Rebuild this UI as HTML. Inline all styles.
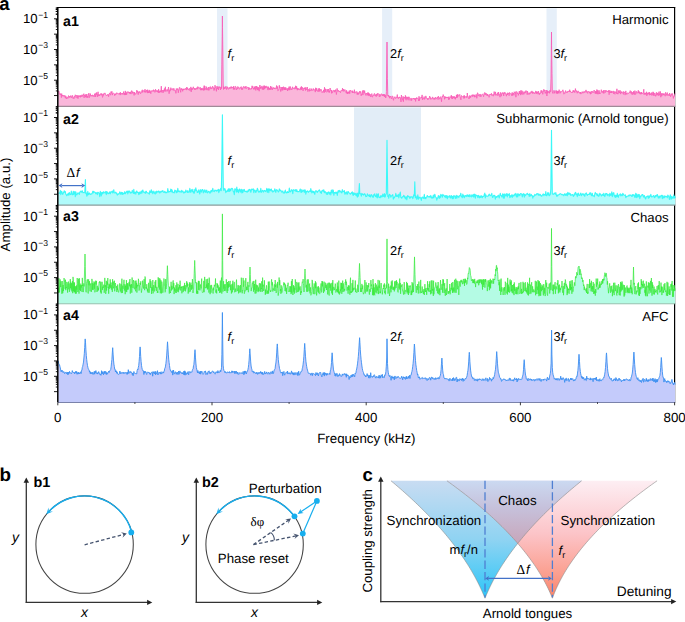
<!DOCTYPE html>
<html><head><meta charset="utf-8"><style>html,body{margin:0;padding:0;background:#fff;}svg{display:block;text-rendering:geometricPrecision;}</style></head><body>
<svg width="685" height="622" viewBox="0 0 685 622" text-rendering="geometricPrecision" style="text-rendering:geometricPrecision">
<rect width="685" height="622" fill="#fff"/>
<line x1="57" y1="7.5" x2="675.2" y2="7.5" stroke="#000" stroke-width="1.1"/>
<line x1="674.6" y1="7" x2="674.6" y2="402.3" stroke="#000" stroke-width="1.2"/>
<rect x="217.0" y="8.3" width="10.5" height="97.9" fill="#e6eff9"/>
<rect x="382.1" y="8.3" width="10.1" height="97.9" fill="#e6eff9"/>
<rect x="546.5" y="8.3" width="10.3" height="97.9" fill="#e6eff9"/>
<rect x="354" y="107.4" width="67" height="97.5" fill="#e2edf7"/>
<path d="M58.3,106.2 L58.3,92.2L58.6,90.8L59.0,91.3L59.3,93.9L59.7,93.9L60.0,94.6L60.3,93.5L60.7,94.7L61.0,94.0L61.4,97.6L61.7,93.6L62.0,96.0L62.4,95.1L62.7,96.2L63.1,96.5L63.4,95.5L63.7,95.1L64.1,96.4L64.4,96.4L64.8,95.4L65.1,97.4L65.4,98.2L65.8,95.9L66.1,97.3L66.5,98.9L66.8,97.5L67.1,97.1L67.5,98.1L67.8,98.5L68.2,96.6L68.5,95.6L68.8,97.0L69.2,97.7L69.5,96.4L69.9,96.0L70.2,97.3L70.5,96.2L70.9,95.5L71.2,97.1L71.6,97.8L71.9,96.3L72.2,96.4L72.6,95.4L72.9,98.3L73.3,97.5L73.6,97.7L73.9,98.8L74.3,96.5L74.6,95.9L75.0,97.5L75.3,94.8L75.6,95.5L76.0,95.7L76.3,96.0L76.7,95.3L77.0,98.1L77.3,95.6L77.7,95.6L78.0,98.6L78.4,95.9L78.7,96.6L79.0,95.3L79.4,96.8L79.7,96.3L80.1,95.8L80.4,97.3L80.7,95.4L81.1,96.3L81.4,95.5L81.8,96.8L82.1,94.7L82.4,95.3L82.8,96.3L83.1,95.2L83.5,94.4L83.8,93.7L84.1,97.9L84.5,94.8L84.8,95.3L85.2,96.0L85.5,97.1L85.8,94.3L86.2,97.4L86.5,95.1L86.9,94.1L87.2,97.8L87.5,96.1L87.9,97.3L88.2,95.4L88.6,93.8L88.9,93.1L89.2,97.8L89.6,96.3L89.9,94.7L90.3,93.6L90.6,95.0L90.9,96.4L91.3,95.1L91.6,95.5L92.0,95.7L92.3,96.3L92.6,94.9L93.0,95.0L93.3,95.5L93.7,95.6L94.0,96.9L94.3,95.9L94.7,93.7L95.0,95.5L95.4,97.0L95.7,93.5L96.0,94.5L96.4,92.5L96.7,95.0L97.1,95.7L97.4,96.9L97.7,93.4L98.1,91.8L98.4,96.0L98.8,95.8L99.1,94.2L99.4,96.0L99.8,95.3L100.1,95.3L100.5,94.6L100.8,93.5L101.1,94.8L101.5,93.6L101.8,95.3L102.2,94.3L102.5,97.4L102.8,96.5L103.2,93.7L103.5,95.4L103.9,93.9L104.2,93.9L104.5,92.9L104.9,93.5L105.2,93.3L105.6,94.7L105.9,95.4L106.2,95.4L106.6,95.0L106.9,95.8L107.3,95.1L107.6,94.5L107.9,94.0L108.3,94.7L108.6,96.7L109.0,94.4L109.3,94.0L109.6,92.9L110.0,93.5L110.3,95.0L110.7,95.1L111.0,91.6L111.3,93.2L111.7,91.8L112.0,91.4L112.4,95.1L112.7,93.5L113.0,93.4L113.4,93.3L113.7,93.3L114.1,93.7L114.4,93.7L114.7,95.7L115.1,94.1L115.4,94.8L115.8,93.6L116.1,94.4L116.4,93.0L116.8,92.7L117.1,93.3L117.5,93.3L117.8,93.5L118.1,94.2L118.5,93.8L118.8,94.2L119.2,93.1L119.5,93.5L119.8,92.8L120.2,95.1L120.5,92.4L120.9,94.4L121.2,94.3L121.5,93.6L121.9,94.1L122.2,93.0L122.6,94.0L122.9,94.6L123.2,94.3L123.6,91.6L123.9,93.2L124.3,94.7L124.6,93.2L124.9,95.1L125.3,90.9L125.6,95.0L126.0,92.5L126.3,92.4L126.6,94.8L127.0,92.6L127.3,91.7L127.7,92.4L128.0,92.6L128.3,91.7L128.7,92.7L129.0,92.4L129.4,93.0L129.7,92.0L130.0,94.0L130.4,91.8L130.7,93.4L131.1,94.1L131.4,92.2L131.7,90.6L132.1,91.5L132.4,93.3L132.8,91.7L133.1,93.2L133.4,92.7L133.8,92.4L134.1,95.4L134.5,92.2L134.8,93.8L135.1,93.3L135.5,94.3L135.8,94.3L136.2,93.5L136.5,91.3L136.8,90.2L137.2,92.3L137.5,90.9L137.9,92.6L138.2,94.6L138.5,92.0L138.9,91.6L139.2,92.7L139.6,91.8L139.9,91.4L140.2,93.2L140.6,93.9L140.9,92.3L141.3,92.3L141.6,92.4L141.9,90.7L142.3,89.8L142.6,92.4L143.0,91.0L143.3,90.7L143.6,91.0L144.0,90.5L144.3,92.3L144.7,90.8L145.0,89.2L145.3,90.7L145.7,92.5L146.0,90.9L146.4,90.1L146.7,91.2L147.0,92.3L147.4,89.7L147.7,93.1L148.1,90.9L148.4,91.5L148.7,93.0L149.1,89.9L149.4,91.0L149.8,92.9L150.1,90.6L150.4,91.9L150.8,93.7L151.1,92.2L151.5,91.0L151.8,90.5L152.1,91.1L152.5,91.2L152.8,90.6L153.2,91.5L153.5,89.7L153.8,91.0L154.2,90.8L154.5,90.5L154.9,92.4L155.2,92.0L155.5,89.2L155.9,90.6L156.2,91.4L156.6,90.6L156.9,91.6L157.2,90.6L157.6,91.8L157.9,90.6L158.3,92.9L158.6,89.2L158.9,91.5L159.3,92.8L159.6,91.1L160.0,91.3L160.3,90.6L160.6,92.2L161.0,90.2L161.3,86.2L161.7,92.3L162.0,90.3L162.3,91.0L162.7,90.4L163.0,92.9L163.4,92.0L163.7,90.0L164.0,90.6L164.4,88.5L164.7,91.4L165.1,90.3L165.4,86.8L165.7,91.4L166.1,91.6L166.4,90.5L166.8,90.5L167.1,89.3L167.4,90.2L167.8,91.3L168.1,90.0L168.5,87.0L168.8,88.7L169.1,93.7L169.5,90.4L169.8,91.3L170.2,89.4L170.5,90.4L170.8,87.7L171.2,89.0L171.5,89.0L171.9,89.9L172.2,90.1L172.5,89.6L172.9,88.4L173.2,89.3L173.6,90.4L173.9,88.4L174.2,89.7L174.6,90.0L174.9,90.9L175.3,90.6L175.6,90.7L175.9,93.3L176.3,88.6L176.6,89.1L177.0,90.1L177.3,88.5L177.6,89.2L178.0,89.3L178.3,92.8L178.7,90.0L179.0,89.0L179.3,87.6L179.7,87.3L180.0,87.8L180.4,91.0L180.7,92.3L181.0,88.8L181.4,89.5L181.7,88.3L182.1,89.6L182.4,89.2L182.7,91.3L183.1,88.9L183.4,90.0L183.8,88.9L184.1,88.8L184.4,89.5L184.8,88.9L185.1,89.3L185.5,88.3L185.8,88.6L186.1,89.9L186.5,89.9L186.8,87.0L187.2,89.3L187.5,87.9L187.8,88.6L188.2,89.8L188.5,90.0L188.9,88.9L189.2,88.7L189.5,88.3L189.9,90.6L190.2,89.7L190.6,89.1L190.9,86.9L191.2,91.9L191.6,88.4L191.9,89.6L192.3,88.3L192.6,89.5L192.9,88.4L193.3,86.8L193.6,88.3L194.0,88.2L194.3,88.3L194.6,89.7L195.0,88.0L195.3,88.9L195.7,89.7L196.0,88.7L196.3,88.9L196.7,87.7L197.0,88.6L197.4,89.2L197.7,86.7L198.0,87.3L198.4,86.9L198.7,87.7L199.1,88.6L199.4,89.0L199.7,88.8L200.1,87.2L200.4,88.3L200.8,90.2L201.1,88.4L201.4,90.1L201.8,88.2L202.1,89.9L202.5,89.9L202.8,88.2L203.1,88.4L203.5,90.4L203.8,87.4L204.2,85.6L204.5,90.2L204.8,86.0L205.2,89.2L205.5,88.9L205.9,88.5L206.2,90.1L206.5,86.7L206.9,87.7L207.2,89.2L207.6,88.6L207.9,90.2L208.2,88.7L208.6,87.1L208.9,90.4L209.3,88.8L209.6,88.1L209.9,86.9L210.3,86.5L210.6,88.8L211.0,89.1L211.3,87.6L211.6,88.7L212.0,88.6L212.3,86.8L212.7,86.1L213.0,87.9L213.3,88.4L213.7,87.5L214.0,90.5L214.4,88.2L214.7,89.5L215.0,85.2L215.4,87.2L215.7,88.0L216.1,88.4L216.4,91.3L216.7,87.2L217.1,86.1L217.4,89.0L217.8,87.2L218.1,87.2L218.4,90.0L218.8,86.9L219.1,86.4L219.5,87.8L219.8,88.1L220.1,87.1L220.5,90.0L220.8,87.9L221.2,86.7L221.5,88.6L221.8,64.9L222.2,36.8L222.4,16.0L222.5,27.6L222.9,56.2L223.2,84.0L223.5,89.5L223.9,86.7L224.2,88.9L224.6,87.5L224.9,88.7L225.2,88.4L225.6,86.5L225.9,87.7L226.3,88.5L226.6,89.5L226.9,86.5L227.3,87.0L227.6,88.3L228.0,87.6L228.3,89.2L228.6,89.2L229.0,88.9L229.3,87.5L229.7,87.5L230.0,88.8L230.3,87.0L230.7,86.9L231.0,87.7L231.4,86.6L231.7,88.3L232.0,88.0L232.4,87.3L232.7,87.9L233.1,86.9L233.4,89.5L233.7,86.1L234.1,88.9L234.4,88.1L234.8,89.6L235.1,87.1L235.4,86.3L235.8,86.6L236.1,86.9L236.5,89.8L236.8,88.9L237.1,88.5L237.5,89.1L237.8,86.5L238.2,87.7L238.5,87.9L238.8,87.3L239.2,89.1L239.5,89.0L239.9,89.0L240.2,87.3L240.5,87.5L240.9,87.2L241.2,86.6L241.6,89.6L241.9,88.6L242.2,87.7L242.6,89.6L242.9,88.6L243.3,86.6L243.6,86.5L243.9,86.6L244.3,87.8L244.6,88.2L245.0,86.6L245.3,88.4L245.6,87.5L246.0,86.2L246.3,88.4L246.7,88.7L247.0,87.9L247.3,87.2L247.7,87.3L248.0,87.7L248.4,87.2L248.7,89.9L249.0,89.0L249.4,87.7L249.7,89.1L250.1,89.6L250.4,89.4L250.7,89.0L251.1,88.1L251.4,89.2L251.8,87.6L252.1,85.8L252.4,88.1L252.8,86.3L253.1,87.5L253.5,89.3L253.8,88.2L254.1,89.1L254.5,86.9L254.8,89.3L255.2,86.2L255.5,87.2L255.8,90.4L256.2,86.9L256.5,86.0L256.9,88.9L257.2,86.7L257.5,90.1L257.9,87.6L258.2,90.0L258.6,87.3L258.9,90.1L259.2,91.2L259.6,87.4L259.9,85.0L260.3,88.7L260.6,86.9L260.9,87.8L261.3,88.3L261.6,87.2L262.0,85.9L262.3,89.5L262.6,87.3L263.0,87.5L263.3,89.8L263.7,86.0L264.0,85.6L264.3,89.2L264.7,85.8L265.0,88.0L265.4,88.2L265.7,86.2L266.0,87.8L266.4,87.7L266.7,86.2L267.1,86.5L267.4,87.0L267.7,89.8L268.1,90.1L268.4,86.7L268.8,89.3L269.1,87.9L269.4,89.5L269.8,88.4L270.1,89.8L270.5,86.1L270.8,89.4L271.1,88.3L271.5,88.4L271.8,86.7L272.2,90.0L272.5,88.3L272.8,88.5L273.2,87.6L273.5,87.6L273.9,88.8L274.2,88.0L274.5,88.7L274.9,87.7L275.2,88.4L275.6,89.1L275.9,88.3L276.2,87.9L276.6,85.5L276.9,88.9L277.3,87.9L277.6,86.5L277.9,90.9L278.3,90.5L278.6,89.9L279.0,88.5L279.3,85.3L279.6,87.9L280.0,86.9L280.3,88.7L280.7,91.5L281.0,91.3L281.3,87.2L281.7,88.2L282.0,90.1L282.4,87.1L282.7,90.4L283.0,87.1L283.4,86.7L283.7,89.4L284.1,89.9L284.4,87.5L284.7,89.9L285.1,87.4L285.4,90.0L285.8,87.5L286.1,88.4L286.4,89.1L286.8,89.7L287.1,88.3L287.5,91.0L287.8,88.9L288.1,89.1L288.5,87.8L288.8,90.2L289.2,86.5L289.5,89.0L289.8,90.1L290.2,86.9L290.5,86.6L290.9,88.9L291.2,89.8L291.5,88.7L291.9,89.6L292.2,89.1L292.6,86.8L292.9,88.2L293.2,88.5L293.6,88.3L293.9,88.8L294.3,87.7L294.6,87.7L294.9,89.2L295.3,88.7L295.6,85.8L296.0,88.3L296.3,89.0L296.6,86.3L297.0,88.8L297.3,90.2L297.7,88.0L298.0,90.0L298.3,89.5L298.7,88.5L299.0,89.0L299.4,89.8L299.7,89.6L300.0,89.6L300.4,87.5L300.7,89.8L301.1,89.7L301.4,86.4L301.7,89.7L302.1,87.2L302.4,87.4L302.8,89.3L303.1,90.9L303.4,88.5L303.8,88.3L304.1,87.9L304.5,89.1L304.8,87.7L305.1,87.5L305.5,90.5L305.8,87.5L306.2,89.1L306.5,90.0L306.8,89.7L307.2,87.0L307.5,88.1L307.9,91.6L308.2,89.3L308.5,89.6L308.9,89.7L309.2,90.1L309.6,91.3L309.9,88.4L310.2,90.7L310.6,90.0L310.9,90.3L311.3,90.5L311.6,88.7L311.9,89.1L312.3,90.5L312.6,90.8L313.0,90.3L313.3,88.5L313.6,89.6L314.0,89.4L314.3,90.2L314.7,90.1L315.0,89.5L315.3,92.1L315.7,87.8L316.0,90.8L316.4,90.6L316.7,88.2L317.0,89.6L317.4,89.9L317.7,90.7L318.1,91.9L318.4,89.8L318.7,88.5L319.1,91.2L319.4,88.4L319.8,91.5L320.1,91.0L320.4,89.5L320.8,90.1L321.1,89.3L321.5,91.1L321.8,91.5L322.1,92.6L322.5,91.8L322.8,91.6L323.2,92.1L323.5,89.9L323.8,91.2L324.2,92.8L324.5,87.3L324.9,91.4L325.2,92.0L325.5,88.9L325.9,89.0L326.2,91.9L326.6,92.3L326.9,91.8L327.2,89.1L327.6,90.9L327.9,91.6L328.3,90.6L328.6,89.1L328.9,92.4L329.3,91.1L329.6,92.4L330.0,88.0L330.3,88.4L330.6,89.5L331.0,90.9L331.3,90.0L331.7,93.4L332.0,90.5L332.3,92.5L332.7,92.5L333.0,91.8L333.4,91.3L333.7,90.2L334.0,90.1L334.4,90.6L334.7,92.2L335.1,90.2L335.4,91.2L335.7,89.6L336.1,92.2L336.4,94.5L336.8,91.7L337.1,88.4L337.4,90.6L337.8,91.4L338.1,90.1L338.5,90.6L338.8,90.7L339.1,91.9L339.5,91.2L339.8,91.0L340.2,92.1L340.5,92.7L340.8,91.2L341.2,90.2L341.5,90.6L341.9,90.8L342.2,90.8L342.5,88.2L342.9,91.1L343.2,90.2L343.6,89.1L343.9,91.5L344.2,91.2L344.6,90.3L344.9,89.5L345.3,91.2L345.6,91.2L345.9,91.5L346.3,93.2L346.6,90.3L347.0,92.0L347.3,93.9L347.6,91.9L348.0,93.9L348.3,93.1L348.7,91.8L349.0,93.0L349.3,90.5L349.7,93.7L350.0,91.6L350.4,91.2L350.7,90.1L351.0,90.9L351.4,91.8L351.7,92.0L352.1,92.2L352.4,90.7L352.7,93.0L353.1,91.6L353.4,92.4L353.8,92.0L354.1,92.7L354.4,89.7L354.8,93.3L355.1,92.2L355.5,92.2L355.8,91.8L356.1,92.0L356.5,92.1L356.8,91.5L357.2,94.6L357.5,92.7L357.8,94.3L358.2,92.5L358.5,94.4L358.9,94.1L359.2,93.0L359.5,91.3L359.9,92.3L360.2,92.7L360.6,91.4L360.9,94.3L361.2,95.8L361.6,93.8L361.9,93.6L362.3,91.8L362.6,90.7L362.9,95.1L363.3,90.3L363.6,91.5L364.0,92.5L364.3,93.1L364.6,90.6L365.0,93.5L365.3,94.3L365.7,93.5L366.0,95.5L366.3,93.2L366.7,94.0L367.0,93.5L367.4,93.5L367.7,95.3L368.0,92.3L368.4,95.3L368.7,93.0L369.1,96.1L369.4,93.7L369.7,95.2L370.1,94.2L370.4,95.1L370.8,97.0L371.1,95.7L371.4,94.3L371.8,93.6L372.1,96.3L372.5,97.2L372.8,95.6L373.1,94.8L373.5,95.4L373.8,95.7L374.2,93.6L374.5,93.5L374.8,93.9L375.2,96.0L375.5,94.8L375.9,95.1L376.2,96.7L376.5,93.9L376.9,94.9L377.2,95.7L377.6,93.3L377.9,94.2L378.2,94.1L378.6,93.7L378.9,94.4L379.3,96.9L379.6,95.8L379.9,94.1L380.3,96.4L380.6,95.4L381.0,95.0L381.3,93.7L381.6,93.9L382.0,94.5L382.3,95.9L382.7,94.5L383.0,95.1L383.3,96.0L383.7,94.1L384.0,95.2L384.4,96.8L384.7,94.3L385.0,96.3L385.4,95.3L385.7,98.0L386.1,96.1L386.4,91.4L386.7,66.0L387.0,42.0L387.4,78.2L387.8,95.8L388.1,96.0L388.4,95.0L388.8,96.6L389.1,95.8L389.5,98.2L389.8,96.3L390.1,97.1L390.5,96.0L390.8,96.4L391.2,98.4L391.5,99.0L391.8,98.0L392.2,95.9L392.5,96.3L392.9,96.4L393.2,99.5L393.5,100.3L393.9,97.8L394.2,97.5L394.6,97.8L394.9,96.7L395.2,97.4L395.6,98.7L395.9,98.4L396.3,97.1L396.6,97.2L396.9,97.5L397.3,94.6L397.6,97.8L398.0,97.3L398.3,98.8L398.6,98.0L399.0,97.0L399.3,96.9L399.7,97.9L400.0,97.2L400.3,97.7L400.7,100.2L401.0,101.9L401.4,95.0L401.7,96.9L402.0,98.0L402.4,100.2L402.7,99.6L403.1,96.4L403.4,101.6L403.7,98.6L404.1,97.1L404.4,98.1L404.8,97.3L405.1,98.5L405.4,95.4L405.8,99.7L406.1,100.2L406.5,98.1L406.8,96.7L407.1,98.6L407.5,97.3L407.8,99.3L408.2,100.2L408.5,97.0L408.8,96.8L409.2,96.9L409.5,99.4L409.9,100.3L410.2,100.4L410.5,99.2L410.9,98.1L411.2,98.2L411.6,100.6L411.9,98.6L412.2,98.8L412.6,98.7L412.9,98.8L413.3,99.0L413.6,98.0L413.9,98.6L414.3,98.5L414.6,99.6L415.0,98.2L415.3,98.9L415.6,101.4L416.0,98.1L416.3,99.0L416.7,97.5L417.0,98.9L417.3,98.8L417.7,98.4L418.0,98.6L418.4,99.2L418.7,100.9L419.0,96.3L419.4,100.6L419.7,99.0L420.1,97.7L420.4,98.1L420.7,97.8L421.1,97.6L421.4,96.9L421.8,98.1L422.1,94.9L422.4,99.8L422.8,98.2L423.1,98.9L423.5,99.1L423.8,98.1L424.1,96.6L424.5,99.3L424.8,99.3L425.2,97.5L425.5,97.7L425.8,95.9L426.2,97.1L426.5,98.1L426.9,98.7L427.2,98.1L427.5,98.5L427.9,100.0L428.2,98.3L428.6,98.5L428.9,98.6L429.2,98.8L429.6,96.1L429.9,97.4L430.3,97.1L430.6,99.0L430.9,99.5L431.3,98.5L431.6,97.9L432.0,98.6L432.3,98.4L432.6,96.9L433.0,97.8L433.3,99.4L433.7,98.6L434.0,98.9L434.3,97.9L434.7,99.5L435.0,98.3L435.4,97.2L435.7,98.0L436.0,99.2L436.4,98.8L436.7,97.9L437.1,97.4L437.4,96.9L437.7,98.2L438.1,99.6L438.4,96.2L438.8,97.6L439.1,97.4L439.4,97.5L439.8,99.2L440.1,98.3L440.5,97.5L440.8,96.6L441.1,97.7L441.5,101.7L441.8,98.1L442.2,97.3L442.5,96.1L442.8,96.8L443.2,94.6L443.5,95.9L443.9,96.0L444.2,96.4L444.5,99.3L444.9,96.5L445.2,96.8L445.6,98.2L445.9,96.8L446.2,97.0L446.6,98.0L446.9,97.6L447.3,97.7L447.6,97.1L447.9,97.9L448.3,96.7L448.6,99.7L449.0,97.7L449.3,99.4L449.6,97.9L450.0,96.6L450.3,97.2L450.7,97.3L451.0,97.1L451.3,95.2L451.7,98.5L452.0,96.0L452.4,99.0L452.7,97.6L453.0,96.8L453.4,98.1L453.7,96.7L454.1,96.1L454.4,98.4L454.7,97.0L455.1,97.4L455.4,99.3L455.8,97.1L456.1,97.8L456.4,95.1L456.8,97.9L457.1,94.6L457.5,97.4L457.8,94.3L458.1,96.0L458.5,96.1L458.8,95.6L459.2,95.5L459.5,94.8L459.8,94.4L460.2,97.0L460.5,98.1L460.9,99.8L461.2,97.0L461.5,95.5L461.9,96.0L462.2,96.3L462.6,96.8L462.9,97.2L463.2,96.7L463.6,95.8L463.9,98.5L464.3,95.4L464.6,98.1L464.9,96.4L465.3,97.0L465.6,96.7L466.0,97.5L466.3,97.6L466.6,96.4L467.0,97.5L467.3,93.0L467.7,96.6L468.0,96.9L468.3,96.7L468.7,97.3L469.0,99.0L469.4,96.3L469.7,95.5L470.0,97.8L470.4,95.9L470.7,97.4L471.1,95.9L471.4,95.4L471.7,95.2L472.1,95.2L472.4,96.6L472.8,94.6L473.1,96.3L473.4,95.2L473.8,94.8L474.1,96.0L474.5,97.2L474.8,94.8L475.1,97.0L475.5,96.7L475.8,96.9L476.2,94.4L476.5,95.7L476.8,98.3L477.2,94.5L477.5,92.8L477.9,93.1L478.2,96.1L478.5,95.2L478.9,94.7L479.2,94.2L479.6,95.2L479.9,96.6L480.2,94.3L480.6,94.4L480.9,96.8L481.3,95.6L481.6,94.8L481.9,95.1L482.3,94.4L482.6,94.1L483.0,94.4L483.3,95.2L483.6,96.7L484.0,94.2L484.3,93.2L484.7,92.5L485.0,95.0L485.3,94.9L485.7,93.1L486.0,93.0L486.4,94.4L486.7,93.9L487.0,95.7L487.4,94.0L487.7,95.8L488.1,94.9L488.4,94.8L488.7,95.3L489.1,97.3L489.4,95.7L489.8,94.2L490.1,94.7L490.4,95.0L490.8,94.0L491.1,93.6L491.5,93.4L491.8,95.5L492.1,94.4L492.5,94.8L492.8,95.5L493.2,96.2L493.5,94.5L493.8,95.4L494.2,91.6L494.5,94.4L494.9,94.5L495.2,94.7L495.5,91.9L495.9,95.4L496.2,94.4L496.6,95.1L496.9,94.3L497.2,94.1L497.6,92.7L497.9,95.8L498.3,94.1L498.6,92.0L498.9,94.6L499.3,94.2L499.6,95.1L500.0,97.2L500.3,94.0L500.6,92.4L501.0,94.5L501.3,96.2L501.7,93.5L502.0,93.7L502.3,92.6L502.7,92.7L503.0,94.1L503.4,93.3L503.7,96.0L504.0,92.4L504.4,93.5L504.7,92.4L505.1,92.4L505.4,94.0L505.7,93.9L506.1,94.8L506.4,96.2L506.8,93.8L507.1,93.4L507.4,95.0L507.8,92.7L508.1,93.5L508.5,93.0L508.8,94.5L509.1,95.7L509.5,92.5L509.8,92.7L510.2,93.6L510.5,94.0L510.8,93.8L511.2,93.6L511.5,94.1L511.9,95.9L512.2,92.4L512.5,95.3L512.9,93.8L513.2,93.7L513.6,93.0L513.9,95.3L514.2,91.8L514.6,92.5L514.9,92.3L515.3,91.7L515.6,94.2L515.9,97.2L516.3,92.8L516.6,91.6L517.0,91.7L517.3,93.8L517.6,93.3L518.0,92.8L518.3,95.4L518.7,93.9L519.0,93.9L519.3,91.1L519.7,93.9L520.0,91.1L520.4,93.0L520.7,95.1L521.0,90.2L521.4,94.2L521.7,92.2L522.1,90.8L522.4,93.6L522.7,94.5L523.1,91.6L523.4,92.8L523.8,94.4L524.1,94.2L524.4,93.3L524.8,91.6L525.1,93.2L525.5,92.0L525.8,90.7L526.1,91.2L526.5,91.0L526.8,91.2L527.2,94.7L527.5,91.2L527.8,92.3L528.2,92.8L528.5,94.0L528.9,94.6L529.2,94.0L529.5,92.7L529.9,94.1L530.2,93.6L530.6,93.4L530.9,91.7L531.2,92.9L531.6,92.7L531.9,90.9L532.3,92.9L532.6,91.8L532.9,93.8L533.3,92.1L533.6,92.3L534.0,92.2L534.3,93.0L534.6,93.7L535.0,92.8L535.3,93.0L535.7,91.1L536.0,91.2L536.3,93.9L536.7,91.6L537.0,93.0L537.4,91.8L537.7,92.9L538.0,94.2L538.4,91.1L538.7,91.8L539.1,93.9L539.4,94.7L539.7,93.0L540.1,93.8L540.4,92.7L540.8,91.5L541.1,90.4L541.4,92.7L541.8,90.5L542.1,90.8L542.5,92.8L542.8,94.3L543.1,91.2L543.5,91.5L543.8,89.3L544.2,90.4L544.5,91.2L544.8,90.1L545.2,93.5L545.5,91.9L545.9,92.5L546.2,90.0L546.5,91.5L546.9,96.0L547.2,90.4L547.6,93.3L547.9,91.2L548.2,92.7L548.6,91.8L548.9,91.3L549.3,91.9L549.6,93.3L549.9,90.3L550.3,91.6L550.6,91.9L551.0,78.2L551.3,51.1L551.5,32.0L551.6,45.6L552.0,73.5L552.3,91.1L552.7,93.2L553.0,93.5L553.3,91.7L553.7,91.6L554.0,90.3L554.4,91.4L554.7,93.3L555.0,91.3L555.4,90.9L555.7,90.7L556.1,91.5L556.4,93.5L556.7,90.5L557.1,92.8L557.4,91.2L557.8,93.9L558.1,91.0L558.4,92.9L558.8,90.5L559.1,89.7L559.5,90.4L559.8,93.3L560.1,93.1L560.5,93.0L560.8,91.0L561.2,91.4L561.5,91.7L561.8,91.5L562.2,91.2L562.5,91.1L562.9,89.8L563.2,91.9L563.5,91.6L563.9,94.2L564.2,93.5L564.6,92.7L564.9,93.4L565.2,91.6L565.6,90.6L565.9,92.4L566.3,92.5L566.6,92.5L566.9,91.7L567.3,92.6L567.6,91.4L568.0,91.5L568.3,91.5L568.6,90.9L569.0,91.9L569.3,91.7L569.7,89.7L570.0,92.0L570.3,90.9L570.7,91.8L571.0,92.5L571.4,92.5L571.7,92.9L572.0,91.9L572.4,92.7L572.7,92.4L573.1,90.4L573.4,92.1L573.7,90.5L574.1,91.6L574.4,90.8L574.8,92.7L575.1,91.7L575.4,88.6L575.8,90.9L576.1,90.6L576.5,91.6L576.8,90.8L577.1,93.4L577.5,93.0L577.8,91.4L578.2,90.9L578.5,92.4L578.8,92.1L579.2,92.4L579.5,92.1L579.9,93.4L580.2,93.7L580.5,92.0L580.9,94.1L581.2,93.1L581.6,92.7L581.9,93.2L582.2,91.6L582.6,92.5L582.9,92.0L583.3,93.2L583.6,92.9L583.9,91.3L584.3,91.5L584.6,92.5L585.0,91.5L585.3,91.7L585.6,91.7L586.0,89.9L586.3,92.4L586.7,91.4L587.0,91.4L587.3,92.2L587.7,93.4L588.0,91.1L588.4,91.6L588.7,91.9L589.0,91.9L589.4,91.9L589.7,93.1L590.1,91.6L590.4,94.2L590.7,92.0L591.1,93.8L591.4,92.4L591.8,91.1L592.1,92.3L592.4,92.6L592.8,91.3L593.1,92.3L593.5,92.5L593.8,92.5L594.1,90.1L594.5,91.1L594.8,91.4L595.2,93.5L595.5,91.2L595.8,93.6L596.2,91.4L596.5,93.4L596.9,89.5L597.2,94.1L597.5,90.4L597.9,91.0L598.2,94.2L598.6,92.3L598.9,90.2L599.2,90.6L599.6,94.0L599.9,92.6L600.3,93.5L600.6,93.3L600.9,92.8L601.3,89.7L601.6,91.9L602.0,92.3L602.3,92.5L602.6,91.2L603.0,91.2L603.3,93.2L603.7,90.2L604.0,93.4L604.3,92.4L604.7,91.5L605.0,90.0L605.4,92.5L605.7,91.8L606.0,90.5L606.4,91.4L606.7,90.7L607.1,90.9L607.4,91.8L607.7,91.4L608.1,91.0L608.4,92.2L608.8,90.2L609.1,94.7L609.4,93.4L609.8,90.4L610.1,91.7L610.5,93.0L610.8,91.8L611.1,90.9L611.5,93.0L611.8,91.3L612.2,92.4L612.5,92.4L612.8,92.4L613.2,90.9L613.5,93.7L613.9,92.8L614.2,91.5L614.5,93.9L614.9,94.3L615.2,91.6L615.6,92.4L615.9,92.6L616.2,92.2L616.6,93.6L616.9,88.8L617.3,93.6L617.6,93.0L617.9,94.2L618.3,93.0L618.6,90.5L619.0,92.4L619.3,91.7L619.6,93.1L620.0,90.2L620.3,92.3L620.7,94.1L621.0,91.5L621.3,93.0L621.7,91.8L622.0,92.4L622.4,92.2L622.7,92.4L623.0,93.7L623.4,94.4L623.7,91.4L624.1,92.8L624.4,92.2L624.7,93.2L625.1,95.1L625.4,94.2L625.8,90.9L626.1,93.6L626.4,93.1L626.8,94.5L627.1,93.3L627.5,93.1L627.8,93.0L628.1,92.8L628.5,93.5L628.8,93.4L629.2,92.7L629.5,92.3L629.8,92.9L630.2,90.6L630.5,92.5L630.9,92.6L631.2,93.6L631.5,91.5L631.9,94.1L632.2,94.8L632.6,94.0L632.9,92.0L633.2,94.2L633.6,91.2L633.9,92.9L634.3,94.7L634.6,93.1L634.9,90.6L635.3,93.9L635.6,94.5L636.0,92.2L636.3,91.3L636.6,91.6L637.0,93.3L637.3,92.7L637.7,92.5L638.0,91.5L638.3,90.3L638.7,93.1L639.0,91.3L639.4,93.4L639.7,92.2L640.0,94.2L640.4,94.0L640.7,92.5L641.1,94.2L641.4,92.0L641.7,93.8L642.1,93.0L642.4,93.2L642.8,93.6L643.1,93.0L643.4,91.8L643.8,89.3L644.1,94.7L644.5,92.9L644.8,93.5L645.1,94.4L645.5,92.9L645.8,94.4L646.2,93.4L646.5,91.8L646.8,95.9L647.2,93.1L647.5,92.9L647.9,94.6L648.2,92.8L648.5,93.0L648.9,93.9L649.2,92.0L649.6,95.2L649.9,92.8L650.2,93.9L650.6,94.9L650.9,93.8L651.3,94.1L651.6,92.6L651.9,95.5L652.3,93.9L652.6,94.3L653.0,91.8L653.3,95.1L653.6,92.4L654.0,96.0L654.3,93.4L654.7,94.0L655.0,93.4L655.3,94.7L655.7,96.3L656.0,95.8L656.4,92.3L656.7,93.7L657.0,95.1L657.4,92.9L657.7,94.9L658.1,95.0L658.4,95.6L658.7,92.6L659.1,91.6L659.4,95.3L659.8,93.8L660.1,92.9L660.4,91.5L660.8,97.2L661.1,94.0L661.5,93.4L661.8,96.1L662.1,93.8L662.5,94.1L662.8,93.4L663.2,95.1L663.5,93.8L663.8,95.1L664.2,93.6L664.5,94.2L664.9,94.9L665.2,96.2L665.5,92.4L665.9,93.1L666.2,93.4L666.6,95.4L666.9,95.0L667.2,92.5L667.6,93.7L667.9,95.7L668.3,94.6L668.6,94.5L668.9,94.9L669.3,95.9L669.6,93.1L670.0,94.0L670.3,95.0L670.6,96.7L671.0,95.5L671.3,94.8L671.7,93.7L672.0,95.3L672.3,93.5L672.7,94.7L673.0,95.8L673.4,98.4L673.7,96.4L674.0,96.8L674.4,95.2L674.7,94.6L675.1,93.3 L675.1,106.2 Z" fill="#fab6da" stroke="none"/>
<path d="M58.3,92.2L58.6,90.8L59.0,91.3L59.3,93.9L59.7,93.9L60.0,94.6L60.3,93.5L60.7,94.7L61.0,94.0L61.4,97.6L61.7,93.6L62.0,96.0L62.4,95.1L62.7,96.2L63.1,96.5L63.4,95.5L63.7,95.1L64.1,96.4L64.4,96.4L64.8,95.4L65.1,97.4L65.4,98.2L65.8,95.9L66.1,97.3L66.5,98.9L66.8,97.5L67.1,97.1L67.5,98.1L67.8,98.5L68.2,96.6L68.5,95.6L68.8,97.0L69.2,97.7L69.5,96.4L69.9,96.0L70.2,97.3L70.5,96.2L70.9,95.5L71.2,97.1L71.6,97.8L71.9,96.3L72.2,96.4L72.6,95.4L72.9,98.3L73.3,97.5L73.6,97.7L73.9,98.8L74.3,96.5L74.6,95.9L75.0,97.5L75.3,94.8L75.6,95.5L76.0,95.7L76.3,96.0L76.7,95.3L77.0,98.1L77.3,95.6L77.7,95.6L78.0,98.6L78.4,95.9L78.7,96.6L79.0,95.3L79.4,96.8L79.7,96.3L80.1,95.8L80.4,97.3L80.7,95.4L81.1,96.3L81.4,95.5L81.8,96.8L82.1,94.7L82.4,95.3L82.8,96.3L83.1,95.2L83.5,94.4L83.8,93.7L84.1,97.9L84.5,94.8L84.8,95.3L85.2,96.0L85.5,97.1L85.8,94.3L86.2,97.4L86.5,95.1L86.9,94.1L87.2,97.8L87.5,96.1L87.9,97.3L88.2,95.4L88.6,93.8L88.9,93.1L89.2,97.8L89.6,96.3L89.9,94.7L90.3,93.6L90.6,95.0L90.9,96.4L91.3,95.1L91.6,95.5L92.0,95.7L92.3,96.3L92.6,94.9L93.0,95.0L93.3,95.5L93.7,95.6L94.0,96.9L94.3,95.9L94.7,93.7L95.0,95.5L95.4,97.0L95.7,93.5L96.0,94.5L96.4,92.5L96.7,95.0L97.1,95.7L97.4,96.9L97.7,93.4L98.1,91.8L98.4,96.0L98.8,95.8L99.1,94.2L99.4,96.0L99.8,95.3L100.1,95.3L100.5,94.6L100.8,93.5L101.1,94.8L101.5,93.6L101.8,95.3L102.2,94.3L102.5,97.4L102.8,96.5L103.2,93.7L103.5,95.4L103.9,93.9L104.2,93.9L104.5,92.9L104.9,93.5L105.2,93.3L105.6,94.7L105.9,95.4L106.2,95.4L106.6,95.0L106.9,95.8L107.3,95.1L107.6,94.5L107.9,94.0L108.3,94.7L108.6,96.7L109.0,94.4L109.3,94.0L109.6,92.9L110.0,93.5L110.3,95.0L110.7,95.1L111.0,91.6L111.3,93.2L111.7,91.8L112.0,91.4L112.4,95.1L112.7,93.5L113.0,93.4L113.4,93.3L113.7,93.3L114.1,93.7L114.4,93.7L114.7,95.7L115.1,94.1L115.4,94.8L115.8,93.6L116.1,94.4L116.4,93.0L116.8,92.7L117.1,93.3L117.5,93.3L117.8,93.5L118.1,94.2L118.5,93.8L118.8,94.2L119.2,93.1L119.5,93.5L119.8,92.8L120.2,95.1L120.5,92.4L120.9,94.4L121.2,94.3L121.5,93.6L121.9,94.1L122.2,93.0L122.6,94.0L122.9,94.6L123.2,94.3L123.6,91.6L123.9,93.2L124.3,94.7L124.6,93.2L124.9,95.1L125.3,90.9L125.6,95.0L126.0,92.5L126.3,92.4L126.6,94.8L127.0,92.6L127.3,91.7L127.7,92.4L128.0,92.6L128.3,91.7L128.7,92.7L129.0,92.4L129.4,93.0L129.7,92.0L130.0,94.0L130.4,91.8L130.7,93.4L131.1,94.1L131.4,92.2L131.7,90.6L132.1,91.5L132.4,93.3L132.8,91.7L133.1,93.2L133.4,92.7L133.8,92.4L134.1,95.4L134.5,92.2L134.8,93.8L135.1,93.3L135.5,94.3L135.8,94.3L136.2,93.5L136.5,91.3L136.8,90.2L137.2,92.3L137.5,90.9L137.9,92.6L138.2,94.6L138.5,92.0L138.9,91.6L139.2,92.7L139.6,91.8L139.9,91.4L140.2,93.2L140.6,93.9L140.9,92.3L141.3,92.3L141.6,92.4L141.9,90.7L142.3,89.8L142.6,92.4L143.0,91.0L143.3,90.7L143.6,91.0L144.0,90.5L144.3,92.3L144.7,90.8L145.0,89.2L145.3,90.7L145.7,92.5L146.0,90.9L146.4,90.1L146.7,91.2L147.0,92.3L147.4,89.7L147.7,93.1L148.1,90.9L148.4,91.5L148.7,93.0L149.1,89.9L149.4,91.0L149.8,92.9L150.1,90.6L150.4,91.9L150.8,93.7L151.1,92.2L151.5,91.0L151.8,90.5L152.1,91.1L152.5,91.2L152.8,90.6L153.2,91.5L153.5,89.7L153.8,91.0L154.2,90.8L154.5,90.5L154.9,92.4L155.2,92.0L155.5,89.2L155.9,90.6L156.2,91.4L156.6,90.6L156.9,91.6L157.2,90.6L157.6,91.8L157.9,90.6L158.3,92.9L158.6,89.2L158.9,91.5L159.3,92.8L159.6,91.1L160.0,91.3L160.3,90.6L160.6,92.2L161.0,90.2L161.3,86.2L161.7,92.3L162.0,90.3L162.3,91.0L162.7,90.4L163.0,92.9L163.4,92.0L163.7,90.0L164.0,90.6L164.4,88.5L164.7,91.4L165.1,90.3L165.4,86.8L165.7,91.4L166.1,91.6L166.4,90.5L166.8,90.5L167.1,89.3L167.4,90.2L167.8,91.3L168.1,90.0L168.5,87.0L168.8,88.7L169.1,93.7L169.5,90.4L169.8,91.3L170.2,89.4L170.5,90.4L170.8,87.7L171.2,89.0L171.5,89.0L171.9,89.9L172.2,90.1L172.5,89.6L172.9,88.4L173.2,89.3L173.6,90.4L173.9,88.4L174.2,89.7L174.6,90.0L174.9,90.9L175.3,90.6L175.6,90.7L175.9,93.3L176.3,88.6L176.6,89.1L177.0,90.1L177.3,88.5L177.6,89.2L178.0,89.3L178.3,92.8L178.7,90.0L179.0,89.0L179.3,87.6L179.7,87.3L180.0,87.8L180.4,91.0L180.7,92.3L181.0,88.8L181.4,89.5L181.7,88.3L182.1,89.6L182.4,89.2L182.7,91.3L183.1,88.9L183.4,90.0L183.8,88.9L184.1,88.8L184.4,89.5L184.8,88.9L185.1,89.3L185.5,88.3L185.8,88.6L186.1,89.9L186.5,89.9L186.8,87.0L187.2,89.3L187.5,87.9L187.8,88.6L188.2,89.8L188.5,90.0L188.9,88.9L189.2,88.7L189.5,88.3L189.9,90.6L190.2,89.7L190.6,89.1L190.9,86.9L191.2,91.9L191.6,88.4L191.9,89.6L192.3,88.3L192.6,89.5L192.9,88.4L193.3,86.8L193.6,88.3L194.0,88.2L194.3,88.3L194.6,89.7L195.0,88.0L195.3,88.9L195.7,89.7L196.0,88.7L196.3,88.9L196.7,87.7L197.0,88.6L197.4,89.2L197.7,86.7L198.0,87.3L198.4,86.9L198.7,87.7L199.1,88.6L199.4,89.0L199.7,88.8L200.1,87.2L200.4,88.3L200.8,90.2L201.1,88.4L201.4,90.1L201.8,88.2L202.1,89.9L202.5,89.9L202.8,88.2L203.1,88.4L203.5,90.4L203.8,87.4L204.2,85.6L204.5,90.2L204.8,86.0L205.2,89.2L205.5,88.9L205.9,88.5L206.2,90.1L206.5,86.7L206.9,87.7L207.2,89.2L207.6,88.6L207.9,90.2L208.2,88.7L208.6,87.1L208.9,90.4L209.3,88.8L209.6,88.1L209.9,86.9L210.3,86.5L210.6,88.8L211.0,89.1L211.3,87.6L211.6,88.7L212.0,88.6L212.3,86.8L212.7,86.1L213.0,87.9L213.3,88.4L213.7,87.5L214.0,90.5L214.4,88.2L214.7,89.5L215.0,85.2L215.4,87.2L215.7,88.0L216.1,88.4L216.4,91.3L216.7,87.2L217.1,86.1L217.4,89.0L217.8,87.2L218.1,87.2L218.4,90.0L218.8,86.9L219.1,86.4L219.5,87.8L219.8,88.1L220.1,87.1L220.5,90.0L220.8,87.9L221.2,86.7L221.5,88.6L221.8,64.9L222.2,36.8L222.4,16.0L222.5,27.6L222.9,56.2L223.2,84.0L223.5,89.5L223.9,86.7L224.2,88.9L224.6,87.5L224.9,88.7L225.2,88.4L225.6,86.5L225.9,87.7L226.3,88.5L226.6,89.5L226.9,86.5L227.3,87.0L227.6,88.3L228.0,87.6L228.3,89.2L228.6,89.2L229.0,88.9L229.3,87.5L229.7,87.5L230.0,88.8L230.3,87.0L230.7,86.9L231.0,87.7L231.4,86.6L231.7,88.3L232.0,88.0L232.4,87.3L232.7,87.9L233.1,86.9L233.4,89.5L233.7,86.1L234.1,88.9L234.4,88.1L234.8,89.6L235.1,87.1L235.4,86.3L235.8,86.6L236.1,86.9L236.5,89.8L236.8,88.9L237.1,88.5L237.5,89.1L237.8,86.5L238.2,87.7L238.5,87.9L238.8,87.3L239.2,89.1L239.5,89.0L239.9,89.0L240.2,87.3L240.5,87.5L240.9,87.2L241.2,86.6L241.6,89.6L241.9,88.6L242.2,87.7L242.6,89.6L242.9,88.6L243.3,86.6L243.6,86.5L243.9,86.6L244.3,87.8L244.6,88.2L245.0,86.6L245.3,88.4L245.6,87.5L246.0,86.2L246.3,88.4L246.7,88.7L247.0,87.9L247.3,87.2L247.7,87.3L248.0,87.7L248.4,87.2L248.7,89.9L249.0,89.0L249.4,87.7L249.7,89.1L250.1,89.6L250.4,89.4L250.7,89.0L251.1,88.1L251.4,89.2L251.8,87.6L252.1,85.8L252.4,88.1L252.8,86.3L253.1,87.5L253.5,89.3L253.8,88.2L254.1,89.1L254.5,86.9L254.8,89.3L255.2,86.2L255.5,87.2L255.8,90.4L256.2,86.9L256.5,86.0L256.9,88.9L257.2,86.7L257.5,90.1L257.9,87.6L258.2,90.0L258.6,87.3L258.9,90.1L259.2,91.2L259.6,87.4L259.9,85.0L260.3,88.7L260.6,86.9L260.9,87.8L261.3,88.3L261.6,87.2L262.0,85.9L262.3,89.5L262.6,87.3L263.0,87.5L263.3,89.8L263.7,86.0L264.0,85.6L264.3,89.2L264.7,85.8L265.0,88.0L265.4,88.2L265.7,86.2L266.0,87.8L266.4,87.7L266.7,86.2L267.1,86.5L267.4,87.0L267.7,89.8L268.1,90.1L268.4,86.7L268.8,89.3L269.1,87.9L269.4,89.5L269.8,88.4L270.1,89.8L270.5,86.1L270.8,89.4L271.1,88.3L271.5,88.4L271.8,86.7L272.2,90.0L272.5,88.3L272.8,88.5L273.2,87.6L273.5,87.6L273.9,88.8L274.2,88.0L274.5,88.7L274.9,87.7L275.2,88.4L275.6,89.1L275.9,88.3L276.2,87.9L276.6,85.5L276.9,88.9L277.3,87.9L277.6,86.5L277.9,90.9L278.3,90.5L278.6,89.9L279.0,88.5L279.3,85.3L279.6,87.9L280.0,86.9L280.3,88.7L280.7,91.5L281.0,91.3L281.3,87.2L281.7,88.2L282.0,90.1L282.4,87.1L282.7,90.4L283.0,87.1L283.4,86.7L283.7,89.4L284.1,89.9L284.4,87.5L284.7,89.9L285.1,87.4L285.4,90.0L285.8,87.5L286.1,88.4L286.4,89.1L286.8,89.7L287.1,88.3L287.5,91.0L287.8,88.9L288.1,89.1L288.5,87.8L288.8,90.2L289.2,86.5L289.5,89.0L289.8,90.1L290.2,86.9L290.5,86.6L290.9,88.9L291.2,89.8L291.5,88.7L291.9,89.6L292.2,89.1L292.6,86.8L292.9,88.2L293.2,88.5L293.6,88.3L293.9,88.8L294.3,87.7L294.6,87.7L294.9,89.2L295.3,88.7L295.6,85.8L296.0,88.3L296.3,89.0L296.6,86.3L297.0,88.8L297.3,90.2L297.7,88.0L298.0,90.0L298.3,89.5L298.7,88.5L299.0,89.0L299.4,89.8L299.7,89.6L300.0,89.6L300.4,87.5L300.7,89.8L301.1,89.7L301.4,86.4L301.7,89.7L302.1,87.2L302.4,87.4L302.8,89.3L303.1,90.9L303.4,88.5L303.8,88.3L304.1,87.9L304.5,89.1L304.8,87.7L305.1,87.5L305.5,90.5L305.8,87.5L306.2,89.1L306.5,90.0L306.8,89.7L307.2,87.0L307.5,88.1L307.9,91.6L308.2,89.3L308.5,89.6L308.9,89.7L309.2,90.1L309.6,91.3L309.9,88.4L310.2,90.7L310.6,90.0L310.9,90.3L311.3,90.5L311.6,88.7L311.9,89.1L312.3,90.5L312.6,90.8L313.0,90.3L313.3,88.5L313.6,89.6L314.0,89.4L314.3,90.2L314.7,90.1L315.0,89.5L315.3,92.1L315.7,87.8L316.0,90.8L316.4,90.6L316.7,88.2L317.0,89.6L317.4,89.9L317.7,90.7L318.1,91.9L318.4,89.8L318.7,88.5L319.1,91.2L319.4,88.4L319.8,91.5L320.1,91.0L320.4,89.5L320.8,90.1L321.1,89.3L321.5,91.1L321.8,91.5L322.1,92.6L322.5,91.8L322.8,91.6L323.2,92.1L323.5,89.9L323.8,91.2L324.2,92.8L324.5,87.3L324.9,91.4L325.2,92.0L325.5,88.9L325.9,89.0L326.2,91.9L326.6,92.3L326.9,91.8L327.2,89.1L327.6,90.9L327.9,91.6L328.3,90.6L328.6,89.1L328.9,92.4L329.3,91.1L329.6,92.4L330.0,88.0L330.3,88.4L330.6,89.5L331.0,90.9L331.3,90.0L331.7,93.4L332.0,90.5L332.3,92.5L332.7,92.5L333.0,91.8L333.4,91.3L333.7,90.2L334.0,90.1L334.4,90.6L334.7,92.2L335.1,90.2L335.4,91.2L335.7,89.6L336.1,92.2L336.4,94.5L336.8,91.7L337.1,88.4L337.4,90.6L337.8,91.4L338.1,90.1L338.5,90.6L338.8,90.7L339.1,91.9L339.5,91.2L339.8,91.0L340.2,92.1L340.5,92.7L340.8,91.2L341.2,90.2L341.5,90.6L341.9,90.8L342.2,90.8L342.5,88.2L342.9,91.1L343.2,90.2L343.6,89.1L343.9,91.5L344.2,91.2L344.6,90.3L344.9,89.5L345.3,91.2L345.6,91.2L345.9,91.5L346.3,93.2L346.6,90.3L347.0,92.0L347.3,93.9L347.6,91.9L348.0,93.9L348.3,93.1L348.7,91.8L349.0,93.0L349.3,90.5L349.7,93.7L350.0,91.6L350.4,91.2L350.7,90.1L351.0,90.9L351.4,91.8L351.7,92.0L352.1,92.2L352.4,90.7L352.7,93.0L353.1,91.6L353.4,92.4L353.8,92.0L354.1,92.7L354.4,89.7L354.8,93.3L355.1,92.2L355.5,92.2L355.8,91.8L356.1,92.0L356.5,92.1L356.8,91.5L357.2,94.6L357.5,92.7L357.8,94.3L358.2,92.5L358.5,94.4L358.9,94.1L359.2,93.0L359.5,91.3L359.9,92.3L360.2,92.7L360.6,91.4L360.9,94.3L361.2,95.8L361.6,93.8L361.9,93.6L362.3,91.8L362.6,90.7L362.9,95.1L363.3,90.3L363.6,91.5L364.0,92.5L364.3,93.1L364.6,90.6L365.0,93.5L365.3,94.3L365.7,93.5L366.0,95.5L366.3,93.2L366.7,94.0L367.0,93.5L367.4,93.5L367.7,95.3L368.0,92.3L368.4,95.3L368.7,93.0L369.1,96.1L369.4,93.7L369.7,95.2L370.1,94.2L370.4,95.1L370.8,97.0L371.1,95.7L371.4,94.3L371.8,93.6L372.1,96.3L372.5,97.2L372.8,95.6L373.1,94.8L373.5,95.4L373.8,95.7L374.2,93.6L374.5,93.5L374.8,93.9L375.2,96.0L375.5,94.8L375.9,95.1L376.2,96.7L376.5,93.9L376.9,94.9L377.2,95.7L377.6,93.3L377.9,94.2L378.2,94.1L378.6,93.7L378.9,94.4L379.3,96.9L379.6,95.8L379.9,94.1L380.3,96.4L380.6,95.4L381.0,95.0L381.3,93.7L381.6,93.9L382.0,94.5L382.3,95.9L382.7,94.5L383.0,95.1L383.3,96.0L383.7,94.1L384.0,95.2L384.4,96.8L384.7,94.3L385.0,96.3L385.4,95.3L385.7,98.0L386.1,96.1L386.4,91.4L386.7,66.0L387.0,42.0L387.4,78.2L387.8,95.8L388.1,96.0L388.4,95.0L388.8,96.6L389.1,95.8L389.5,98.2L389.8,96.3L390.1,97.1L390.5,96.0L390.8,96.4L391.2,98.4L391.5,99.0L391.8,98.0L392.2,95.9L392.5,96.3L392.9,96.4L393.2,99.5L393.5,100.3L393.9,97.8L394.2,97.5L394.6,97.8L394.9,96.7L395.2,97.4L395.6,98.7L395.9,98.4L396.3,97.1L396.6,97.2L396.9,97.5L397.3,94.6L397.6,97.8L398.0,97.3L398.3,98.8L398.6,98.0L399.0,97.0L399.3,96.9L399.7,97.9L400.0,97.2L400.3,97.7L400.7,100.2L401.0,101.9L401.4,95.0L401.7,96.9L402.0,98.0L402.4,100.2L402.7,99.6L403.1,96.4L403.4,101.6L403.7,98.6L404.1,97.1L404.4,98.1L404.8,97.3L405.1,98.5L405.4,95.4L405.8,99.7L406.1,100.2L406.5,98.1L406.8,96.7L407.1,98.6L407.5,97.3L407.8,99.3L408.2,100.2L408.5,97.0L408.8,96.8L409.2,96.9L409.5,99.4L409.9,100.3L410.2,100.4L410.5,99.2L410.9,98.1L411.2,98.2L411.6,100.6L411.9,98.6L412.2,98.8L412.6,98.7L412.9,98.8L413.3,99.0L413.6,98.0L413.9,98.6L414.3,98.5L414.6,99.6L415.0,98.2L415.3,98.9L415.6,101.4L416.0,98.1L416.3,99.0L416.7,97.5L417.0,98.9L417.3,98.8L417.7,98.4L418.0,98.6L418.4,99.2L418.7,100.9L419.0,96.3L419.4,100.6L419.7,99.0L420.1,97.7L420.4,98.1L420.7,97.8L421.1,97.6L421.4,96.9L421.8,98.1L422.1,94.9L422.4,99.8L422.8,98.2L423.1,98.9L423.5,99.1L423.8,98.1L424.1,96.6L424.5,99.3L424.8,99.3L425.2,97.5L425.5,97.7L425.8,95.9L426.2,97.1L426.5,98.1L426.9,98.7L427.2,98.1L427.5,98.5L427.9,100.0L428.2,98.3L428.6,98.5L428.9,98.6L429.2,98.8L429.6,96.1L429.9,97.4L430.3,97.1L430.6,99.0L430.9,99.5L431.3,98.5L431.6,97.9L432.0,98.6L432.3,98.4L432.6,96.9L433.0,97.8L433.3,99.4L433.7,98.6L434.0,98.9L434.3,97.9L434.7,99.5L435.0,98.3L435.4,97.2L435.7,98.0L436.0,99.2L436.4,98.8L436.7,97.9L437.1,97.4L437.4,96.9L437.7,98.2L438.1,99.6L438.4,96.2L438.8,97.6L439.1,97.4L439.4,97.5L439.8,99.2L440.1,98.3L440.5,97.5L440.8,96.6L441.1,97.7L441.5,101.7L441.8,98.1L442.2,97.3L442.5,96.1L442.8,96.8L443.2,94.6L443.5,95.9L443.9,96.0L444.2,96.4L444.5,99.3L444.9,96.5L445.2,96.8L445.6,98.2L445.9,96.8L446.2,97.0L446.6,98.0L446.9,97.6L447.3,97.7L447.6,97.1L447.9,97.9L448.3,96.7L448.6,99.7L449.0,97.7L449.3,99.4L449.6,97.9L450.0,96.6L450.3,97.2L450.7,97.3L451.0,97.1L451.3,95.2L451.7,98.5L452.0,96.0L452.4,99.0L452.7,97.6L453.0,96.8L453.4,98.1L453.7,96.7L454.1,96.1L454.4,98.4L454.7,97.0L455.1,97.4L455.4,99.3L455.8,97.1L456.1,97.8L456.4,95.1L456.8,97.9L457.1,94.6L457.5,97.4L457.8,94.3L458.1,96.0L458.5,96.1L458.8,95.6L459.2,95.5L459.5,94.8L459.8,94.4L460.2,97.0L460.5,98.1L460.9,99.8L461.2,97.0L461.5,95.5L461.9,96.0L462.2,96.3L462.6,96.8L462.9,97.2L463.2,96.7L463.6,95.8L463.9,98.5L464.3,95.4L464.6,98.1L464.9,96.4L465.3,97.0L465.6,96.7L466.0,97.5L466.3,97.6L466.6,96.4L467.0,97.5L467.3,93.0L467.7,96.6L468.0,96.9L468.3,96.7L468.7,97.3L469.0,99.0L469.4,96.3L469.7,95.5L470.0,97.8L470.4,95.9L470.7,97.4L471.1,95.9L471.4,95.4L471.7,95.2L472.1,95.2L472.4,96.6L472.8,94.6L473.1,96.3L473.4,95.2L473.8,94.8L474.1,96.0L474.5,97.2L474.8,94.8L475.1,97.0L475.5,96.7L475.8,96.9L476.2,94.4L476.5,95.7L476.8,98.3L477.2,94.5L477.5,92.8L477.9,93.1L478.2,96.1L478.5,95.2L478.9,94.7L479.2,94.2L479.6,95.2L479.9,96.6L480.2,94.3L480.6,94.4L480.9,96.8L481.3,95.6L481.6,94.8L481.9,95.1L482.3,94.4L482.6,94.1L483.0,94.4L483.3,95.2L483.6,96.7L484.0,94.2L484.3,93.2L484.7,92.5L485.0,95.0L485.3,94.9L485.7,93.1L486.0,93.0L486.4,94.4L486.7,93.9L487.0,95.7L487.4,94.0L487.7,95.8L488.1,94.9L488.4,94.8L488.7,95.3L489.1,97.3L489.4,95.7L489.8,94.2L490.1,94.7L490.4,95.0L490.8,94.0L491.1,93.6L491.5,93.4L491.8,95.5L492.1,94.4L492.5,94.8L492.8,95.5L493.2,96.2L493.5,94.5L493.8,95.4L494.2,91.6L494.5,94.4L494.9,94.5L495.2,94.7L495.5,91.9L495.9,95.4L496.2,94.4L496.6,95.1L496.9,94.3L497.2,94.1L497.6,92.7L497.9,95.8L498.3,94.1L498.6,92.0L498.9,94.6L499.3,94.2L499.6,95.1L500.0,97.2L500.3,94.0L500.6,92.4L501.0,94.5L501.3,96.2L501.7,93.5L502.0,93.7L502.3,92.6L502.7,92.7L503.0,94.1L503.4,93.3L503.7,96.0L504.0,92.4L504.4,93.5L504.7,92.4L505.1,92.4L505.4,94.0L505.7,93.9L506.1,94.8L506.4,96.2L506.8,93.8L507.1,93.4L507.4,95.0L507.8,92.7L508.1,93.5L508.5,93.0L508.8,94.5L509.1,95.7L509.5,92.5L509.8,92.7L510.2,93.6L510.5,94.0L510.8,93.8L511.2,93.6L511.5,94.1L511.9,95.9L512.2,92.4L512.5,95.3L512.9,93.8L513.2,93.7L513.6,93.0L513.9,95.3L514.2,91.8L514.6,92.5L514.9,92.3L515.3,91.7L515.6,94.2L515.9,97.2L516.3,92.8L516.6,91.6L517.0,91.7L517.3,93.8L517.6,93.3L518.0,92.8L518.3,95.4L518.7,93.9L519.0,93.9L519.3,91.1L519.7,93.9L520.0,91.1L520.4,93.0L520.7,95.1L521.0,90.2L521.4,94.2L521.7,92.2L522.1,90.8L522.4,93.6L522.7,94.5L523.1,91.6L523.4,92.8L523.8,94.4L524.1,94.2L524.4,93.3L524.8,91.6L525.1,93.2L525.5,92.0L525.8,90.7L526.1,91.2L526.5,91.0L526.8,91.2L527.2,94.7L527.5,91.2L527.8,92.3L528.2,92.8L528.5,94.0L528.9,94.6L529.2,94.0L529.5,92.7L529.9,94.1L530.2,93.6L530.6,93.4L530.9,91.7L531.2,92.9L531.6,92.7L531.9,90.9L532.3,92.9L532.6,91.8L532.9,93.8L533.3,92.1L533.6,92.3L534.0,92.2L534.3,93.0L534.6,93.7L535.0,92.8L535.3,93.0L535.7,91.1L536.0,91.2L536.3,93.9L536.7,91.6L537.0,93.0L537.4,91.8L537.7,92.9L538.0,94.2L538.4,91.1L538.7,91.8L539.1,93.9L539.4,94.7L539.7,93.0L540.1,93.8L540.4,92.7L540.8,91.5L541.1,90.4L541.4,92.7L541.8,90.5L542.1,90.8L542.5,92.8L542.8,94.3L543.1,91.2L543.5,91.5L543.8,89.3L544.2,90.4L544.5,91.2L544.8,90.1L545.2,93.5L545.5,91.9L545.9,92.5L546.2,90.0L546.5,91.5L546.9,96.0L547.2,90.4L547.6,93.3L547.9,91.2L548.2,92.7L548.6,91.8L548.9,91.3L549.3,91.9L549.6,93.3L549.9,90.3L550.3,91.6L550.6,91.9L551.0,78.2L551.3,51.1L551.5,32.0L551.6,45.6L552.0,73.5L552.3,91.1L552.7,93.2L553.0,93.5L553.3,91.7L553.7,91.6L554.0,90.3L554.4,91.4L554.7,93.3L555.0,91.3L555.4,90.9L555.7,90.7L556.1,91.5L556.4,93.5L556.7,90.5L557.1,92.8L557.4,91.2L557.8,93.9L558.1,91.0L558.4,92.9L558.8,90.5L559.1,89.7L559.5,90.4L559.8,93.3L560.1,93.1L560.5,93.0L560.8,91.0L561.2,91.4L561.5,91.7L561.8,91.5L562.2,91.2L562.5,91.1L562.9,89.8L563.2,91.9L563.5,91.6L563.9,94.2L564.2,93.5L564.6,92.7L564.9,93.4L565.2,91.6L565.6,90.6L565.9,92.4L566.3,92.5L566.6,92.5L566.9,91.7L567.3,92.6L567.6,91.4L568.0,91.5L568.3,91.5L568.6,90.9L569.0,91.9L569.3,91.7L569.7,89.7L570.0,92.0L570.3,90.9L570.7,91.8L571.0,92.5L571.4,92.5L571.7,92.9L572.0,91.9L572.4,92.7L572.7,92.4L573.1,90.4L573.4,92.1L573.7,90.5L574.1,91.6L574.4,90.8L574.8,92.7L575.1,91.7L575.4,88.6L575.8,90.9L576.1,90.6L576.5,91.6L576.8,90.8L577.1,93.4L577.5,93.0L577.8,91.4L578.2,90.9L578.5,92.4L578.8,92.1L579.2,92.4L579.5,92.1L579.9,93.4L580.2,93.7L580.5,92.0L580.9,94.1L581.2,93.1L581.6,92.7L581.9,93.2L582.2,91.6L582.6,92.5L582.9,92.0L583.3,93.2L583.6,92.9L583.9,91.3L584.3,91.5L584.6,92.5L585.0,91.5L585.3,91.7L585.6,91.7L586.0,89.9L586.3,92.4L586.7,91.4L587.0,91.4L587.3,92.2L587.7,93.4L588.0,91.1L588.4,91.6L588.7,91.9L589.0,91.9L589.4,91.9L589.7,93.1L590.1,91.6L590.4,94.2L590.7,92.0L591.1,93.8L591.4,92.4L591.8,91.1L592.1,92.3L592.4,92.6L592.8,91.3L593.1,92.3L593.5,92.5L593.8,92.5L594.1,90.1L594.5,91.1L594.8,91.4L595.2,93.5L595.5,91.2L595.8,93.6L596.2,91.4L596.5,93.4L596.9,89.5L597.2,94.1L597.5,90.4L597.9,91.0L598.2,94.2L598.6,92.3L598.9,90.2L599.2,90.6L599.6,94.0L599.9,92.6L600.3,93.5L600.6,93.3L600.9,92.8L601.3,89.7L601.6,91.9L602.0,92.3L602.3,92.5L602.6,91.2L603.0,91.2L603.3,93.2L603.7,90.2L604.0,93.4L604.3,92.4L604.7,91.5L605.0,90.0L605.4,92.5L605.7,91.8L606.0,90.5L606.4,91.4L606.7,90.7L607.1,90.9L607.4,91.8L607.7,91.4L608.1,91.0L608.4,92.2L608.8,90.2L609.1,94.7L609.4,93.4L609.8,90.4L610.1,91.7L610.5,93.0L610.8,91.8L611.1,90.9L611.5,93.0L611.8,91.3L612.2,92.4L612.5,92.4L612.8,92.4L613.2,90.9L613.5,93.7L613.9,92.8L614.2,91.5L614.5,93.9L614.9,94.3L615.2,91.6L615.6,92.4L615.9,92.6L616.2,92.2L616.6,93.6L616.9,88.8L617.3,93.6L617.6,93.0L617.9,94.2L618.3,93.0L618.6,90.5L619.0,92.4L619.3,91.7L619.6,93.1L620.0,90.2L620.3,92.3L620.7,94.1L621.0,91.5L621.3,93.0L621.7,91.8L622.0,92.4L622.4,92.2L622.7,92.4L623.0,93.7L623.4,94.4L623.7,91.4L624.1,92.8L624.4,92.2L624.7,93.2L625.1,95.1L625.4,94.2L625.8,90.9L626.1,93.6L626.4,93.1L626.8,94.5L627.1,93.3L627.5,93.1L627.8,93.0L628.1,92.8L628.5,93.5L628.8,93.4L629.2,92.7L629.5,92.3L629.8,92.9L630.2,90.6L630.5,92.5L630.9,92.6L631.2,93.6L631.5,91.5L631.9,94.1L632.2,94.8L632.6,94.0L632.9,92.0L633.2,94.2L633.6,91.2L633.9,92.9L634.3,94.7L634.6,93.1L634.9,90.6L635.3,93.9L635.6,94.5L636.0,92.2L636.3,91.3L636.6,91.6L637.0,93.3L637.3,92.7L637.7,92.5L638.0,91.5L638.3,90.3L638.7,93.1L639.0,91.3L639.4,93.4L639.7,92.2L640.0,94.2L640.4,94.0L640.7,92.5L641.1,94.2L641.4,92.0L641.7,93.8L642.1,93.0L642.4,93.2L642.8,93.6L643.1,93.0L643.4,91.8L643.8,89.3L644.1,94.7L644.5,92.9L644.8,93.5L645.1,94.4L645.5,92.9L645.8,94.4L646.2,93.4L646.5,91.8L646.8,95.9L647.2,93.1L647.5,92.9L647.9,94.6L648.2,92.8L648.5,93.0L648.9,93.9L649.2,92.0L649.6,95.2L649.9,92.8L650.2,93.9L650.6,94.9L650.9,93.8L651.3,94.1L651.6,92.6L651.9,95.5L652.3,93.9L652.6,94.3L653.0,91.8L653.3,95.1L653.6,92.4L654.0,96.0L654.3,93.4L654.7,94.0L655.0,93.4L655.3,94.7L655.7,96.3L656.0,95.8L656.4,92.3L656.7,93.7L657.0,95.1L657.4,92.9L657.7,94.9L658.1,95.0L658.4,95.6L658.7,92.6L659.1,91.6L659.4,95.3L659.8,93.8L660.1,92.9L660.4,91.5L660.8,97.2L661.1,94.0L661.5,93.4L661.8,96.1L662.1,93.8L662.5,94.1L662.8,93.4L663.2,95.1L663.5,93.8L663.8,95.1L664.2,93.6L664.5,94.2L664.9,94.9L665.2,96.2L665.5,92.4L665.9,93.1L666.2,93.4L666.6,95.4L666.9,95.0L667.2,92.5L667.6,93.7L667.9,95.7L668.3,94.6L668.6,94.5L668.9,94.9L669.3,95.9L669.6,93.1L670.0,94.0L670.3,95.0L670.6,96.7L671.0,95.5L671.3,94.8L671.7,93.7L672.0,95.3L672.3,93.5L672.7,94.7L673.0,95.8L673.4,98.4L673.7,96.4L674.0,96.8L674.4,95.2L674.7,94.6L675.1,93.3" fill="none" stroke="#f860b8" stroke-width="0.90" stroke-linejoin="round"/>
<line x1="57.8" y1="106.40" x2="675.4" y2="106.40" stroke="#a08a98" stroke-width="1.1"/>
<path d="M58.3,204.9 L58.3,193.1L58.8,193.1L59.3,193.4L59.8,192.8L60.3,190.4L60.8,194.6L61.3,191.5L61.8,191.4L62.3,193.7L62.8,194.4L63.3,193.0L63.8,192.0L64.3,190.8L64.8,192.4L65.3,191.5L65.8,194.2L66.3,194.7L66.8,195.8L67.3,195.1L67.8,194.1L68.3,193.3L68.8,195.3L69.3,192.5L69.8,193.7L70.3,194.4L70.8,194.6L71.3,191.0L71.8,193.4L72.3,194.8L72.8,194.8L73.3,191.2L73.8,194.4L74.3,192.1L74.8,191.7L75.3,196.6L75.8,191.8L76.3,193.9L76.8,195.0L77.3,194.3L77.8,192.9L78.3,193.1L78.8,193.0L79.3,194.5L79.8,191.9L80.3,191.6L80.8,191.2L81.3,192.3L81.8,191.1L82.3,190.8L82.8,192.6L83.3,192.4L83.8,192.8L84.3,192.8L84.8,192.4L85.4,179.6L85.8,193.6L86.3,192.8L86.8,196.2L87.3,195.3L87.8,191.4L88.3,194.8L88.8,194.0L89.3,192.9L89.8,194.0L90.3,194.5L90.8,194.0L91.3,193.9L91.8,194.1L92.3,193.1L92.8,191.2L93.3,192.9L93.8,191.2L94.3,192.3L94.8,192.2L95.3,192.5L95.8,193.7L96.3,192.7L96.8,192.8L97.3,194.7L97.8,192.2L98.3,192.5L98.8,192.7L99.3,193.9L99.8,196.6L100.3,191.3L100.8,193.2L101.3,196.0L101.8,192.3L102.3,194.0L102.8,192.2L103.3,193.2L103.8,191.6L104.3,192.8L104.8,192.7L105.3,192.9L105.8,191.4L106.3,194.7L106.8,191.5L107.3,192.1L107.8,193.7L108.3,193.0L108.8,193.6L109.3,192.9L109.8,191.7L110.3,193.8L110.8,192.0L111.3,191.7L111.8,192.1L112.3,190.9L112.8,193.0L113.3,192.0L113.8,189.7L114.3,192.8L114.8,193.0L115.3,192.8L115.8,192.1L116.3,193.6L116.8,193.1L117.3,195.1L117.8,194.2L118.3,194.1L118.8,194.3L119.3,193.3L119.8,191.8L120.3,193.2L120.8,194.4L121.3,192.4L121.8,192.5L122.3,194.5L122.8,192.5L123.3,194.1L123.8,193.5L124.3,193.6L124.8,191.6L125.3,193.7L125.8,193.0L126.3,192.4L126.8,191.3L127.3,191.1L127.8,193.9L128.3,191.0L128.8,192.2L129.3,191.0L129.8,191.2L130.3,193.2L130.8,192.5L131.3,192.9L131.8,192.0L132.3,190.3L132.8,192.4L133.3,193.3L133.8,189.2L134.3,193.7L134.8,192.4L135.3,192.4L135.8,194.1L136.3,191.4L136.8,191.0L137.3,192.5L137.8,192.3L138.3,192.6L138.8,194.6L139.3,192.0L139.8,193.9L140.3,193.6L140.8,191.8L141.3,191.1L141.8,193.4L142.3,190.8L142.8,190.0L143.3,192.0L143.8,192.3L144.3,192.0L144.8,192.7L145.3,193.3L145.8,191.3L146.3,191.2L146.8,192.8L147.3,192.7L147.8,193.0L148.3,193.0L148.8,193.4L149.3,194.1L149.8,190.9L150.3,192.5L150.8,192.0L151.3,189.7L151.8,192.7L152.3,191.3L152.8,193.8L153.3,192.8L153.8,191.1L154.3,192.3L154.8,193.8L155.3,194.0L155.8,191.5L156.3,193.2L156.8,191.1L157.3,191.6L157.8,192.3L158.3,192.0L158.8,190.9L159.3,191.9L159.8,193.1L160.3,191.4L160.8,192.3L161.3,192.1L161.8,191.1L162.3,191.4L162.8,190.5L163.3,192.0L163.8,192.4L164.3,192.2L164.8,191.3L165.3,192.8L165.8,192.2L166.3,192.8L166.8,192.7L167.3,191.9L167.8,188.6L168.3,192.2L168.8,191.3L169.3,191.5L169.8,191.9L170.3,191.6L170.8,189.1L171.3,191.9L171.8,189.6L172.3,190.8L172.8,192.7L173.3,192.4L173.8,192.1L174.3,192.9L174.8,190.1L175.3,191.0L175.8,190.8L176.3,192.8L176.8,190.9L177.3,192.2L177.8,188.4L178.3,191.6L178.8,191.1L179.3,190.9L179.8,192.0L180.3,191.9L180.8,191.9L181.3,190.3L181.8,192.3L182.3,191.6L182.8,190.9L183.3,191.9L183.8,193.1L184.3,192.8L184.8,191.8L185.3,192.5L185.8,190.1L186.3,191.2L186.8,191.3L187.3,192.5L187.8,190.6L188.3,191.7L188.8,192.4L189.3,192.0L189.8,188.2L190.3,191.9L190.8,192.3L191.3,189.7L191.8,190.2L192.3,191.5L192.8,189.4L193.3,193.0L193.8,191.7L194.3,193.2L194.8,189.4L195.3,191.0L195.8,187.8L196.3,190.5L196.8,190.4L197.3,192.5L197.8,192.5L198.3,191.6L198.8,189.9L199.3,192.3L199.8,194.0L200.3,189.9L200.8,189.8L201.3,192.1L201.8,190.4L202.3,189.6L202.8,189.5L203.3,192.9L203.8,190.9L204.3,191.9L204.8,189.7L205.3,190.8L205.8,192.5L206.3,190.8L206.8,190.2L207.3,192.9L207.8,192.6L208.3,191.7L208.8,191.3L209.3,191.6L209.8,193.2L210.3,192.8L210.8,190.9L211.3,190.3L211.8,192.0L212.3,190.6L212.8,188.4L213.3,191.0L213.8,191.3L214.3,191.6L214.8,190.1L215.3,190.4L215.8,190.4L216.3,191.2L216.8,190.2L217.3,190.2L217.8,190.9L218.3,189.2L218.8,192.7L219.3,189.8L219.8,190.9L220.3,189.6L220.8,188.3L221.3,190.6L221.8,167.5L222.4,114.8L222.8,150.0L223.3,187.7L223.8,190.5L224.3,189.9L224.8,188.4L225.3,190.0L225.8,192.6L226.3,191.7L226.8,191.3L227.3,190.2L227.8,191.4L228.3,188.9L228.8,191.3L229.3,188.7L229.8,191.5L230.3,189.0L230.8,190.4L231.3,188.9L231.8,188.2L232.3,188.4L232.8,189.3L233.3,191.6L233.8,191.7L234.3,194.7L234.8,188.8L235.3,189.0L235.8,189.4L236.3,192.1L236.8,187.1L237.3,191.5L237.8,189.6L238.3,192.7L238.8,191.5L239.3,189.1L239.8,189.3L240.3,192.1L240.8,190.8L241.3,189.2L241.8,193.0L242.3,189.7L242.8,192.7L243.3,189.9L243.8,191.0L244.3,189.4L244.8,191.4L245.3,191.2L245.8,191.2L246.3,192.0L246.8,191.1L247.3,192.1L247.8,191.5L248.3,189.9L248.8,191.2L249.3,189.4L249.8,189.9L250.3,189.7L250.8,192.3L251.3,190.3L251.8,189.0L252.3,189.6L252.8,189.2L253.3,188.9L253.8,192.8L254.3,190.1L254.8,190.1L255.3,191.1L255.8,192.5L256.3,190.6L256.8,191.0L257.3,188.3L257.8,189.2L258.3,191.4L258.8,192.2L259.3,192.0L259.8,190.9L260.3,191.8L260.8,188.3L261.3,192.4L261.8,191.0L262.3,190.7L262.8,190.3L263.3,192.1L263.8,191.2L264.3,190.6L264.8,190.4L265.3,191.6L265.8,191.3L266.3,190.6L266.8,188.4L267.3,192.4L267.8,190.0L268.3,188.8L268.8,192.7L269.3,189.0L269.8,189.1L270.3,190.8L270.8,189.6L271.3,189.0L271.8,191.1L272.3,190.6L272.8,192.2L273.3,191.7L273.8,190.8L274.3,191.0L274.8,188.8L275.3,191.1L275.8,192.4L276.3,189.7L276.8,189.7L277.3,190.3L277.8,191.0L278.3,191.9L278.8,191.7L279.3,188.9L279.8,189.9L280.3,190.7L280.8,190.3L281.3,191.3L281.8,192.1L282.3,191.5L282.8,191.0L283.3,193.0L283.8,192.8L284.3,193.1L284.8,191.5L285.3,190.1L285.8,192.7L286.3,192.4L286.8,193.0L287.3,191.6L287.8,192.5L288.3,192.3L288.8,192.4L289.3,188.1L289.8,191.1L290.3,191.9L290.8,191.6L291.3,189.9L291.8,189.8L292.3,190.7L292.8,193.6L293.3,189.8L293.8,189.7L294.3,190.1L294.8,190.5L295.3,191.0L295.8,189.5L296.3,191.5L296.8,189.7L297.3,191.7L297.8,191.6L298.3,191.6L298.8,191.8L299.3,191.7L299.8,190.1L300.3,189.1L300.8,192.0L301.3,192.5L301.8,189.5L302.3,191.6L302.8,190.8L303.3,191.0L303.8,190.0L304.3,192.4L304.8,189.8L305.3,190.2L305.8,194.1L306.3,191.5L306.8,191.8L307.3,190.8L307.8,191.4L308.3,192.3L308.8,191.8L309.3,190.9L309.8,191.3L310.3,191.6L310.8,188.6L311.3,190.8L311.8,192.9L312.3,191.3L312.8,191.1L313.3,192.8L313.8,191.4L314.3,192.6L314.8,194.4L315.3,191.1L315.8,190.8L316.3,190.8L316.8,191.8L317.3,192.4L317.8,191.3L318.3,191.1L318.8,190.5L319.3,189.9L319.8,190.6L320.3,192.4L320.8,191.8L321.3,193.5L321.8,190.8L322.3,191.0L322.8,190.2L323.3,191.2L323.8,189.8L324.3,192.7L324.8,191.4L325.3,192.2L325.8,192.1L326.3,194.1L326.8,192.8L327.3,194.5L327.8,192.4L328.3,192.8L328.8,191.8L329.3,194.3L329.8,192.7L330.3,192.4L330.8,195.0L331.3,190.0L331.8,191.5L332.3,193.1L332.8,189.7L333.3,190.4L333.8,195.3L334.3,192.6L334.8,193.0L335.3,192.2L335.8,193.4L336.3,192.6L336.8,192.2L337.3,195.5L337.8,192.1L338.3,190.5L338.8,192.2L339.3,190.9L339.8,190.3L340.3,192.0L340.8,191.9L341.3,191.9L341.8,192.9L342.3,189.5L342.8,191.8L343.3,191.7L343.8,191.2L344.3,190.5L344.8,194.2L345.3,193.8L345.8,192.3L346.3,191.8L346.8,194.1L347.3,194.3L347.8,191.5L348.3,191.6L348.8,192.9L349.3,193.0L349.8,193.4L350.3,194.2L350.8,193.9L351.3,192.6L351.8,193.2L352.3,191.8L352.8,194.8L353.3,195.4L353.8,192.5L354.3,194.5L354.8,193.8L355.3,193.4L355.8,195.2L356.3,195.6L356.8,193.4L357.3,197.3L357.8,193.1L358.3,196.3L358.8,193.0L359.4,183.6L359.8,193.8L360.3,193.6L360.8,194.2L361.3,196.2L361.8,193.4L362.3,194.4L362.8,194.0L363.3,194.9L363.8,195.1L364.3,193.7L364.8,193.7L365.3,194.7L365.8,196.6L366.3,196.4L366.8,196.5L367.3,193.8L367.8,194.7L368.3,195.3L368.8,195.7L369.3,196.5L369.8,194.6L370.3,197.0L370.8,196.8L371.3,194.6L371.8,194.9L372.3,195.8L372.8,197.3L373.3,197.3L373.8,194.6L374.3,195.2L374.8,193.8L375.3,196.4L375.8,195.9L376.3,197.0L376.8,193.7L377.3,198.0L377.8,195.0L378.3,193.7L378.8,197.1L379.3,197.7L379.8,197.2L380.3,197.7L380.8,195.5L381.3,196.0L381.8,197.1L382.3,196.3L382.8,194.0L383.3,196.3L383.8,196.5L384.3,193.5L384.8,197.2L385.3,196.6L385.8,194.2L386.3,194.0L386.8,159.3L387.0,140.2L387.3,167.4L387.8,196.5L388.3,195.7L388.8,198.3L389.3,194.2L389.8,194.6L390.3,195.2L390.8,197.2L391.3,196.2L391.8,195.6L392.3,195.1L392.8,194.6L393.3,199.1L393.8,197.3L394.3,197.9L394.8,196.8L395.3,196.1L395.8,193.4L396.3,196.5L396.8,195.3L397.3,196.3L397.8,196.5L398.3,194.2L398.8,197.9L399.3,195.6L399.8,193.8L400.3,192.1L400.8,197.2L401.3,197.8L401.8,198.2L402.3,197.1L402.8,196.6L403.3,196.6L403.8,195.2L404.3,197.1L404.8,196.3L405.3,198.9L405.8,197.6L406.3,196.9L406.8,199.8L407.3,196.6L407.8,195.6L408.3,196.7L408.8,196.5L409.3,196.8L409.8,198.4L410.3,196.8L410.8,197.6L411.3,196.8L411.8,196.8L412.3,196.8L412.8,198.6L413.3,197.0L413.8,194.7L414.3,195.7L414.8,181.8L415.3,197.9L415.8,195.7L416.3,197.0L416.8,199.4L417.3,197.7L417.8,194.9L418.3,199.3L418.8,197.0L419.3,198.1L419.8,197.3L420.3,197.7L420.8,198.3L421.3,200.5L421.8,197.4L422.3,197.1L422.8,197.3L423.3,198.5L423.8,197.9L424.3,194.2L424.8,198.6L425.3,197.5L425.8,198.7L426.3,197.4L426.8,196.8L427.3,195.5L427.8,196.8L428.3,197.0L428.8,196.6L429.3,196.3L429.8,197.1L430.3,197.0L430.8,195.4L431.3,197.9L431.8,197.1L432.3,198.2L432.8,197.6L433.3,195.0L433.8,197.9L434.3,196.3L434.8,194.2L435.3,196.2L435.8,197.1L436.3,197.9L436.8,200.2L437.3,198.1L437.8,198.1L438.3,195.6L438.8,196.0L439.3,198.5L439.8,196.0L440.3,197.7L440.8,194.4L441.3,194.9L441.8,195.9L442.3,197.3L442.8,194.4L443.3,195.6L443.8,195.2L444.3,196.0L444.8,197.0L445.3,195.6L445.8,197.7L446.3,195.6L446.8,196.4L447.3,198.8L447.8,195.9L448.3,196.6L448.8,197.1L449.3,196.7L449.8,195.5L450.3,198.0L450.8,197.9L451.3,195.6L451.8,196.3L452.3,198.8L452.8,196.4L453.3,198.7L453.8,195.6L454.3,196.1L454.8,195.9L455.3,198.5L455.8,197.5L456.3,195.4L456.8,198.3L457.3,195.8L457.8,196.8L458.3,196.3L458.8,197.6L459.3,195.7L459.8,195.9L460.3,195.3L460.8,193.2L461.3,196.7L461.8,196.3L462.3,197.8L462.8,194.1L463.3,196.8L463.8,195.3L464.3,197.8L464.8,196.6L465.3,195.5L465.8,195.7L466.3,196.6L466.8,195.1L467.3,196.1L467.8,194.8L468.3,196.5L468.8,195.3L469.3,196.8L469.8,194.5L470.3,196.1L470.8,196.0L471.3,196.9L471.8,194.8L472.3,195.9L472.8,196.4L473.3,194.3L473.8,197.1L474.3,194.8L474.8,194.1L475.3,198.3L475.8,194.9L476.3,195.3L476.8,195.8L477.3,195.6L477.8,197.6L478.3,195.4L478.8,195.7L479.3,197.9L479.8,196.2L480.3,197.5L480.8,195.8L481.3,197.1L481.8,195.8L482.3,197.8L482.8,196.6L483.3,196.5L483.8,196.2L484.3,194.4L484.8,193.1L485.3,197.9L485.8,194.8L486.3,196.2L486.8,196.3L487.3,196.3L487.8,196.1L488.3,196.0L488.8,194.8L489.3,194.2L489.8,195.3L490.3,195.7L490.8,195.0L491.3,195.2L491.8,193.4L492.3,197.0L492.8,197.5L493.3,196.1L493.8,195.3L494.3,196.0L494.8,195.4L495.3,199.1L495.8,196.7L496.3,196.6L496.8,197.5L497.3,196.5L497.8,196.0L498.3,195.2L498.8,196.9L499.3,197.9L499.8,195.2L500.3,193.3L500.8,195.5L501.3,195.6L501.8,197.0L502.3,195.4L502.8,193.7L503.3,198.2L503.8,194.4L504.3,198.2L504.8,193.7L505.3,194.6L505.8,196.0L506.3,195.2L506.8,193.5L507.3,196.9L507.8,194.0L508.3,194.8L508.8,195.5L509.3,193.6L509.8,197.6L510.3,195.6L510.8,197.0L511.3,195.5L511.8,194.8L512.3,197.5L512.8,195.1L513.3,195.0L513.8,196.2L514.3,195.5L514.8,194.0L515.3,195.0L515.8,193.3L516.3,196.7L516.8,196.9L517.3,193.8L517.8,197.0L518.3,193.8L518.8,195.3L519.3,194.4L519.8,195.7L520.3,193.9L520.8,193.5L521.3,193.7L521.8,194.6L522.3,196.9L522.8,194.0L523.3,195.0L523.8,193.5L524.3,197.1L524.8,194.6L525.3,195.7L525.8,195.2L526.3,194.0L526.8,194.0L527.3,193.3L527.8,194.5L528.3,194.3L528.8,194.6L529.3,196.5L529.8,193.6L530.3,196.0L530.8,195.6L531.3,194.4L531.8,195.8L532.3,195.6L532.8,198.1L533.3,196.1L533.8,196.4L534.3,195.8L534.8,194.3L535.3,195.3L535.8,195.1L536.3,194.8L536.8,193.6L537.3,193.5L537.8,194.3L538.3,195.2L538.8,193.7L539.3,195.2L539.8,195.1L540.3,194.4L540.8,195.4L541.3,196.2L541.8,196.3L542.3,195.1L542.8,194.5L543.3,193.9L543.8,195.7L544.3,194.4L544.8,194.7L545.3,195.2L545.8,191.5L546.3,195.6L546.8,195.7L547.3,194.4L547.8,192.6L548.3,195.0L548.8,192.9L549.3,195.8L549.8,195.0L550.3,194.8L550.8,189.3L551.3,149.3L551.5,130.2L551.8,157.4L552.3,194.0L552.8,193.8L553.3,194.4L553.8,194.1L554.3,192.9L554.8,193.8L555.3,194.1L555.8,192.6L556.3,195.0L556.8,196.4L557.3,195.1L557.8,195.9L558.3,194.7L558.8,194.7L559.3,194.5L559.8,194.0L560.3,193.6L560.8,193.9L561.3,194.2L561.8,194.8L562.3,195.0L562.8,194.4L563.3,194.7L563.8,195.8L564.3,194.9L564.8,193.6L565.3,194.4L565.8,195.5L566.3,194.2L566.8,193.7L567.3,195.8L567.8,192.4L568.3,193.0L568.8,194.6L569.3,193.1L569.8,194.1L570.3,193.6L570.8,195.5L571.3,195.0L571.8,194.7L572.3,194.5L572.8,195.0L573.3,196.4L573.8,195.8L574.3,193.9L574.8,194.9L575.3,192.4L575.8,192.8L576.3,194.7L576.8,194.2L577.3,196.7L577.8,193.6L578.3,193.1L578.8,195.4L579.3,195.4L579.8,195.2L580.3,193.6L580.8,193.2L581.3,195.7L581.8,194.9L582.3,193.8L582.8,194.2L583.3,194.8L583.8,193.8L584.3,195.6L584.8,196.3L585.3,193.7L585.8,193.6L586.3,192.9L586.8,194.8L587.3,195.5L587.8,194.4L588.3,194.5L588.8,194.4L589.3,194.5L589.8,192.8L590.3,194.1L590.8,192.8L591.3,195.3L591.8,195.7L592.3,193.3L592.8,195.9L593.3,195.9L593.8,195.8L594.3,196.7L594.8,193.9L595.3,192.4L595.8,193.8L596.3,193.5L596.8,194.9L597.3,195.6L597.8,193.8L598.3,195.9L598.8,196.3L599.3,195.5L599.8,193.2L600.3,194.0L600.8,194.8L601.3,195.9L601.8,195.7L602.3,194.2L602.8,194.7L603.3,195.6L603.8,193.2L604.3,195.4L604.8,196.6L605.3,195.0L605.8,193.4L606.3,193.9L606.8,193.6L607.3,195.7L607.8,194.2L608.3,194.6L608.8,195.1L609.3,196.2L609.8,193.3L610.3,194.7L610.8,195.5L611.3,194.0L611.8,191.8L612.3,196.7L612.8,194.6L613.3,192.7L613.8,192.7L614.3,196.2L614.8,195.6L615.3,197.5L615.8,195.1L616.3,197.0L616.8,196.4L617.3,193.4L617.8,196.6L618.3,197.3L618.8,195.1L619.3,194.9L619.8,194.9L620.3,193.7L620.8,196.0L621.3,195.3L621.8,194.4L622.3,195.7L622.8,193.4L623.3,194.0L623.8,195.1L624.3,195.4L624.8,195.1L625.3,194.8L625.8,197.6L626.3,196.8L626.8,196.2L627.3,196.3L627.8,196.1L628.3,196.1L628.8,195.2L629.3,195.8L629.8,194.9L630.3,195.0L630.8,195.5L631.3,195.9L631.8,196.4L632.3,194.5L632.8,196.1L633.3,195.2L633.8,194.5L634.3,195.3L634.8,197.5L635.3,196.5L635.8,193.2L636.3,197.7L636.8,194.1L637.3,197.1L637.8,195.6L638.3,194.4L638.8,197.0L639.3,194.5L639.8,198.6L640.3,196.0L640.8,196.7L641.3,195.4L641.8,195.0L642.3,194.5L642.8,194.6L643.3,196.5L643.8,197.2L644.3,195.5L644.8,196.7L645.3,198.7L645.8,198.9L646.3,196.7L646.8,196.7L647.3,196.1L647.8,196.0L648.3,198.3L648.8,195.9L649.3,197.8L649.8,195.8L650.3,196.4L650.8,194.4L651.3,196.0L651.8,197.1L652.3,196.8L652.8,196.4L653.3,195.8L653.8,195.6L654.3,197.6L654.8,197.8L655.3,195.6L655.8,196.5L656.3,195.2L656.8,196.0L657.3,194.5L657.8,195.8L658.3,198.1L658.8,197.2L659.3,196.0L659.8,198.0L660.3,196.7L660.8,195.9L661.3,195.3L661.8,195.6L662.3,198.6L662.8,195.3L663.3,197.9L663.8,196.7L664.3,197.8L664.8,195.7L665.3,196.9L665.8,196.5L666.3,196.3L666.8,197.0L667.3,197.7L667.8,195.1L668.3,196.2L668.8,196.0L669.3,199.1L669.8,199.5L670.3,194.9L670.8,196.1L671.3,199.2L671.8,196.6L672.3,197.0L672.8,198.4L673.3,197.7L673.8,194.9L674.3,198.1L674.8,196.6L675.3,198.2 L675.3,204.9 Z" fill="#b0fbfb" stroke="none"/>
<path d="M58.3,193.1L58.8,193.1L59.3,193.4L59.8,192.8L60.3,190.4L60.8,194.6L61.3,191.5L61.8,191.4L62.3,193.7L62.8,194.4L63.3,193.0L63.8,192.0L64.3,190.8L64.8,192.4L65.3,191.5L65.8,194.2L66.3,194.7L66.8,195.8L67.3,195.1L67.8,194.1L68.3,193.3L68.8,195.3L69.3,192.5L69.8,193.7L70.3,194.4L70.8,194.6L71.3,191.0L71.8,193.4L72.3,194.8L72.8,194.8L73.3,191.2L73.8,194.4L74.3,192.1L74.8,191.7L75.3,196.6L75.8,191.8L76.3,193.9L76.8,195.0L77.3,194.3L77.8,192.9L78.3,193.1L78.8,193.0L79.3,194.5L79.8,191.9L80.3,191.6L80.8,191.2L81.3,192.3L81.8,191.1L82.3,190.8L82.8,192.6L83.3,192.4L83.8,192.8L84.3,192.8L84.8,192.4L85.4,179.6L85.8,193.6L86.3,192.8L86.8,196.2L87.3,195.3L87.8,191.4L88.3,194.8L88.8,194.0L89.3,192.9L89.8,194.0L90.3,194.5L90.8,194.0L91.3,193.9L91.8,194.1L92.3,193.1L92.8,191.2L93.3,192.9L93.8,191.2L94.3,192.3L94.8,192.2L95.3,192.5L95.8,193.7L96.3,192.7L96.8,192.8L97.3,194.7L97.8,192.2L98.3,192.5L98.8,192.7L99.3,193.9L99.8,196.6L100.3,191.3L100.8,193.2L101.3,196.0L101.8,192.3L102.3,194.0L102.8,192.2L103.3,193.2L103.8,191.6L104.3,192.8L104.8,192.7L105.3,192.9L105.8,191.4L106.3,194.7L106.8,191.5L107.3,192.1L107.8,193.7L108.3,193.0L108.8,193.6L109.3,192.9L109.8,191.7L110.3,193.8L110.8,192.0L111.3,191.7L111.8,192.1L112.3,190.9L112.8,193.0L113.3,192.0L113.8,189.7L114.3,192.8L114.8,193.0L115.3,192.8L115.8,192.1L116.3,193.6L116.8,193.1L117.3,195.1L117.8,194.2L118.3,194.1L118.8,194.3L119.3,193.3L119.8,191.8L120.3,193.2L120.8,194.4L121.3,192.4L121.8,192.5L122.3,194.5L122.8,192.5L123.3,194.1L123.8,193.5L124.3,193.6L124.8,191.6L125.3,193.7L125.8,193.0L126.3,192.4L126.8,191.3L127.3,191.1L127.8,193.9L128.3,191.0L128.8,192.2L129.3,191.0L129.8,191.2L130.3,193.2L130.8,192.5L131.3,192.9L131.8,192.0L132.3,190.3L132.8,192.4L133.3,193.3L133.8,189.2L134.3,193.7L134.8,192.4L135.3,192.4L135.8,194.1L136.3,191.4L136.8,191.0L137.3,192.5L137.8,192.3L138.3,192.6L138.8,194.6L139.3,192.0L139.8,193.9L140.3,193.6L140.8,191.8L141.3,191.1L141.8,193.4L142.3,190.8L142.8,190.0L143.3,192.0L143.8,192.3L144.3,192.0L144.8,192.7L145.3,193.3L145.8,191.3L146.3,191.2L146.8,192.8L147.3,192.7L147.8,193.0L148.3,193.0L148.8,193.4L149.3,194.1L149.8,190.9L150.3,192.5L150.8,192.0L151.3,189.7L151.8,192.7L152.3,191.3L152.8,193.8L153.3,192.8L153.8,191.1L154.3,192.3L154.8,193.8L155.3,194.0L155.8,191.5L156.3,193.2L156.8,191.1L157.3,191.6L157.8,192.3L158.3,192.0L158.8,190.9L159.3,191.9L159.8,193.1L160.3,191.4L160.8,192.3L161.3,192.1L161.8,191.1L162.3,191.4L162.8,190.5L163.3,192.0L163.8,192.4L164.3,192.2L164.8,191.3L165.3,192.8L165.8,192.2L166.3,192.8L166.8,192.7L167.3,191.9L167.8,188.6L168.3,192.2L168.8,191.3L169.3,191.5L169.8,191.9L170.3,191.6L170.8,189.1L171.3,191.9L171.8,189.6L172.3,190.8L172.8,192.7L173.3,192.4L173.8,192.1L174.3,192.9L174.8,190.1L175.3,191.0L175.8,190.8L176.3,192.8L176.8,190.9L177.3,192.2L177.8,188.4L178.3,191.6L178.8,191.1L179.3,190.9L179.8,192.0L180.3,191.9L180.8,191.9L181.3,190.3L181.8,192.3L182.3,191.6L182.8,190.9L183.3,191.9L183.8,193.1L184.3,192.8L184.8,191.8L185.3,192.5L185.8,190.1L186.3,191.2L186.8,191.3L187.3,192.5L187.8,190.6L188.3,191.7L188.8,192.4L189.3,192.0L189.8,188.2L190.3,191.9L190.8,192.3L191.3,189.7L191.8,190.2L192.3,191.5L192.8,189.4L193.3,193.0L193.8,191.7L194.3,193.2L194.8,189.4L195.3,191.0L195.8,187.8L196.3,190.5L196.8,190.4L197.3,192.5L197.8,192.5L198.3,191.6L198.8,189.9L199.3,192.3L199.8,194.0L200.3,189.9L200.8,189.8L201.3,192.1L201.8,190.4L202.3,189.6L202.8,189.5L203.3,192.9L203.8,190.9L204.3,191.9L204.8,189.7L205.3,190.8L205.8,192.5L206.3,190.8L206.8,190.2L207.3,192.9L207.8,192.6L208.3,191.7L208.8,191.3L209.3,191.6L209.8,193.2L210.3,192.8L210.8,190.9L211.3,190.3L211.8,192.0L212.3,190.6L212.8,188.4L213.3,191.0L213.8,191.3L214.3,191.6L214.8,190.1L215.3,190.4L215.8,190.4L216.3,191.2L216.8,190.2L217.3,190.2L217.8,190.9L218.3,189.2L218.8,192.7L219.3,189.8L219.8,190.9L220.3,189.6L220.8,188.3L221.3,190.6L221.8,167.5L222.4,114.8L222.8,150.0L223.3,187.7L223.8,190.5L224.3,189.9L224.8,188.4L225.3,190.0L225.8,192.6L226.3,191.7L226.8,191.3L227.3,190.2L227.8,191.4L228.3,188.9L228.8,191.3L229.3,188.7L229.8,191.5L230.3,189.0L230.8,190.4L231.3,188.9L231.8,188.2L232.3,188.4L232.8,189.3L233.3,191.6L233.8,191.7L234.3,194.7L234.8,188.8L235.3,189.0L235.8,189.4L236.3,192.1L236.8,187.1L237.3,191.5L237.8,189.6L238.3,192.7L238.8,191.5L239.3,189.1L239.8,189.3L240.3,192.1L240.8,190.8L241.3,189.2L241.8,193.0L242.3,189.7L242.8,192.7L243.3,189.9L243.8,191.0L244.3,189.4L244.8,191.4L245.3,191.2L245.8,191.2L246.3,192.0L246.8,191.1L247.3,192.1L247.8,191.5L248.3,189.9L248.8,191.2L249.3,189.4L249.8,189.9L250.3,189.7L250.8,192.3L251.3,190.3L251.8,189.0L252.3,189.6L252.8,189.2L253.3,188.9L253.8,192.8L254.3,190.1L254.8,190.1L255.3,191.1L255.8,192.5L256.3,190.6L256.8,191.0L257.3,188.3L257.8,189.2L258.3,191.4L258.8,192.2L259.3,192.0L259.8,190.9L260.3,191.8L260.8,188.3L261.3,192.4L261.8,191.0L262.3,190.7L262.8,190.3L263.3,192.1L263.8,191.2L264.3,190.6L264.8,190.4L265.3,191.6L265.8,191.3L266.3,190.6L266.8,188.4L267.3,192.4L267.8,190.0L268.3,188.8L268.8,192.7L269.3,189.0L269.8,189.1L270.3,190.8L270.8,189.6L271.3,189.0L271.8,191.1L272.3,190.6L272.8,192.2L273.3,191.7L273.8,190.8L274.3,191.0L274.8,188.8L275.3,191.1L275.8,192.4L276.3,189.7L276.8,189.7L277.3,190.3L277.8,191.0L278.3,191.9L278.8,191.7L279.3,188.9L279.8,189.9L280.3,190.7L280.8,190.3L281.3,191.3L281.8,192.1L282.3,191.5L282.8,191.0L283.3,193.0L283.8,192.8L284.3,193.1L284.8,191.5L285.3,190.1L285.8,192.7L286.3,192.4L286.8,193.0L287.3,191.6L287.8,192.5L288.3,192.3L288.8,192.4L289.3,188.1L289.8,191.1L290.3,191.9L290.8,191.6L291.3,189.9L291.8,189.8L292.3,190.7L292.8,193.6L293.3,189.8L293.8,189.7L294.3,190.1L294.8,190.5L295.3,191.0L295.8,189.5L296.3,191.5L296.8,189.7L297.3,191.7L297.8,191.6L298.3,191.6L298.8,191.8L299.3,191.7L299.8,190.1L300.3,189.1L300.8,192.0L301.3,192.5L301.8,189.5L302.3,191.6L302.8,190.8L303.3,191.0L303.8,190.0L304.3,192.4L304.8,189.8L305.3,190.2L305.8,194.1L306.3,191.5L306.8,191.8L307.3,190.8L307.8,191.4L308.3,192.3L308.8,191.8L309.3,190.9L309.8,191.3L310.3,191.6L310.8,188.6L311.3,190.8L311.8,192.9L312.3,191.3L312.8,191.1L313.3,192.8L313.8,191.4L314.3,192.6L314.8,194.4L315.3,191.1L315.8,190.8L316.3,190.8L316.8,191.8L317.3,192.4L317.8,191.3L318.3,191.1L318.8,190.5L319.3,189.9L319.8,190.6L320.3,192.4L320.8,191.8L321.3,193.5L321.8,190.8L322.3,191.0L322.8,190.2L323.3,191.2L323.8,189.8L324.3,192.7L324.8,191.4L325.3,192.2L325.8,192.1L326.3,194.1L326.8,192.8L327.3,194.5L327.8,192.4L328.3,192.8L328.8,191.8L329.3,194.3L329.8,192.7L330.3,192.4L330.8,195.0L331.3,190.0L331.8,191.5L332.3,193.1L332.8,189.7L333.3,190.4L333.8,195.3L334.3,192.6L334.8,193.0L335.3,192.2L335.8,193.4L336.3,192.6L336.8,192.2L337.3,195.5L337.8,192.1L338.3,190.5L338.8,192.2L339.3,190.9L339.8,190.3L340.3,192.0L340.8,191.9L341.3,191.9L341.8,192.9L342.3,189.5L342.8,191.8L343.3,191.7L343.8,191.2L344.3,190.5L344.8,194.2L345.3,193.8L345.8,192.3L346.3,191.8L346.8,194.1L347.3,194.3L347.8,191.5L348.3,191.6L348.8,192.9L349.3,193.0L349.8,193.4L350.3,194.2L350.8,193.9L351.3,192.6L351.8,193.2L352.3,191.8L352.8,194.8L353.3,195.4L353.8,192.5L354.3,194.5L354.8,193.8L355.3,193.4L355.8,195.2L356.3,195.6L356.8,193.4L357.3,197.3L357.8,193.1L358.3,196.3L358.8,193.0L359.4,183.6L359.8,193.8L360.3,193.6L360.8,194.2L361.3,196.2L361.8,193.4L362.3,194.4L362.8,194.0L363.3,194.9L363.8,195.1L364.3,193.7L364.8,193.7L365.3,194.7L365.8,196.6L366.3,196.4L366.8,196.5L367.3,193.8L367.8,194.7L368.3,195.3L368.8,195.7L369.3,196.5L369.8,194.6L370.3,197.0L370.8,196.8L371.3,194.6L371.8,194.9L372.3,195.8L372.8,197.3L373.3,197.3L373.8,194.6L374.3,195.2L374.8,193.8L375.3,196.4L375.8,195.9L376.3,197.0L376.8,193.7L377.3,198.0L377.8,195.0L378.3,193.7L378.8,197.1L379.3,197.7L379.8,197.2L380.3,197.7L380.8,195.5L381.3,196.0L381.8,197.1L382.3,196.3L382.8,194.0L383.3,196.3L383.8,196.5L384.3,193.5L384.8,197.2L385.3,196.6L385.8,194.2L386.3,194.0L386.8,159.3L387.0,140.2L387.3,167.4L387.8,196.5L388.3,195.7L388.8,198.3L389.3,194.2L389.8,194.6L390.3,195.2L390.8,197.2L391.3,196.2L391.8,195.6L392.3,195.1L392.8,194.6L393.3,199.1L393.8,197.3L394.3,197.9L394.8,196.8L395.3,196.1L395.8,193.4L396.3,196.5L396.8,195.3L397.3,196.3L397.8,196.5L398.3,194.2L398.8,197.9L399.3,195.6L399.8,193.8L400.3,192.1L400.8,197.2L401.3,197.8L401.8,198.2L402.3,197.1L402.8,196.6L403.3,196.6L403.8,195.2L404.3,197.1L404.8,196.3L405.3,198.9L405.8,197.6L406.3,196.9L406.8,199.8L407.3,196.6L407.8,195.6L408.3,196.7L408.8,196.5L409.3,196.8L409.8,198.4L410.3,196.8L410.8,197.6L411.3,196.8L411.8,196.8L412.3,196.8L412.8,198.6L413.3,197.0L413.8,194.7L414.3,195.7L414.8,181.8L415.3,197.9L415.8,195.7L416.3,197.0L416.8,199.4L417.3,197.7L417.8,194.9L418.3,199.3L418.8,197.0L419.3,198.1L419.8,197.3L420.3,197.7L420.8,198.3L421.3,200.5L421.8,197.4L422.3,197.1L422.8,197.3L423.3,198.5L423.8,197.9L424.3,194.2L424.8,198.6L425.3,197.5L425.8,198.7L426.3,197.4L426.8,196.8L427.3,195.5L427.8,196.8L428.3,197.0L428.8,196.6L429.3,196.3L429.8,197.1L430.3,197.0L430.8,195.4L431.3,197.9L431.8,197.1L432.3,198.2L432.8,197.6L433.3,195.0L433.8,197.9L434.3,196.3L434.8,194.2L435.3,196.2L435.8,197.1L436.3,197.9L436.8,200.2L437.3,198.1L437.8,198.1L438.3,195.6L438.8,196.0L439.3,198.5L439.8,196.0L440.3,197.7L440.8,194.4L441.3,194.9L441.8,195.9L442.3,197.3L442.8,194.4L443.3,195.6L443.8,195.2L444.3,196.0L444.8,197.0L445.3,195.6L445.8,197.7L446.3,195.6L446.8,196.4L447.3,198.8L447.8,195.9L448.3,196.6L448.8,197.1L449.3,196.7L449.8,195.5L450.3,198.0L450.8,197.9L451.3,195.6L451.8,196.3L452.3,198.8L452.8,196.4L453.3,198.7L453.8,195.6L454.3,196.1L454.8,195.9L455.3,198.5L455.8,197.5L456.3,195.4L456.8,198.3L457.3,195.8L457.8,196.8L458.3,196.3L458.8,197.6L459.3,195.7L459.8,195.9L460.3,195.3L460.8,193.2L461.3,196.7L461.8,196.3L462.3,197.8L462.8,194.1L463.3,196.8L463.8,195.3L464.3,197.8L464.8,196.6L465.3,195.5L465.8,195.7L466.3,196.6L466.8,195.1L467.3,196.1L467.8,194.8L468.3,196.5L468.8,195.3L469.3,196.8L469.8,194.5L470.3,196.1L470.8,196.0L471.3,196.9L471.8,194.8L472.3,195.9L472.8,196.4L473.3,194.3L473.8,197.1L474.3,194.8L474.8,194.1L475.3,198.3L475.8,194.9L476.3,195.3L476.8,195.8L477.3,195.6L477.8,197.6L478.3,195.4L478.8,195.7L479.3,197.9L479.8,196.2L480.3,197.5L480.8,195.8L481.3,197.1L481.8,195.8L482.3,197.8L482.8,196.6L483.3,196.5L483.8,196.2L484.3,194.4L484.8,193.1L485.3,197.9L485.8,194.8L486.3,196.2L486.8,196.3L487.3,196.3L487.8,196.1L488.3,196.0L488.8,194.8L489.3,194.2L489.8,195.3L490.3,195.7L490.8,195.0L491.3,195.2L491.8,193.4L492.3,197.0L492.8,197.5L493.3,196.1L493.8,195.3L494.3,196.0L494.8,195.4L495.3,199.1L495.8,196.7L496.3,196.6L496.8,197.5L497.3,196.5L497.8,196.0L498.3,195.2L498.8,196.9L499.3,197.9L499.8,195.2L500.3,193.3L500.8,195.5L501.3,195.6L501.8,197.0L502.3,195.4L502.8,193.7L503.3,198.2L503.8,194.4L504.3,198.2L504.8,193.7L505.3,194.6L505.8,196.0L506.3,195.2L506.8,193.5L507.3,196.9L507.8,194.0L508.3,194.8L508.8,195.5L509.3,193.6L509.8,197.6L510.3,195.6L510.8,197.0L511.3,195.5L511.8,194.8L512.3,197.5L512.8,195.1L513.3,195.0L513.8,196.2L514.3,195.5L514.8,194.0L515.3,195.0L515.8,193.3L516.3,196.7L516.8,196.9L517.3,193.8L517.8,197.0L518.3,193.8L518.8,195.3L519.3,194.4L519.8,195.7L520.3,193.9L520.8,193.5L521.3,193.7L521.8,194.6L522.3,196.9L522.8,194.0L523.3,195.0L523.8,193.5L524.3,197.1L524.8,194.6L525.3,195.7L525.8,195.2L526.3,194.0L526.8,194.0L527.3,193.3L527.8,194.5L528.3,194.3L528.8,194.6L529.3,196.5L529.8,193.6L530.3,196.0L530.8,195.6L531.3,194.4L531.8,195.8L532.3,195.6L532.8,198.1L533.3,196.1L533.8,196.4L534.3,195.8L534.8,194.3L535.3,195.3L535.8,195.1L536.3,194.8L536.8,193.6L537.3,193.5L537.8,194.3L538.3,195.2L538.8,193.7L539.3,195.2L539.8,195.1L540.3,194.4L540.8,195.4L541.3,196.2L541.8,196.3L542.3,195.1L542.8,194.5L543.3,193.9L543.8,195.7L544.3,194.4L544.8,194.7L545.3,195.2L545.8,191.5L546.3,195.6L546.8,195.7L547.3,194.4L547.8,192.6L548.3,195.0L548.8,192.9L549.3,195.8L549.8,195.0L550.3,194.8L550.8,189.3L551.3,149.3L551.5,130.2L551.8,157.4L552.3,194.0L552.8,193.8L553.3,194.4L553.8,194.1L554.3,192.9L554.8,193.8L555.3,194.1L555.8,192.6L556.3,195.0L556.8,196.4L557.3,195.1L557.8,195.9L558.3,194.7L558.8,194.7L559.3,194.5L559.8,194.0L560.3,193.6L560.8,193.9L561.3,194.2L561.8,194.8L562.3,195.0L562.8,194.4L563.3,194.7L563.8,195.8L564.3,194.9L564.8,193.6L565.3,194.4L565.8,195.5L566.3,194.2L566.8,193.7L567.3,195.8L567.8,192.4L568.3,193.0L568.8,194.6L569.3,193.1L569.8,194.1L570.3,193.6L570.8,195.5L571.3,195.0L571.8,194.7L572.3,194.5L572.8,195.0L573.3,196.4L573.8,195.8L574.3,193.9L574.8,194.9L575.3,192.4L575.8,192.8L576.3,194.7L576.8,194.2L577.3,196.7L577.8,193.6L578.3,193.1L578.8,195.4L579.3,195.4L579.8,195.2L580.3,193.6L580.8,193.2L581.3,195.7L581.8,194.9L582.3,193.8L582.8,194.2L583.3,194.8L583.8,193.8L584.3,195.6L584.8,196.3L585.3,193.7L585.8,193.6L586.3,192.9L586.8,194.8L587.3,195.5L587.8,194.4L588.3,194.5L588.8,194.4L589.3,194.5L589.8,192.8L590.3,194.1L590.8,192.8L591.3,195.3L591.8,195.7L592.3,193.3L592.8,195.9L593.3,195.9L593.8,195.8L594.3,196.7L594.8,193.9L595.3,192.4L595.8,193.8L596.3,193.5L596.8,194.9L597.3,195.6L597.8,193.8L598.3,195.9L598.8,196.3L599.3,195.5L599.8,193.2L600.3,194.0L600.8,194.8L601.3,195.9L601.8,195.7L602.3,194.2L602.8,194.7L603.3,195.6L603.8,193.2L604.3,195.4L604.8,196.6L605.3,195.0L605.8,193.4L606.3,193.9L606.8,193.6L607.3,195.7L607.8,194.2L608.3,194.6L608.8,195.1L609.3,196.2L609.8,193.3L610.3,194.7L610.8,195.5L611.3,194.0L611.8,191.8L612.3,196.7L612.8,194.6L613.3,192.7L613.8,192.7L614.3,196.2L614.8,195.6L615.3,197.5L615.8,195.1L616.3,197.0L616.8,196.4L617.3,193.4L617.8,196.6L618.3,197.3L618.8,195.1L619.3,194.9L619.8,194.9L620.3,193.7L620.8,196.0L621.3,195.3L621.8,194.4L622.3,195.7L622.8,193.4L623.3,194.0L623.8,195.1L624.3,195.4L624.8,195.1L625.3,194.8L625.8,197.6L626.3,196.8L626.8,196.2L627.3,196.3L627.8,196.1L628.3,196.1L628.8,195.2L629.3,195.8L629.8,194.9L630.3,195.0L630.8,195.5L631.3,195.9L631.8,196.4L632.3,194.5L632.8,196.1L633.3,195.2L633.8,194.5L634.3,195.3L634.8,197.5L635.3,196.5L635.8,193.2L636.3,197.7L636.8,194.1L637.3,197.1L637.8,195.6L638.3,194.4L638.8,197.0L639.3,194.5L639.8,198.6L640.3,196.0L640.8,196.7L641.3,195.4L641.8,195.0L642.3,194.5L642.8,194.6L643.3,196.5L643.8,197.2L644.3,195.5L644.8,196.7L645.3,198.7L645.8,198.9L646.3,196.7L646.8,196.7L647.3,196.1L647.8,196.0L648.3,198.3L648.8,195.9L649.3,197.8L649.8,195.8L650.3,196.4L650.8,194.4L651.3,196.0L651.8,197.1L652.3,196.8L652.8,196.4L653.3,195.8L653.8,195.6L654.3,197.6L654.8,197.8L655.3,195.6L655.8,196.5L656.3,195.2L656.8,196.0L657.3,194.5L657.8,195.8L658.3,198.1L658.8,197.2L659.3,196.0L659.8,198.0L660.3,196.7L660.8,195.9L661.3,195.3L661.8,195.6L662.3,198.6L662.8,195.3L663.3,197.9L663.8,196.7L664.3,197.8L664.8,195.7L665.3,196.9L665.8,196.5L666.3,196.3L666.8,197.0L667.3,197.7L667.8,195.1L668.3,196.2L668.8,196.0L669.3,199.1L669.8,199.5L670.3,194.9L670.8,196.1L671.3,199.2L671.8,196.6L672.3,197.0L672.8,198.4L673.3,197.7L673.8,194.9L674.3,198.1L674.8,196.6L675.3,198.2" fill="none" stroke="#3cf8f8" stroke-width="1.10" stroke-linejoin="round"/>
<line x1="57.8" y1="205.10" x2="675.4" y2="205.10" stroke="#8a9c9c" stroke-width="1.1"/>
<path d="M58.3,303.6 L58.3,287.6L58.6,292.8L58.9,278.2L59.2,285.1L59.5,292.4L59.8,284.3L60.1,279.4L60.4,283.2L60.7,287.1L61.0,281.3L61.3,287.5L61.6,290.2L61.9,293.8L62.2,281.0L62.5,291.0L62.8,293.2L63.1,285.0L63.4,291.1L63.7,286.4L64.0,278.1L64.3,279.3L64.6,282.3L64.9,286.4L65.2,289.1L65.5,279.7L65.8,290.2L66.1,286.9L66.4,288.1L66.7,282.1L67.0,281.9L67.3,283.6L67.6,292.6L67.9,283.4L68.2,282.8L68.5,281.6L68.8,289.3L69.1,283.4L69.4,291.8L69.7,290.1L70.0,284.3L70.3,279.1L70.6,288.1L70.9,282.4L71.2,289.6L71.5,283.3L71.8,291.4L72.1,288.0L72.4,281.1L72.7,293.2L73.0,276.9L73.3,279.8L73.6,291.2L73.9,282.4L74.2,292.4L74.5,282.6L74.8,291.9L75.1,286.4L75.4,293.7L75.7,286.3L76.0,286.8L76.3,293.6L76.6,285.4L76.9,289.7L77.2,278.0L77.5,283.7L77.8,292.0L78.1,289.5L78.4,287.3L78.7,278.8L79.0,293.6L79.3,278.2L79.6,289.1L79.9,290.0L80.2,285.1L80.5,291.1L80.8,283.6L81.1,287.6L81.4,285.1L81.7,287.0L82.0,291.9L82.3,277.9L82.6,286.0L82.9,284.9L83.2,292.1L83.5,290.7L83.8,283.4L84.1,286.4L84.4,276.0L84.7,266.7L85.0,254.0L85.3,266.7L85.6,279.3L85.9,291.2L86.2,292.3L86.5,283.6L86.8,281.7L87.1,280.0L87.4,279.3L87.7,283.9L88.0,293.4L88.3,293.4L88.6,279.3L88.9,284.9L89.2,285.3L89.5,281.2L89.8,289.2L90.1,291.3L90.4,283.9L90.7,284.3L91.0,283.3L91.3,291.9L91.6,289.8L91.9,278.9L92.2,280.9L92.5,289.7L92.8,283.1L93.1,290.1L93.4,284.4L93.7,284.8L94.0,281.4L94.3,288.8L94.6,282.4L94.9,292.3L95.2,290.6L95.5,281.9L95.8,280.6L96.1,284.4L96.4,281.0L96.7,285.6L97.0,292.0L97.3,286.1L97.6,285.8L97.9,290.9L98.2,287.7L98.5,290.1L98.8,285.3L99.1,282.3L99.4,282.9L99.7,281.1L100.0,281.8L100.3,285.8L100.6,292.4L100.9,281.8L101.2,293.6L101.5,291.9L101.8,290.1L102.1,281.8L102.4,289.9L102.7,286.8L103.0,286.9L103.3,287.9L103.6,285.3L103.9,284.6L104.2,292.8L104.5,290.1L104.8,277.9L105.1,287.2L105.4,285.1L105.7,293.9L106.0,291.7L106.3,280.8L106.6,290.6L106.9,286.5L107.2,281.8L107.5,284.6L107.8,278.0L108.1,287.9L108.4,286.8L108.7,293.7L109.0,283.7L109.3,288.8L109.6,284.6L109.9,286.9L110.2,279.3L110.5,286.0L110.8,288.2L111.1,282.5L111.4,289.6L111.7,288.6L112.0,285.1L112.3,291.9L112.6,279.2L112.9,284.8L113.2,281.6L113.5,288.3L113.8,286.7L114.1,282.8L114.4,280.7L114.7,291.3L115.0,287.6L115.3,283.0L115.6,284.7L115.9,286.5L116.2,287.9L116.5,286.1L116.8,292.0L117.1,288.1L117.4,290.1L117.7,284.5L118.0,289.9L118.3,291.7L118.6,292.4L118.9,290.3L119.2,288.9L119.5,284.2L119.8,283.3L120.1,287.1L120.4,291.5L120.7,287.9L121.0,284.1L121.3,293.1L121.6,286.3L121.9,278.7L122.2,288.8L122.5,292.9L122.8,285.7L123.1,288.8L123.4,285.0L123.7,283.9L124.0,279.8L124.3,290.5L124.6,288.8L124.9,284.1L125.2,294.2L125.5,285.6L125.8,289.9L126.1,291.6L126.4,280.1L126.7,292.1L127.0,285.5L127.3,283.3L127.6,289.7L127.9,283.3L128.2,289.5L128.5,288.4L128.8,286.0L129.1,281.9L129.4,286.3L129.7,280.0L130.0,279.0L130.3,293.6L130.6,284.6L130.9,287.6L131.2,287.1L131.5,284.1L131.8,292.7L132.1,277.5L132.4,283.8L132.7,284.7L133.0,288.0L133.3,282.7L133.6,280.0L133.9,283.1L134.2,288.6L134.5,289.2L134.8,286.8L135.1,280.9L135.4,289.5L135.7,291.3L136.0,280.5L136.3,288.2L136.6,282.9L136.9,292.6L137.2,288.0L137.5,284.8L137.8,286.3L138.1,286.1L138.4,278.8L138.7,280.6L139.0,290.6L139.3,290.2L139.6,285.0L139.9,284.6L140.2,283.0L140.5,284.7L140.8,281.3L141.1,288.5L141.4,292.6L141.7,290.8L142.0,288.0L142.3,287.3L142.6,280.7L142.9,282.4L143.2,286.3L143.5,288.5L143.8,284.5L144.1,279.1L144.4,288.8L144.7,290.2L145.0,276.5L145.3,277.7L145.6,286.7L145.9,288.6L146.2,287.2L146.5,288.5L146.8,284.2L147.1,289.2L147.4,291.3L147.7,288.7L148.0,292.6L148.3,288.7L148.6,282.8L148.9,292.4L149.2,292.8L149.5,291.1L149.8,280.4L150.1,279.1L150.4,287.8L150.7,280.8L151.0,281.6L151.3,282.7L151.6,293.9L151.9,287.1L152.2,288.3L152.5,290.6L152.8,280.0L153.1,293.4L153.4,291.2L153.7,285.1L154.0,287.0L154.3,290.5L154.6,291.4L154.9,281.8L155.2,281.6L155.5,287.7L155.8,280.0L156.1,289.9L156.4,290.9L156.7,286.9L157.0,287.1L157.3,292.8L157.6,291.2L157.9,292.8L158.2,277.3L158.5,284.6L158.8,287.5L159.1,278.1L159.4,282.2L159.7,289.6L160.0,278.6L160.3,293.3L160.6,284.6L160.9,280.2L161.2,286.6L161.5,293.4L161.8,281.6L162.1,284.0L162.4,288.0L162.7,292.7L163.0,292.7L163.3,289.0L163.6,283.0L163.9,278.5L164.2,279.6L164.5,285.0L164.8,286.8L165.1,292.3L165.4,291.6L165.7,279.1L166.0,289.0L166.3,287.2L166.6,283.2L166.9,276.7L167.2,270.1L167.4,265.7L167.8,274.5L168.1,281.0L168.4,285.6L168.7,286.7L169.0,287.0L169.3,293.6L169.6,286.7L169.9,291.3L170.2,291.7L170.5,293.0L170.8,288.5L171.1,281.8L171.4,290.5L171.7,285.9L172.0,286.2L172.3,289.1L172.6,289.4L172.9,281.7L173.2,280.4L173.5,288.2L173.8,283.1L174.1,294.1L174.4,287.5L174.7,290.7L175.0,288.9L175.3,291.9L175.6,292.5L175.9,285.2L176.2,293.0L176.5,291.3L176.8,282.4L177.1,290.8L177.4,291.5L177.7,287.6L178.0,283.9L178.3,292.2L178.6,287.4L178.9,290.3L179.2,289.5L179.5,285.0L179.8,288.4L180.1,280.7L180.4,289.1L180.7,290.5L181.0,287.0L181.3,288.0L181.6,286.5L181.9,293.3L182.2,286.4L182.5,286.7L182.8,286.4L183.1,292.1L183.4,290.4L183.7,285.8L184.0,291.0L184.3,287.9L184.6,282.9L184.9,289.5L185.2,285.1L185.5,291.3L185.8,288.8L186.1,289.0L186.4,286.0L186.7,281.2L187.0,287.3L187.3,282.7L187.6,286.0L187.9,284.2L188.2,293.6L188.5,287.9L188.8,287.3L189.1,292.2L189.4,282.3L189.7,287.1L190.0,284.3L190.3,291.6L190.6,289.3L190.9,282.6L191.2,287.4L191.5,289.7L191.8,285.0L192.1,288.7L192.4,279.1L192.7,283.8L193.0,293.0L193.3,290.4L193.6,289.4L193.9,281.5L194.2,273.6L194.5,265.7L194.7,260.4L195.1,270.9L195.4,278.8L195.7,283.1L196.0,282.3L196.3,282.8L196.6,293.5L196.9,282.7L197.2,293.7L197.5,291.0L197.8,293.7L198.1,288.1L198.4,280.9L198.7,289.9L199.0,280.9L199.3,282.0L199.6,287.4L199.9,290.4L200.2,287.2L200.5,284.5L200.8,286.3L201.1,288.4L201.4,282.7L201.7,278.6L202.0,289.0L202.3,292.3L202.6,292.8L202.9,292.4L203.2,291.7L203.5,291.7L203.8,280.9L204.1,292.2L204.4,280.6L204.7,276.9L205.0,287.9L205.3,287.6L205.6,288.2L205.9,286.5L206.2,279.2L206.5,287.6L206.8,284.4L207.1,285.7L207.4,289.5L207.7,278.8L208.0,288.8L208.3,283.0L208.6,283.8L208.9,292.6L209.2,277.6L209.5,280.1L209.8,287.2L210.1,294.2L210.4,285.3L210.7,285.8L211.0,292.7L211.3,289.2L211.6,284.9L211.9,288.4L212.2,288.4L212.5,288.9L212.8,291.3L213.1,293.5L213.4,287.6L213.7,290.3L214.0,287.3L214.3,284.8L214.6,286.3L214.9,286.2L215.2,285.2L215.5,278.5L215.8,292.6L216.1,289.8L216.4,289.6L216.7,293.4L217.0,283.1L217.3,287.8L217.6,283.9L217.9,287.1L218.2,285.4L218.5,290.8L218.8,287.3L219.1,290.3L219.4,287.5L219.7,293.0L220.0,286.1L220.3,280.6L220.6,292.4L220.9,283.1L221.2,280.5L221.5,277.6L221.8,293.6L222.1,260.8L222.4,213.9L222.7,260.8L223.0,291.6L223.3,284.9L223.6,281.2L223.9,288.7L224.2,284.5L224.5,291.0L224.8,288.6L225.1,284.0L225.4,286.2L225.7,290.7L226.0,291.2L226.3,279.3L226.6,285.6L226.9,288.6L227.2,293.0L227.5,282.0L227.8,290.9L228.1,284.2L228.4,287.7L228.7,281.0L229.0,284.9L229.3,286.8L229.6,283.4L229.9,282.4L230.2,280.9L230.5,290.2L230.8,284.8L231.1,286.2L231.4,293.5L231.7,290.5L232.0,283.9L232.3,292.3L232.6,282.5L232.9,280.7L233.2,289.8L233.5,289.7L233.8,285.2L234.1,281.9L234.4,282.5L234.7,292.3L235.0,291.1L235.3,288.6L235.6,289.1L235.9,291.8L236.2,282.3L236.5,279.6L236.8,287.4L237.1,290.2L237.4,291.1L237.7,287.4L238.0,285.0L238.3,285.2L238.6,293.4L238.9,287.2L239.2,285.8L239.5,291.1L239.8,292.5L240.1,290.8L240.4,285.0L240.7,292.2L241.0,290.9L241.3,277.7L241.6,285.3L241.9,289.8L242.2,293.3L242.5,290.3L242.8,290.8L243.1,277.9L243.4,286.7L243.7,285.9L244.0,280.5L244.3,293.7L244.6,292.5L244.9,290.5L245.2,291.2L245.5,283.3L245.8,278.1L246.1,285.3L246.4,290.2L246.7,286.8L247.0,288.6L247.3,289.9L247.6,284.2L247.9,281.9L248.2,291.9L248.5,292.2L248.8,285.4L249.1,286.6L249.4,282.0L249.7,274.5L250.0,267.0L250.3,274.5L250.6,281.7L250.9,283.6L251.2,291.1L251.5,288.0L251.8,288.2L252.1,286.8L252.4,283.2L252.7,283.6L253.0,281.4L253.3,286.8L253.6,291.7L253.9,280.9L254.2,289.9L254.5,284.0L254.8,290.7L255.1,293.6L255.4,290.0L255.7,279.7L256.0,293.4L256.3,289.2L256.6,284.7L256.9,291.1L257.2,288.7L257.5,285.4L257.8,287.6L258.1,292.1L258.4,287.5L258.7,291.1L259.0,285.6L259.3,283.5L259.6,283.1L259.9,291.3L260.2,288.2L260.5,283.5L260.8,291.9L261.1,287.9L261.4,289.0L261.7,281.3L262.0,283.9L262.3,291.8L262.6,277.6L262.9,286.6L263.2,284.7L263.5,291.0L263.8,290.7L264.1,287.7L264.4,280.3L264.7,287.0L265.0,288.8L265.3,294.8L265.6,289.6L265.9,293.8L266.2,289.6L266.5,285.3L266.8,287.7L267.1,293.6L267.4,290.6L267.7,292.9L268.0,293.9L268.3,281.7L268.6,293.3L268.9,283.9L269.2,281.5L269.5,285.6L269.8,290.2L270.1,290.1L270.4,292.0L270.7,290.6L271.0,291.3L271.3,282.0L271.6,279.3L271.9,283.5L272.2,285.4L272.5,282.3L272.8,291.5L273.1,288.4L273.4,289.4L273.7,290.2L274.0,286.9L274.3,284.3L274.6,284.7L274.9,291.0L275.2,280.0L275.5,286.9L275.8,285.1L276.1,293.0L276.4,292.2L276.7,292.0L277.0,283.6L277.3,287.7L277.6,281.9L277.9,287.5L278.2,295.6L278.5,292.9L278.8,292.9L279.1,277.5L279.4,285.2L279.7,280.0L280.0,282.2L280.3,291.0L280.6,289.1L280.9,293.8L281.2,285.3L281.5,288.3L281.8,292.7L282.1,291.7L282.4,288.9L282.7,287.5L283.0,286.3L283.3,285.7L283.6,283.9L283.9,282.3L284.2,285.1L284.5,283.0L284.8,283.8L285.1,291.0L285.4,284.5L285.7,288.3L286.0,291.5L286.3,287.8L286.6,293.9L286.9,289.4L287.2,285.6L287.5,286.0L287.8,284.9L288.1,282.7L288.4,291.7L288.7,292.0L289.0,291.4L289.3,291.7L289.6,290.0L289.9,286.1L290.2,291.9L290.5,286.5L290.8,288.1L291.1,294.1L291.4,281.2L291.7,292.6L292.0,280.8L292.3,279.0L292.6,286.1L292.9,295.0L293.2,290.1L293.5,285.2L293.8,291.7L294.1,286.3L294.4,293.6L294.7,288.2L295.0,289.7L295.3,279.4L295.6,283.1L295.9,288.1L296.2,292.7L296.5,289.9L296.8,281.9L297.1,286.4L297.4,292.0L297.7,292.0L298.0,282.9L298.3,285.5L298.6,291.7L298.9,282.3L299.2,288.3L299.5,287.7L299.8,290.4L300.1,286.3L300.4,291.3L300.7,294.9L301.0,291.0L301.3,292.8L301.6,290.9L301.9,284.6L302.2,281.8L302.5,282.4L302.8,282.3L303.1,279.1L303.4,283.7L303.7,285.9L304.0,292.0L304.3,285.1L304.6,278.2L304.9,271.3L305.0,269.0L305.2,273.6L305.5,280.5L305.8,287.4L306.1,286.8L306.4,284.8L306.7,291.7L307.0,281.3L307.3,279.5L307.6,291.7L307.9,289.7L308.2,279.3L308.5,283.4L308.8,287.9L309.1,291.3L309.4,285.0L309.7,283.5L310.0,293.4L310.3,289.8L310.6,287.4L310.9,295.3L311.2,294.4L311.5,293.7L311.8,291.6L312.1,279.9L312.4,280.9L312.7,288.9L313.0,288.8L313.3,294.1L313.6,286.9L313.9,286.9L314.2,283.4L314.5,286.2L314.8,294.2L315.1,291.7L315.4,281.2L315.7,288.3L316.0,282.5L316.3,286.9L316.6,295.4L316.9,291.8L317.2,286.7L317.5,289.6L317.8,291.3L318.1,291.9L318.4,286.2L318.7,292.8L319.0,287.5L319.3,293.8L319.6,294.1L319.9,293.3L320.2,291.1L320.5,290.1L320.8,285.7L321.1,283.4L321.4,292.4L321.7,291.8L322.0,281.0L322.3,286.4L322.6,281.5L322.9,286.3L323.2,288.1L323.5,293.0L323.8,284.2L324.1,281.7L324.4,291.4L324.7,289.6L325.0,286.1L325.3,282.7L325.6,287.3L325.9,288.0L326.2,284.8L326.5,290.0L326.8,285.4L327.1,283.4L327.4,284.2L327.7,294.4L328.0,288.9L328.3,282.7L328.6,289.3L328.9,294.4L329.2,295.5L329.5,282.7L329.8,287.8L330.1,286.8L330.4,284.3L330.7,290.7L331.0,283.1L331.3,287.4L331.6,293.3L331.9,292.5L332.2,282.7L332.5,294.9L332.8,280.1L333.1,290.4L333.4,287.6L333.7,286.9L334.0,287.7L334.3,288.9L334.6,290.1L334.9,286.4L335.2,283.6L335.5,284.0L335.8,292.5L336.1,291.6L336.4,289.3L336.7,289.1L337.0,291.4L337.3,282.5L337.6,292.3L337.9,286.4L338.2,288.2L338.5,293.3L338.8,280.6L339.1,293.3L339.4,294.5L339.7,291.6L340.0,293.3L340.3,289.2L340.6,291.4L340.9,282.7L341.2,289.5L341.5,283.0L341.8,293.8L342.1,286.7L342.4,288.7L342.7,280.6L343.0,292.0L343.3,283.4L343.6,284.6L343.9,290.4L344.2,291.4L344.5,288.9L344.8,290.4L345.1,282.0L345.4,282.5L345.7,279.4L346.0,284.9L346.3,281.6L346.6,283.7L346.9,290.6L347.2,290.1L347.5,287.1L347.8,286.8L348.1,293.7L348.4,285.3L348.7,290.1L349.0,286.8L349.3,285.6L349.6,291.5L349.9,294.7L350.2,281.5L350.5,277.7L350.8,293.0L351.1,291.1L351.4,292.9L351.7,292.6L352.0,283.2L352.3,286.4L352.6,291.8L352.9,279.9L353.2,290.5L353.5,289.3L353.8,287.9L354.1,289.6L354.4,288.8L354.7,288.3L355.0,286.2L355.3,280.5L355.6,292.1L355.9,288.5L356.2,291.0L356.5,292.3L356.8,292.9L357.1,291.9L357.4,291.6L357.7,284.7L358.0,287.7L358.3,292.0L358.6,284.9L358.9,277.7L359.2,270.6L359.5,263.4L359.8,270.5L360.1,277.7L360.4,284.8L360.7,292.0L361.0,287.9L361.3,292.0L361.6,289.9L361.9,283.9L362.2,288.2L362.5,289.1L362.8,285.4L363.1,292.6L363.4,294.2L363.7,293.1L364.0,292.2L364.3,291.8L364.6,286.0L364.9,280.0L365.2,293.5L365.5,289.2L365.8,288.7L366.1,282.4L366.4,290.3L366.7,291.6L367.0,285.0L367.3,286.9L367.6,291.4L367.9,285.3L368.2,285.6L368.5,287.2L368.8,283.0L369.1,292.5L369.4,294.6L369.7,289.2L370.0,289.7L370.3,291.8L370.6,287.4L370.9,280.1L371.2,285.8L371.5,284.5L371.8,289.1L372.1,288.4L372.4,288.7L372.7,295.1L373.0,279.1L373.3,295.4L373.6,284.4L373.9,294.5L374.2,287.4L374.5,294.6L374.8,295.3L375.1,285.4L375.4,283.1L375.7,292.4L376.0,290.9L376.3,284.6L376.6,290.8L376.9,293.4L377.2,286.6L377.5,290.5L377.8,287.8L378.1,279.9L378.4,294.1L378.7,290.1L379.0,285.5L379.3,287.9L379.6,280.5L379.9,293.3L380.2,291.5L380.5,293.1L380.8,285.1L381.1,283.0L381.4,285.1L381.7,287.9L382.0,289.8L382.3,294.4L382.6,291.9L382.9,289.1L383.2,288.1L383.5,289.0L383.8,284.7L384.1,286.9L384.4,283.4L384.7,293.0L385.0,291.1L385.3,294.3L385.6,287.9L385.9,288.7L386.2,284.5L386.5,287.8L386.8,260.1L387.0,238.9L387.4,281.4L387.7,284.4L388.0,293.6L388.3,292.2L388.6,283.7L388.9,287.5L389.2,286.8L389.5,296.0L389.8,293.5L390.1,289.8L390.4,288.9L390.7,285.6L391.0,292.3L391.3,281.4L391.6,288.7L391.9,287.2L392.2,280.4L392.5,284.0L392.8,289.7L393.1,287.2L393.4,287.6L393.7,289.8L394.0,286.6L394.3,291.4L394.6,281.4L394.9,289.5L395.2,288.3L395.5,286.4L395.8,281.0L396.1,287.9L396.4,280.2L396.7,285.1L397.0,281.8L397.3,283.4L397.6,291.3L397.9,292.2L398.2,292.4L398.5,288.3L398.8,283.5L399.1,288.2L399.4,288.7L399.7,278.6L400.0,289.9L400.3,282.9L400.6,293.8L400.9,286.1L401.2,285.3L401.5,286.7L401.8,286.6L402.1,284.2L402.4,288.9L402.7,290.9L403.0,290.6L403.3,293.1L403.6,294.6L403.9,287.8L404.2,282.1L404.5,286.2L404.8,294.2L405.1,290.2L405.4,290.1L405.7,290.5L406.0,291.7L406.3,290.7L406.6,281.9L406.9,289.8L407.2,293.5L407.5,283.2L407.8,292.1L408.1,285.5L408.4,295.0L408.7,288.4L409.0,293.2L409.3,289.3L409.6,285.7L409.9,286.6L410.2,286.3L410.5,285.6L410.8,290.4L411.1,295.1L411.4,290.7L411.7,294.7L412.0,282.2L412.3,283.6L412.6,292.6L412.9,283.4L413.2,285.3L413.5,292.0L413.8,281.5L414.1,270.9L414.4,260.4L414.5,256.9L414.7,263.9L415.0,274.4L415.3,283.5L415.6,284.3L415.9,291.2L416.2,292.8L416.5,292.1L416.8,286.0L417.1,290.1L417.4,289.3L417.7,284.0L418.0,287.1L418.3,293.5L418.6,285.8L418.9,281.5L419.2,287.1L419.5,287.0L419.8,286.8L420.1,293.3L420.4,290.6L420.7,279.9L421.0,292.1L421.3,292.9L421.6,291.7L421.9,292.9L422.2,286.5L422.5,291.5L422.8,291.5L423.1,290.8L423.4,294.0L423.7,290.1L424.0,289.0L424.3,295.0L424.6,291.0L424.9,284.1L425.2,290.9L425.5,292.0L425.8,288.3L426.1,291.7L426.4,290.5L426.7,294.8L427.0,287.9L427.3,289.4L427.6,281.2L427.9,290.5L428.2,287.9L428.5,289.8L428.8,291.6L429.1,284.2L429.4,287.1L429.7,281.3L430.0,292.0L430.3,290.1L430.6,294.3L430.9,287.8L431.2,280.5L431.5,291.7L431.8,293.5L432.1,280.4L432.4,290.6L432.7,288.9L433.0,289.7L433.3,295.9L433.6,280.7L433.9,294.3L434.2,290.0L434.5,288.9L434.8,287.9L435.1,286.7L435.4,286.5L435.7,282.4L436.0,282.8L436.3,287.4L436.6,287.0L436.9,290.9L437.2,285.6L437.5,293.3L437.8,290.8L438.1,282.0L438.4,287.0L438.7,294.2L439.0,289.7L439.3,292.5L439.6,288.4L439.9,295.2L440.2,286.2L440.5,280.1L440.8,284.3L441.1,289.9L441.4,289.2L441.7,288.1L442.0,284.1L442.3,286.7L442.6,292.7L442.9,279.2L443.2,285.4L443.5,279.7L443.8,287.8L444.1,293.0L444.4,286.4L444.7,283.2L445.0,292.1L445.3,295.8L445.6,289.8L445.9,290.6L446.2,288.3L446.5,295.0L446.8,292.5L447.1,279.0L447.4,291.2L447.7,291.9L448.0,293.2L448.3,294.0L448.6,291.1L448.9,292.8L449.2,291.6L449.5,292.3L449.8,284.0L450.1,294.3L450.4,289.8L450.7,290.6L451.0,287.8L451.3,289.0L451.6,282.9L451.9,290.1L452.2,288.5L452.5,292.8L452.8,282.0L453.1,292.7L453.4,290.0L453.7,287.5L454.0,291.3L454.3,282.1L454.6,279.8L454.9,292.7L455.2,287.5L455.5,282.8L455.8,278.7L456.1,292.8L456.4,283.7L456.7,280.4L457.0,282.8L457.3,289.3L457.6,288.0L457.9,281.1L458.2,286.8L458.5,286.5L458.8,294.9L459.1,288.3L459.4,283.8L459.7,281.3L460.0,286.2L460.3,286.6L460.6,280.7L460.9,281.6L461.2,279.8L461.5,282.3L461.8,280.7L462.1,280.7L462.4,284.2L462.7,282.2L463.0,281.0L463.3,279.1L463.6,279.1L463.9,283.6L464.2,281.3L464.5,285.9L464.8,278.8L465.1,283.1L465.4,278.8L465.7,282.2L466.0,279.9L466.3,280.5L466.6,284.5L466.9,284.3L467.2,283.3L467.5,277.8L467.8,279.1L468.1,274.3L468.4,273.0L468.7,273.4L469.0,270.3L469.3,267.6L469.6,268.2L469.9,268.4L470.2,270.3L470.5,275.3L470.8,275.7L471.1,277.1L471.4,280.9L471.7,280.6L472.0,280.7L472.3,279.1L472.6,280.9L472.9,283.1L473.2,279.4L473.5,283.0L473.8,279.8L474.1,281.2L474.4,283.5L474.7,278.9L475.0,282.5L475.3,283.5L475.6,287.1L475.9,281.6L476.2,281.6L476.5,282.1L476.8,283.1L477.1,280.3L477.4,280.7L477.7,283.2L478.0,280.9L478.3,279.6L478.6,285.2L478.9,285.2L479.2,280.1L479.5,283.1L479.8,279.2L480.1,281.5L480.4,280.4L480.7,279.5L481.0,282.9L481.3,280.2L481.6,284.2L481.9,279.3L482.2,283.1L482.5,289.6L482.8,279.9L483.1,287.0L483.4,279.1L483.7,284.8L484.0,281.7L484.3,280.5L484.6,279.7L484.9,287.7L485.2,279.0L485.5,281.7L485.8,279.6L486.1,280.7L486.4,283.9L486.7,284.2L487.0,285.4L487.3,291.1L487.6,287.5L487.9,280.5L488.2,280.9L488.5,286.5L488.8,286.3L489.1,280.0L489.4,290.2L489.7,282.0L490.0,287.3L490.3,278.8L490.6,288.4L490.9,280.4L491.2,282.6L491.5,280.5L491.8,283.0L492.1,283.7L492.4,281.2L492.7,281.3L493.0,278.7L493.3,280.4L493.6,283.7L493.9,278.9L494.2,280.0L494.5,279.5L494.8,279.9L495.1,274.5L495.4,275.9L495.7,269.1L496.0,271.2L496.3,265.5L496.6,265.3L496.9,269.3L497.2,267.7L497.5,271.4L497.8,274.4L498.1,280.6L498.4,280.0L498.7,281.8L499.0,285.2L499.3,282.2L499.6,290.9L499.9,279.6L500.2,287.8L500.5,289.5L500.8,295.0L501.1,278.6L501.4,291.7L501.7,287.6L502.0,287.2L502.3,288.9L502.6,289.2L502.9,294.0L503.2,295.0L503.5,292.2L503.8,287.7L504.1,290.7L504.4,287.0L504.7,290.8L505.0,294.8L505.3,281.7L505.6,283.7L505.9,289.4L506.2,292.8L506.5,293.3L506.8,292.1L507.1,282.8L507.4,294.5L507.7,277.9L508.0,291.4L508.3,284.6L508.6,292.1L508.9,286.7L509.2,290.6L509.5,292.6L509.8,282.0L510.1,279.5L510.4,284.6L510.7,281.9L511.0,291.5L511.3,280.4L511.6,291.0L511.9,288.9L512.2,292.8L512.5,285.0L512.8,293.0L513.1,293.5L513.4,290.4L513.7,284.1L514.0,295.1L514.3,282.4L514.6,290.8L514.9,286.8L515.2,288.1L515.5,288.5L515.8,293.9L516.1,289.1L516.4,294.2L516.7,287.2L517.0,289.5L517.3,287.6L517.6,291.7L517.9,294.3L518.2,286.4L518.5,289.2L518.8,284.3L519.1,282.9L519.4,292.6L519.7,293.7L520.0,292.6L520.3,292.7L520.6,289.2L520.9,282.2L521.2,293.7L521.5,288.9L521.8,293.9L522.1,293.3L522.4,291.8L522.7,293.0L523.0,281.8L523.3,292.2L523.6,292.1L523.9,282.9L524.2,289.4L524.5,289.9L524.8,290.9L525.1,283.1L525.4,282.2L525.7,291.3L526.0,287.7L526.3,291.9L526.6,290.2L526.9,293.4L527.2,287.1L527.5,282.4L527.8,294.7L528.1,285.7L528.4,295.5L528.7,283.8L529.0,285.0L529.3,285.5L529.6,277.8L529.9,294.1L530.2,284.6L530.5,286.1L530.8,293.1L531.1,293.5L531.4,284.1L531.7,282.2L532.0,290.2L532.3,292.2L532.6,286.3L532.9,289.0L533.2,292.1L533.5,290.4L533.8,289.4L534.1,292.4L534.4,292.1L534.7,290.6L535.0,289.9L535.3,280.8L535.6,295.3L535.9,287.6L536.2,287.5L536.5,281.5L536.8,294.0L537.1,286.6L537.4,289.9L537.7,289.8L538.0,280.0L538.3,293.7L538.6,281.3L538.9,296.2L539.2,291.1L539.5,281.3L539.8,295.5L540.1,288.2L540.4,283.1L540.7,295.8L541.0,286.7L541.3,289.2L541.6,291.2L541.9,284.6L542.2,290.0L542.5,286.6L542.8,285.7L543.1,292.9L543.4,295.4L543.7,284.1L544.0,285.9L544.3,293.5L544.6,287.8L544.9,288.7L545.2,296.1L545.5,282.1L545.8,280.0L546.1,283.7L546.4,287.3L546.7,282.7L547.0,291.8L547.3,294.8L547.6,295.6L547.9,287.0L548.2,288.6L548.5,288.0L548.8,287.2L549.1,283.6L549.4,283.5L549.7,293.5L550.0,288.6L550.3,284.9L550.6,282.5L550.9,290.2L551.2,266.6L551.5,228.4L551.8,266.6L552.1,288.8L552.4,289.8L552.7,290.8L553.0,284.7L553.3,294.2L553.6,286.3L553.9,284.6L554.2,289.3L554.5,288.8L554.8,284.6L555.1,282.1L555.4,293.8L555.7,287.7L556.0,286.2L556.3,288.0L556.6,287.7L556.9,289.4L557.2,282.9L557.5,285.1L557.8,280.1L558.1,281.0L558.4,293.3L558.7,285.3L559.0,291.5L559.3,284.6L559.6,284.7L559.9,292.5L560.2,287.9L560.5,290.1L560.8,288.3L561.1,287.6L561.4,286.5L561.7,287.2L562.0,281.0L562.3,289.0L562.6,292.3L562.9,292.9L563.2,286.1L563.5,295.2L563.8,290.6L564.1,284.2L564.4,282.9L564.7,288.8L565.0,284.2L565.3,279.5L565.6,281.1L565.9,285.4L566.2,283.9L566.5,287.2L566.8,285.4L567.1,295.1L567.4,286.7L567.7,293.4L568.0,288.2L568.3,290.0L568.6,289.0L568.9,292.9L569.2,293.7L569.5,288.4L569.8,281.2L570.1,289.8L570.4,284.2L570.7,290.3L571.0,280.7L571.3,289.2L571.6,287.1L571.9,293.8L572.2,280.1L572.5,283.7L572.8,291.6L573.1,291.7L573.4,288.1L573.7,286.6L574.0,285.4L574.3,282.4L574.6,284.1L574.9,285.7L575.2,281.3L575.5,276.4L575.8,278.1L576.1,278.1L576.4,277.1L576.7,272.3L577.0,273.4L577.3,273.9L577.6,275.2L577.9,269.8L578.2,266.9L578.5,266.6L578.8,266.5L579.1,266.0L579.4,268.6L579.7,274.9L580.0,269.1L580.3,270.9L580.6,270.8L580.9,274.6L581.2,273.8L581.5,278.7L581.8,277.8L582.1,277.6L582.4,277.9L582.7,281.8L583.0,280.1L583.3,283.7L583.6,285.9L583.9,284.7L584.2,290.1L584.5,286.6L584.8,289.4L585.1,289.7L585.4,289.3L585.7,289.5L586.0,291.4L586.3,288.2L586.6,293.0L586.9,286.9L587.2,283.9L587.5,293.8L587.8,292.4L588.1,293.5L588.4,291.3L588.7,290.5L589.0,284.1L589.3,288.0L589.6,279.1L589.9,287.6L590.2,286.8L590.5,285.4L590.8,282.8L591.1,291.3L591.4,280.8L591.7,289.3L592.0,287.7L592.3,291.8L592.6,286.0L592.9,289.2L593.2,282.0L593.5,292.0L593.8,294.0L594.1,283.7L594.4,293.4L594.7,290.9L595.0,291.6L595.3,295.7L595.6,289.1L595.9,292.9L596.2,278.6L596.5,286.7L596.8,282.3L597.1,284.0L597.4,284.4L597.7,278.6L598.0,289.6L598.3,287.6L598.6,288.5L598.9,287.5L599.2,284.5L599.5,287.7L599.8,281.5L600.1,287.7L600.4,284.7L600.7,285.1L601.0,283.5L601.3,284.9L601.6,282.3L601.9,280.9L602.2,283.6L602.5,279.3L602.8,283.4L603.1,279.2L603.4,280.4L603.7,278.7L604.0,280.3L604.3,276.0L604.6,274.5L604.9,272.7L605.2,273.7L605.5,276.5L605.8,274.0L606.1,273.2L606.4,273.3L606.7,277.4L607.0,278.3L607.3,284.6L607.6,281.2L607.9,285.6L608.2,289.6L608.5,293.2L608.8,288.4L609.1,287.9L609.4,286.7L609.7,283.3L610.0,287.5L610.3,292.3L610.6,292.9L610.9,286.2L611.2,291.6L611.5,286.2L611.8,286.2L612.1,285.6L612.4,296.2L612.7,291.0L613.0,289.4L613.3,292.7L613.6,282.8L613.9,292.9L614.2,295.1L614.5,289.3L614.8,282.7L615.1,288.4L615.4,291.1L615.7,287.4L616.0,285.3L616.3,289.8L616.6,294.7L616.9,295.5L617.2,285.6L617.5,292.8L617.8,289.0L618.1,288.7L618.4,284.1L618.7,285.2L619.0,293.7L619.3,295.1L619.6,288.3L619.9,286.8L620.2,295.5L620.5,281.9L620.8,291.8L621.1,286.2L621.4,282.6L621.7,290.6L622.0,281.4L622.3,282.6L622.6,289.7L622.9,285.3L623.2,284.7L623.5,285.0L623.8,292.9L624.1,296.6L624.4,285.1L624.7,295.4L625.0,289.5L625.3,287.5L625.6,289.9L625.9,292.9L626.2,291.3L626.5,287.5L626.8,286.2L627.1,285.5L627.4,292.2L627.7,287.5L628.0,293.2L628.3,290.4L628.6,288.4L628.9,292.8L629.2,287.7L629.5,289.8L629.8,293.2L630.1,290.8L630.4,285.3L630.7,289.2L631.0,279.9L631.3,293.0L631.6,287.5L631.9,288.6L632.2,294.3L632.5,291.2L632.8,290.2L633.1,281.3L633.4,270.6L633.5,267.0L633.7,274.1L634.0,284.5L634.3,282.9L634.6,290.4L634.9,294.1L635.2,287.9L635.5,287.4L635.8,286.1L636.1,294.4L636.4,293.7L636.7,290.7L637.0,292.3L637.3,291.5L637.6,289.6L637.9,283.4L638.2,288.9L638.5,282.4L638.8,295.3L639.1,288.9L639.4,296.0L639.7,287.0L640.0,293.9L640.3,287.3L640.6,287.4L640.9,289.3L641.2,279.2L641.5,285.0L641.8,281.3L642.1,288.3L642.4,284.1L642.7,286.4L643.0,283.0L643.3,280.7L643.6,287.9L643.9,287.2L644.2,283.8L644.5,283.8L644.8,292.7L645.1,289.9L645.4,295.5L645.7,286.5L646.0,296.3L646.3,281.4L646.6,290.2L646.9,293.0L647.2,294.1L647.5,296.2L647.8,285.7L648.1,287.6L648.4,282.3L648.7,289.1L649.0,293.6L649.3,282.8L649.6,290.0L649.9,290.6L650.2,285.5L650.5,280.9L650.8,292.7L651.1,286.4L651.4,278.0L651.7,289.7L652.0,295.7L652.3,282.2L652.6,287.9L652.9,284.8L653.2,294.3L653.5,292.4L653.8,288.4L654.1,286.6L654.4,294.5L654.7,291.1L655.0,288.9L655.3,292.1L655.6,290.7L655.9,292.5L656.2,292.7L656.5,290.0L656.8,290.3L657.1,286.0L657.4,292.4L657.7,294.5L658.0,288.6L658.3,285.0L658.6,289.1L658.9,289.7L659.2,281.1L659.5,289.2L659.8,292.5L660.1,290.7L660.4,291.8L660.7,291.7L661.0,282.6L661.3,291.2L661.6,286.5L661.9,295.1L662.2,287.3L662.5,286.8L662.8,287.6L663.1,292.9L663.4,290.5L663.7,292.4L664.0,284.2L664.3,290.2L664.6,286.9L664.9,283.1L665.2,287.4L665.5,291.8L665.8,291.2L666.1,290.6L666.4,295.6L666.7,293.0L667.0,281.8L667.3,287.9L667.6,296.0L667.9,282.6L668.2,292.7L668.5,293.7L668.8,293.5L669.1,286.4L669.4,294.9L669.7,289.3L670.0,294.9L670.3,290.6L670.6,288.2L670.9,284.2L671.2,286.9L671.5,283.7L671.8,290.6L672.1,281.0L672.4,291.4L672.7,296.8L673.0,285.0L673.3,296.8L673.6,289.2L673.9,291.2L674.2,285.2L674.5,289.0L674.8,290.9L675.1,288.3 L675.1,303.6 Z" fill="#b4fbe4" stroke="none"/>
<path d="M58.3,287.6L58.6,292.8L58.9,278.2L59.2,285.1L59.5,292.4L59.8,284.3L60.1,279.4L60.4,283.2L60.7,287.1L61.0,281.3L61.3,287.5L61.6,290.2L61.9,293.8L62.2,281.0L62.5,291.0L62.8,293.2L63.1,285.0L63.4,291.1L63.7,286.4L64.0,278.1L64.3,279.3L64.6,282.3L64.9,286.4L65.2,289.1L65.5,279.7L65.8,290.2L66.1,286.9L66.4,288.1L66.7,282.1L67.0,281.9L67.3,283.6L67.6,292.6L67.9,283.4L68.2,282.8L68.5,281.6L68.8,289.3L69.1,283.4L69.4,291.8L69.7,290.1L70.0,284.3L70.3,279.1L70.6,288.1L70.9,282.4L71.2,289.6L71.5,283.3L71.8,291.4L72.1,288.0L72.4,281.1L72.7,293.2L73.0,276.9L73.3,279.8L73.6,291.2L73.9,282.4L74.2,292.4L74.5,282.6L74.8,291.9L75.1,286.4L75.4,293.7L75.7,286.3L76.0,286.8L76.3,293.6L76.6,285.4L76.9,289.7L77.2,278.0L77.5,283.7L77.8,292.0L78.1,289.5L78.4,287.3L78.7,278.8L79.0,293.6L79.3,278.2L79.6,289.1L79.9,290.0L80.2,285.1L80.5,291.1L80.8,283.6L81.1,287.6L81.4,285.1L81.7,287.0L82.0,291.9L82.3,277.9L82.6,286.0L82.9,284.9L83.2,292.1L83.5,290.7L83.8,283.4L84.1,286.4L84.4,276.0L84.7,266.7L85.0,254.0L85.3,266.7L85.6,279.3L85.9,291.2L86.2,292.3L86.5,283.6L86.8,281.7L87.1,280.0L87.4,279.3L87.7,283.9L88.0,293.4L88.3,293.4L88.6,279.3L88.9,284.9L89.2,285.3L89.5,281.2L89.8,289.2L90.1,291.3L90.4,283.9L90.7,284.3L91.0,283.3L91.3,291.9L91.6,289.8L91.9,278.9L92.2,280.9L92.5,289.7L92.8,283.1L93.1,290.1L93.4,284.4L93.7,284.8L94.0,281.4L94.3,288.8L94.6,282.4L94.9,292.3L95.2,290.6L95.5,281.9L95.8,280.6L96.1,284.4L96.4,281.0L96.7,285.6L97.0,292.0L97.3,286.1L97.6,285.8L97.9,290.9L98.2,287.7L98.5,290.1L98.8,285.3L99.1,282.3L99.4,282.9L99.7,281.1L100.0,281.8L100.3,285.8L100.6,292.4L100.9,281.8L101.2,293.6L101.5,291.9L101.8,290.1L102.1,281.8L102.4,289.9L102.7,286.8L103.0,286.9L103.3,287.9L103.6,285.3L103.9,284.6L104.2,292.8L104.5,290.1L104.8,277.9L105.1,287.2L105.4,285.1L105.7,293.9L106.0,291.7L106.3,280.8L106.6,290.6L106.9,286.5L107.2,281.8L107.5,284.6L107.8,278.0L108.1,287.9L108.4,286.8L108.7,293.7L109.0,283.7L109.3,288.8L109.6,284.6L109.9,286.9L110.2,279.3L110.5,286.0L110.8,288.2L111.1,282.5L111.4,289.6L111.7,288.6L112.0,285.1L112.3,291.9L112.6,279.2L112.9,284.8L113.2,281.6L113.5,288.3L113.8,286.7L114.1,282.8L114.4,280.7L114.7,291.3L115.0,287.6L115.3,283.0L115.6,284.7L115.9,286.5L116.2,287.9L116.5,286.1L116.8,292.0L117.1,288.1L117.4,290.1L117.7,284.5L118.0,289.9L118.3,291.7L118.6,292.4L118.9,290.3L119.2,288.9L119.5,284.2L119.8,283.3L120.1,287.1L120.4,291.5L120.7,287.9L121.0,284.1L121.3,293.1L121.6,286.3L121.9,278.7L122.2,288.8L122.5,292.9L122.8,285.7L123.1,288.8L123.4,285.0L123.7,283.9L124.0,279.8L124.3,290.5L124.6,288.8L124.9,284.1L125.2,294.2L125.5,285.6L125.8,289.9L126.1,291.6L126.4,280.1L126.7,292.1L127.0,285.5L127.3,283.3L127.6,289.7L127.9,283.3L128.2,289.5L128.5,288.4L128.8,286.0L129.1,281.9L129.4,286.3L129.7,280.0L130.0,279.0L130.3,293.6L130.6,284.6L130.9,287.6L131.2,287.1L131.5,284.1L131.8,292.7L132.1,277.5L132.4,283.8L132.7,284.7L133.0,288.0L133.3,282.7L133.6,280.0L133.9,283.1L134.2,288.6L134.5,289.2L134.8,286.8L135.1,280.9L135.4,289.5L135.7,291.3L136.0,280.5L136.3,288.2L136.6,282.9L136.9,292.6L137.2,288.0L137.5,284.8L137.8,286.3L138.1,286.1L138.4,278.8L138.7,280.6L139.0,290.6L139.3,290.2L139.6,285.0L139.9,284.6L140.2,283.0L140.5,284.7L140.8,281.3L141.1,288.5L141.4,292.6L141.7,290.8L142.0,288.0L142.3,287.3L142.6,280.7L142.9,282.4L143.2,286.3L143.5,288.5L143.8,284.5L144.1,279.1L144.4,288.8L144.7,290.2L145.0,276.5L145.3,277.7L145.6,286.7L145.9,288.6L146.2,287.2L146.5,288.5L146.8,284.2L147.1,289.2L147.4,291.3L147.7,288.7L148.0,292.6L148.3,288.7L148.6,282.8L148.9,292.4L149.2,292.8L149.5,291.1L149.8,280.4L150.1,279.1L150.4,287.8L150.7,280.8L151.0,281.6L151.3,282.7L151.6,293.9L151.9,287.1L152.2,288.3L152.5,290.6L152.8,280.0L153.1,293.4L153.4,291.2L153.7,285.1L154.0,287.0L154.3,290.5L154.6,291.4L154.9,281.8L155.2,281.6L155.5,287.7L155.8,280.0L156.1,289.9L156.4,290.9L156.7,286.9L157.0,287.1L157.3,292.8L157.6,291.2L157.9,292.8L158.2,277.3L158.5,284.6L158.8,287.5L159.1,278.1L159.4,282.2L159.7,289.6L160.0,278.6L160.3,293.3L160.6,284.6L160.9,280.2L161.2,286.6L161.5,293.4L161.8,281.6L162.1,284.0L162.4,288.0L162.7,292.7L163.0,292.7L163.3,289.0L163.6,283.0L163.9,278.5L164.2,279.6L164.5,285.0L164.8,286.8L165.1,292.3L165.4,291.6L165.7,279.1L166.0,289.0L166.3,287.2L166.6,283.2L166.9,276.7L167.2,270.1L167.4,265.7L167.8,274.5L168.1,281.0L168.4,285.6L168.7,286.7L169.0,287.0L169.3,293.6L169.6,286.7L169.9,291.3L170.2,291.7L170.5,293.0L170.8,288.5L171.1,281.8L171.4,290.5L171.7,285.9L172.0,286.2L172.3,289.1L172.6,289.4L172.9,281.7L173.2,280.4L173.5,288.2L173.8,283.1L174.1,294.1L174.4,287.5L174.7,290.7L175.0,288.9L175.3,291.9L175.6,292.5L175.9,285.2L176.2,293.0L176.5,291.3L176.8,282.4L177.1,290.8L177.4,291.5L177.7,287.6L178.0,283.9L178.3,292.2L178.6,287.4L178.9,290.3L179.2,289.5L179.5,285.0L179.8,288.4L180.1,280.7L180.4,289.1L180.7,290.5L181.0,287.0L181.3,288.0L181.6,286.5L181.9,293.3L182.2,286.4L182.5,286.7L182.8,286.4L183.1,292.1L183.4,290.4L183.7,285.8L184.0,291.0L184.3,287.9L184.6,282.9L184.9,289.5L185.2,285.1L185.5,291.3L185.8,288.8L186.1,289.0L186.4,286.0L186.7,281.2L187.0,287.3L187.3,282.7L187.6,286.0L187.9,284.2L188.2,293.6L188.5,287.9L188.8,287.3L189.1,292.2L189.4,282.3L189.7,287.1L190.0,284.3L190.3,291.6L190.6,289.3L190.9,282.6L191.2,287.4L191.5,289.7L191.8,285.0L192.1,288.7L192.4,279.1L192.7,283.8L193.0,293.0L193.3,290.4L193.6,289.4L193.9,281.5L194.2,273.6L194.5,265.7L194.7,260.4L195.1,270.9L195.4,278.8L195.7,283.1L196.0,282.3L196.3,282.8L196.6,293.5L196.9,282.7L197.2,293.7L197.5,291.0L197.8,293.7L198.1,288.1L198.4,280.9L198.7,289.9L199.0,280.9L199.3,282.0L199.6,287.4L199.9,290.4L200.2,287.2L200.5,284.5L200.8,286.3L201.1,288.4L201.4,282.7L201.7,278.6L202.0,289.0L202.3,292.3L202.6,292.8L202.9,292.4L203.2,291.7L203.5,291.7L203.8,280.9L204.1,292.2L204.4,280.6L204.7,276.9L205.0,287.9L205.3,287.6L205.6,288.2L205.9,286.5L206.2,279.2L206.5,287.6L206.8,284.4L207.1,285.7L207.4,289.5L207.7,278.8L208.0,288.8L208.3,283.0L208.6,283.8L208.9,292.6L209.2,277.6L209.5,280.1L209.8,287.2L210.1,294.2L210.4,285.3L210.7,285.8L211.0,292.7L211.3,289.2L211.6,284.9L211.9,288.4L212.2,288.4L212.5,288.9L212.8,291.3L213.1,293.5L213.4,287.6L213.7,290.3L214.0,287.3L214.3,284.8L214.6,286.3L214.9,286.2L215.2,285.2L215.5,278.5L215.8,292.6L216.1,289.8L216.4,289.6L216.7,293.4L217.0,283.1L217.3,287.8L217.6,283.9L217.9,287.1L218.2,285.4L218.5,290.8L218.8,287.3L219.1,290.3L219.4,287.5L219.7,293.0L220.0,286.1L220.3,280.6L220.6,292.4L220.9,283.1L221.2,280.5L221.5,277.6L221.8,293.6L222.1,260.8L222.4,213.9L222.7,260.8L223.0,291.6L223.3,284.9L223.6,281.2L223.9,288.7L224.2,284.5L224.5,291.0L224.8,288.6L225.1,284.0L225.4,286.2L225.7,290.7L226.0,291.2L226.3,279.3L226.6,285.6L226.9,288.6L227.2,293.0L227.5,282.0L227.8,290.9L228.1,284.2L228.4,287.7L228.7,281.0L229.0,284.9L229.3,286.8L229.6,283.4L229.9,282.4L230.2,280.9L230.5,290.2L230.8,284.8L231.1,286.2L231.4,293.5L231.7,290.5L232.0,283.9L232.3,292.3L232.6,282.5L232.9,280.7L233.2,289.8L233.5,289.7L233.8,285.2L234.1,281.9L234.4,282.5L234.7,292.3L235.0,291.1L235.3,288.6L235.6,289.1L235.9,291.8L236.2,282.3L236.5,279.6L236.8,287.4L237.1,290.2L237.4,291.1L237.7,287.4L238.0,285.0L238.3,285.2L238.6,293.4L238.9,287.2L239.2,285.8L239.5,291.1L239.8,292.5L240.1,290.8L240.4,285.0L240.7,292.2L241.0,290.9L241.3,277.7L241.6,285.3L241.9,289.8L242.2,293.3L242.5,290.3L242.8,290.8L243.1,277.9L243.4,286.7L243.7,285.9L244.0,280.5L244.3,293.7L244.6,292.5L244.9,290.5L245.2,291.2L245.5,283.3L245.8,278.1L246.1,285.3L246.4,290.2L246.7,286.8L247.0,288.6L247.3,289.9L247.6,284.2L247.9,281.9L248.2,291.9L248.5,292.2L248.8,285.4L249.1,286.6L249.4,282.0L249.7,274.5L250.0,267.0L250.3,274.5L250.6,281.7L250.9,283.6L251.2,291.1L251.5,288.0L251.8,288.2L252.1,286.8L252.4,283.2L252.7,283.6L253.0,281.4L253.3,286.8L253.6,291.7L253.9,280.9L254.2,289.9L254.5,284.0L254.8,290.7L255.1,293.6L255.4,290.0L255.7,279.7L256.0,293.4L256.3,289.2L256.6,284.7L256.9,291.1L257.2,288.7L257.5,285.4L257.8,287.6L258.1,292.1L258.4,287.5L258.7,291.1L259.0,285.6L259.3,283.5L259.6,283.1L259.9,291.3L260.2,288.2L260.5,283.5L260.8,291.9L261.1,287.9L261.4,289.0L261.7,281.3L262.0,283.9L262.3,291.8L262.6,277.6L262.9,286.6L263.2,284.7L263.5,291.0L263.8,290.7L264.1,287.7L264.4,280.3L264.7,287.0L265.0,288.8L265.3,294.8L265.6,289.6L265.9,293.8L266.2,289.6L266.5,285.3L266.8,287.7L267.1,293.6L267.4,290.6L267.7,292.9L268.0,293.9L268.3,281.7L268.6,293.3L268.9,283.9L269.2,281.5L269.5,285.6L269.8,290.2L270.1,290.1L270.4,292.0L270.7,290.6L271.0,291.3L271.3,282.0L271.6,279.3L271.9,283.5L272.2,285.4L272.5,282.3L272.8,291.5L273.1,288.4L273.4,289.4L273.7,290.2L274.0,286.9L274.3,284.3L274.6,284.7L274.9,291.0L275.2,280.0L275.5,286.9L275.8,285.1L276.1,293.0L276.4,292.2L276.7,292.0L277.0,283.6L277.3,287.7L277.6,281.9L277.9,287.5L278.2,295.6L278.5,292.9L278.8,292.9L279.1,277.5L279.4,285.2L279.7,280.0L280.0,282.2L280.3,291.0L280.6,289.1L280.9,293.8L281.2,285.3L281.5,288.3L281.8,292.7L282.1,291.7L282.4,288.9L282.7,287.5L283.0,286.3L283.3,285.7L283.6,283.9L283.9,282.3L284.2,285.1L284.5,283.0L284.8,283.8L285.1,291.0L285.4,284.5L285.7,288.3L286.0,291.5L286.3,287.8L286.6,293.9L286.9,289.4L287.2,285.6L287.5,286.0L287.8,284.9L288.1,282.7L288.4,291.7L288.7,292.0L289.0,291.4L289.3,291.7L289.6,290.0L289.9,286.1L290.2,291.9L290.5,286.5L290.8,288.1L291.1,294.1L291.4,281.2L291.7,292.6L292.0,280.8L292.3,279.0L292.6,286.1L292.9,295.0L293.2,290.1L293.5,285.2L293.8,291.7L294.1,286.3L294.4,293.6L294.7,288.2L295.0,289.7L295.3,279.4L295.6,283.1L295.9,288.1L296.2,292.7L296.5,289.9L296.8,281.9L297.1,286.4L297.4,292.0L297.7,292.0L298.0,282.9L298.3,285.5L298.6,291.7L298.9,282.3L299.2,288.3L299.5,287.7L299.8,290.4L300.1,286.3L300.4,291.3L300.7,294.9L301.0,291.0L301.3,292.8L301.6,290.9L301.9,284.6L302.2,281.8L302.5,282.4L302.8,282.3L303.1,279.1L303.4,283.7L303.7,285.9L304.0,292.0L304.3,285.1L304.6,278.2L304.9,271.3L305.0,269.0L305.2,273.6L305.5,280.5L305.8,287.4L306.1,286.8L306.4,284.8L306.7,291.7L307.0,281.3L307.3,279.5L307.6,291.7L307.9,289.7L308.2,279.3L308.5,283.4L308.8,287.9L309.1,291.3L309.4,285.0L309.7,283.5L310.0,293.4L310.3,289.8L310.6,287.4L310.9,295.3L311.2,294.4L311.5,293.7L311.8,291.6L312.1,279.9L312.4,280.9L312.7,288.9L313.0,288.8L313.3,294.1L313.6,286.9L313.9,286.9L314.2,283.4L314.5,286.2L314.8,294.2L315.1,291.7L315.4,281.2L315.7,288.3L316.0,282.5L316.3,286.9L316.6,295.4L316.9,291.8L317.2,286.7L317.5,289.6L317.8,291.3L318.1,291.9L318.4,286.2L318.7,292.8L319.0,287.5L319.3,293.8L319.6,294.1L319.9,293.3L320.2,291.1L320.5,290.1L320.8,285.7L321.1,283.4L321.4,292.4L321.7,291.8L322.0,281.0L322.3,286.4L322.6,281.5L322.9,286.3L323.2,288.1L323.5,293.0L323.8,284.2L324.1,281.7L324.4,291.4L324.7,289.6L325.0,286.1L325.3,282.7L325.6,287.3L325.9,288.0L326.2,284.8L326.5,290.0L326.8,285.4L327.1,283.4L327.4,284.2L327.7,294.4L328.0,288.9L328.3,282.7L328.6,289.3L328.9,294.4L329.2,295.5L329.5,282.7L329.8,287.8L330.1,286.8L330.4,284.3L330.7,290.7L331.0,283.1L331.3,287.4L331.6,293.3L331.9,292.5L332.2,282.7L332.5,294.9L332.8,280.1L333.1,290.4L333.4,287.6L333.7,286.9L334.0,287.7L334.3,288.9L334.6,290.1L334.9,286.4L335.2,283.6L335.5,284.0L335.8,292.5L336.1,291.6L336.4,289.3L336.7,289.1L337.0,291.4L337.3,282.5L337.6,292.3L337.9,286.4L338.2,288.2L338.5,293.3L338.8,280.6L339.1,293.3L339.4,294.5L339.7,291.6L340.0,293.3L340.3,289.2L340.6,291.4L340.9,282.7L341.2,289.5L341.5,283.0L341.8,293.8L342.1,286.7L342.4,288.7L342.7,280.6L343.0,292.0L343.3,283.4L343.6,284.6L343.9,290.4L344.2,291.4L344.5,288.9L344.8,290.4L345.1,282.0L345.4,282.5L345.7,279.4L346.0,284.9L346.3,281.6L346.6,283.7L346.9,290.6L347.2,290.1L347.5,287.1L347.8,286.8L348.1,293.7L348.4,285.3L348.7,290.1L349.0,286.8L349.3,285.6L349.6,291.5L349.9,294.7L350.2,281.5L350.5,277.7L350.8,293.0L351.1,291.1L351.4,292.9L351.7,292.6L352.0,283.2L352.3,286.4L352.6,291.8L352.9,279.9L353.2,290.5L353.5,289.3L353.8,287.9L354.1,289.6L354.4,288.8L354.7,288.3L355.0,286.2L355.3,280.5L355.6,292.1L355.9,288.5L356.2,291.0L356.5,292.3L356.8,292.9L357.1,291.9L357.4,291.6L357.7,284.7L358.0,287.7L358.3,292.0L358.6,284.9L358.9,277.7L359.2,270.6L359.5,263.4L359.8,270.5L360.1,277.7L360.4,284.8L360.7,292.0L361.0,287.9L361.3,292.0L361.6,289.9L361.9,283.9L362.2,288.2L362.5,289.1L362.8,285.4L363.1,292.6L363.4,294.2L363.7,293.1L364.0,292.2L364.3,291.8L364.6,286.0L364.9,280.0L365.2,293.5L365.5,289.2L365.8,288.7L366.1,282.4L366.4,290.3L366.7,291.6L367.0,285.0L367.3,286.9L367.6,291.4L367.9,285.3L368.2,285.6L368.5,287.2L368.8,283.0L369.1,292.5L369.4,294.6L369.7,289.2L370.0,289.7L370.3,291.8L370.6,287.4L370.9,280.1L371.2,285.8L371.5,284.5L371.8,289.1L372.1,288.4L372.4,288.7L372.7,295.1L373.0,279.1L373.3,295.4L373.6,284.4L373.9,294.5L374.2,287.4L374.5,294.6L374.8,295.3L375.1,285.4L375.4,283.1L375.7,292.4L376.0,290.9L376.3,284.6L376.6,290.8L376.9,293.4L377.2,286.6L377.5,290.5L377.8,287.8L378.1,279.9L378.4,294.1L378.7,290.1L379.0,285.5L379.3,287.9L379.6,280.5L379.9,293.3L380.2,291.5L380.5,293.1L380.8,285.1L381.1,283.0L381.4,285.1L381.7,287.9L382.0,289.8L382.3,294.4L382.6,291.9L382.9,289.1L383.2,288.1L383.5,289.0L383.8,284.7L384.1,286.9L384.4,283.4L384.7,293.0L385.0,291.1L385.3,294.3L385.6,287.9L385.9,288.7L386.2,284.5L386.5,287.8L386.8,260.1L387.0,238.9L387.4,281.4L387.7,284.4L388.0,293.6L388.3,292.2L388.6,283.7L388.9,287.5L389.2,286.8L389.5,296.0L389.8,293.5L390.1,289.8L390.4,288.9L390.7,285.6L391.0,292.3L391.3,281.4L391.6,288.7L391.9,287.2L392.2,280.4L392.5,284.0L392.8,289.7L393.1,287.2L393.4,287.6L393.7,289.8L394.0,286.6L394.3,291.4L394.6,281.4L394.9,289.5L395.2,288.3L395.5,286.4L395.8,281.0L396.1,287.9L396.4,280.2L396.7,285.1L397.0,281.8L397.3,283.4L397.6,291.3L397.9,292.2L398.2,292.4L398.5,288.3L398.8,283.5L399.1,288.2L399.4,288.7L399.7,278.6L400.0,289.9L400.3,282.9L400.6,293.8L400.9,286.1L401.2,285.3L401.5,286.7L401.8,286.6L402.1,284.2L402.4,288.9L402.7,290.9L403.0,290.6L403.3,293.1L403.6,294.6L403.9,287.8L404.2,282.1L404.5,286.2L404.8,294.2L405.1,290.2L405.4,290.1L405.7,290.5L406.0,291.7L406.3,290.7L406.6,281.9L406.9,289.8L407.2,293.5L407.5,283.2L407.8,292.1L408.1,285.5L408.4,295.0L408.7,288.4L409.0,293.2L409.3,289.3L409.6,285.7L409.9,286.6L410.2,286.3L410.5,285.6L410.8,290.4L411.1,295.1L411.4,290.7L411.7,294.7L412.0,282.2L412.3,283.6L412.6,292.6L412.9,283.4L413.2,285.3L413.5,292.0L413.8,281.5L414.1,270.9L414.4,260.4L414.5,256.9L414.7,263.9L415.0,274.4L415.3,283.5L415.6,284.3L415.9,291.2L416.2,292.8L416.5,292.1L416.8,286.0L417.1,290.1L417.4,289.3L417.7,284.0L418.0,287.1L418.3,293.5L418.6,285.8L418.9,281.5L419.2,287.1L419.5,287.0L419.8,286.8L420.1,293.3L420.4,290.6L420.7,279.9L421.0,292.1L421.3,292.9L421.6,291.7L421.9,292.9L422.2,286.5L422.5,291.5L422.8,291.5L423.1,290.8L423.4,294.0L423.7,290.1L424.0,289.0L424.3,295.0L424.6,291.0L424.9,284.1L425.2,290.9L425.5,292.0L425.8,288.3L426.1,291.7L426.4,290.5L426.7,294.8L427.0,287.9L427.3,289.4L427.6,281.2L427.9,290.5L428.2,287.9L428.5,289.8L428.8,291.6L429.1,284.2L429.4,287.1L429.7,281.3L430.0,292.0L430.3,290.1L430.6,294.3L430.9,287.8L431.2,280.5L431.5,291.7L431.8,293.5L432.1,280.4L432.4,290.6L432.7,288.9L433.0,289.7L433.3,295.9L433.6,280.7L433.9,294.3L434.2,290.0L434.5,288.9L434.8,287.9L435.1,286.7L435.4,286.5L435.7,282.4L436.0,282.8L436.3,287.4L436.6,287.0L436.9,290.9L437.2,285.6L437.5,293.3L437.8,290.8L438.1,282.0L438.4,287.0L438.7,294.2L439.0,289.7L439.3,292.5L439.6,288.4L439.9,295.2L440.2,286.2L440.5,280.1L440.8,284.3L441.1,289.9L441.4,289.2L441.7,288.1L442.0,284.1L442.3,286.7L442.6,292.7L442.9,279.2L443.2,285.4L443.5,279.7L443.8,287.8L444.1,293.0L444.4,286.4L444.7,283.2L445.0,292.1L445.3,295.8L445.6,289.8L445.9,290.6L446.2,288.3L446.5,295.0L446.8,292.5L447.1,279.0L447.4,291.2L447.7,291.9L448.0,293.2L448.3,294.0L448.6,291.1L448.9,292.8L449.2,291.6L449.5,292.3L449.8,284.0L450.1,294.3L450.4,289.8L450.7,290.6L451.0,287.8L451.3,289.0L451.6,282.9L451.9,290.1L452.2,288.5L452.5,292.8L452.8,282.0L453.1,292.7L453.4,290.0L453.7,287.5L454.0,291.3L454.3,282.1L454.6,279.8L454.9,292.7L455.2,287.5L455.5,282.8L455.8,278.7L456.1,292.8L456.4,283.7L456.7,280.4L457.0,282.8L457.3,289.3L457.6,288.0L457.9,281.1L458.2,286.8L458.5,286.5L458.8,294.9L459.1,288.3L459.4,283.8L459.7,281.3L460.0,286.2L460.3,286.6L460.6,280.7L460.9,281.6L461.2,279.8L461.5,282.3L461.8,280.7L462.1,280.7L462.4,284.2L462.7,282.2L463.0,281.0L463.3,279.1L463.6,279.1L463.9,283.6L464.2,281.3L464.5,285.9L464.8,278.8L465.1,283.1L465.4,278.8L465.7,282.2L466.0,279.9L466.3,280.5L466.6,284.5L466.9,284.3L467.2,283.3L467.5,277.8L467.8,279.1L468.1,274.3L468.4,273.0L468.7,273.4L469.0,270.3L469.3,267.6L469.6,268.2L469.9,268.4L470.2,270.3L470.5,275.3L470.8,275.7L471.1,277.1L471.4,280.9L471.7,280.6L472.0,280.7L472.3,279.1L472.6,280.9L472.9,283.1L473.2,279.4L473.5,283.0L473.8,279.8L474.1,281.2L474.4,283.5L474.7,278.9L475.0,282.5L475.3,283.5L475.6,287.1L475.9,281.6L476.2,281.6L476.5,282.1L476.8,283.1L477.1,280.3L477.4,280.7L477.7,283.2L478.0,280.9L478.3,279.6L478.6,285.2L478.9,285.2L479.2,280.1L479.5,283.1L479.8,279.2L480.1,281.5L480.4,280.4L480.7,279.5L481.0,282.9L481.3,280.2L481.6,284.2L481.9,279.3L482.2,283.1L482.5,289.6L482.8,279.9L483.1,287.0L483.4,279.1L483.7,284.8L484.0,281.7L484.3,280.5L484.6,279.7L484.9,287.7L485.2,279.0L485.5,281.7L485.8,279.6L486.1,280.7L486.4,283.9L486.7,284.2L487.0,285.4L487.3,291.1L487.6,287.5L487.9,280.5L488.2,280.9L488.5,286.5L488.8,286.3L489.1,280.0L489.4,290.2L489.7,282.0L490.0,287.3L490.3,278.8L490.6,288.4L490.9,280.4L491.2,282.6L491.5,280.5L491.8,283.0L492.1,283.7L492.4,281.2L492.7,281.3L493.0,278.7L493.3,280.4L493.6,283.7L493.9,278.9L494.2,280.0L494.5,279.5L494.8,279.9L495.1,274.5L495.4,275.9L495.7,269.1L496.0,271.2L496.3,265.5L496.6,265.3L496.9,269.3L497.2,267.7L497.5,271.4L497.8,274.4L498.1,280.6L498.4,280.0L498.7,281.8L499.0,285.2L499.3,282.2L499.6,290.9L499.9,279.6L500.2,287.8L500.5,289.5L500.8,295.0L501.1,278.6L501.4,291.7L501.7,287.6L502.0,287.2L502.3,288.9L502.6,289.2L502.9,294.0L503.2,295.0L503.5,292.2L503.8,287.7L504.1,290.7L504.4,287.0L504.7,290.8L505.0,294.8L505.3,281.7L505.6,283.7L505.9,289.4L506.2,292.8L506.5,293.3L506.8,292.1L507.1,282.8L507.4,294.5L507.7,277.9L508.0,291.4L508.3,284.6L508.6,292.1L508.9,286.7L509.2,290.6L509.5,292.6L509.8,282.0L510.1,279.5L510.4,284.6L510.7,281.9L511.0,291.5L511.3,280.4L511.6,291.0L511.9,288.9L512.2,292.8L512.5,285.0L512.8,293.0L513.1,293.5L513.4,290.4L513.7,284.1L514.0,295.1L514.3,282.4L514.6,290.8L514.9,286.8L515.2,288.1L515.5,288.5L515.8,293.9L516.1,289.1L516.4,294.2L516.7,287.2L517.0,289.5L517.3,287.6L517.6,291.7L517.9,294.3L518.2,286.4L518.5,289.2L518.8,284.3L519.1,282.9L519.4,292.6L519.7,293.7L520.0,292.6L520.3,292.7L520.6,289.2L520.9,282.2L521.2,293.7L521.5,288.9L521.8,293.9L522.1,293.3L522.4,291.8L522.7,293.0L523.0,281.8L523.3,292.2L523.6,292.1L523.9,282.9L524.2,289.4L524.5,289.9L524.8,290.9L525.1,283.1L525.4,282.2L525.7,291.3L526.0,287.7L526.3,291.9L526.6,290.2L526.9,293.4L527.2,287.1L527.5,282.4L527.8,294.7L528.1,285.7L528.4,295.5L528.7,283.8L529.0,285.0L529.3,285.5L529.6,277.8L529.9,294.1L530.2,284.6L530.5,286.1L530.8,293.1L531.1,293.5L531.4,284.1L531.7,282.2L532.0,290.2L532.3,292.2L532.6,286.3L532.9,289.0L533.2,292.1L533.5,290.4L533.8,289.4L534.1,292.4L534.4,292.1L534.7,290.6L535.0,289.9L535.3,280.8L535.6,295.3L535.9,287.6L536.2,287.5L536.5,281.5L536.8,294.0L537.1,286.6L537.4,289.9L537.7,289.8L538.0,280.0L538.3,293.7L538.6,281.3L538.9,296.2L539.2,291.1L539.5,281.3L539.8,295.5L540.1,288.2L540.4,283.1L540.7,295.8L541.0,286.7L541.3,289.2L541.6,291.2L541.9,284.6L542.2,290.0L542.5,286.6L542.8,285.7L543.1,292.9L543.4,295.4L543.7,284.1L544.0,285.9L544.3,293.5L544.6,287.8L544.9,288.7L545.2,296.1L545.5,282.1L545.8,280.0L546.1,283.7L546.4,287.3L546.7,282.7L547.0,291.8L547.3,294.8L547.6,295.6L547.9,287.0L548.2,288.6L548.5,288.0L548.8,287.2L549.1,283.6L549.4,283.5L549.7,293.5L550.0,288.6L550.3,284.9L550.6,282.5L550.9,290.2L551.2,266.6L551.5,228.4L551.8,266.6L552.1,288.8L552.4,289.8L552.7,290.8L553.0,284.7L553.3,294.2L553.6,286.3L553.9,284.6L554.2,289.3L554.5,288.8L554.8,284.6L555.1,282.1L555.4,293.8L555.7,287.7L556.0,286.2L556.3,288.0L556.6,287.7L556.9,289.4L557.2,282.9L557.5,285.1L557.8,280.1L558.1,281.0L558.4,293.3L558.7,285.3L559.0,291.5L559.3,284.6L559.6,284.7L559.9,292.5L560.2,287.9L560.5,290.1L560.8,288.3L561.1,287.6L561.4,286.5L561.7,287.2L562.0,281.0L562.3,289.0L562.6,292.3L562.9,292.9L563.2,286.1L563.5,295.2L563.8,290.6L564.1,284.2L564.4,282.9L564.7,288.8L565.0,284.2L565.3,279.5L565.6,281.1L565.9,285.4L566.2,283.9L566.5,287.2L566.8,285.4L567.1,295.1L567.4,286.7L567.7,293.4L568.0,288.2L568.3,290.0L568.6,289.0L568.9,292.9L569.2,293.7L569.5,288.4L569.8,281.2L570.1,289.8L570.4,284.2L570.7,290.3L571.0,280.7L571.3,289.2L571.6,287.1L571.9,293.8L572.2,280.1L572.5,283.7L572.8,291.6L573.1,291.7L573.4,288.1L573.7,286.6L574.0,285.4L574.3,282.4L574.6,284.1L574.9,285.7L575.2,281.3L575.5,276.4L575.8,278.1L576.1,278.1L576.4,277.1L576.7,272.3L577.0,273.4L577.3,273.9L577.6,275.2L577.9,269.8L578.2,266.9L578.5,266.6L578.8,266.5L579.1,266.0L579.4,268.6L579.7,274.9L580.0,269.1L580.3,270.9L580.6,270.8L580.9,274.6L581.2,273.8L581.5,278.7L581.8,277.8L582.1,277.6L582.4,277.9L582.7,281.8L583.0,280.1L583.3,283.7L583.6,285.9L583.9,284.7L584.2,290.1L584.5,286.6L584.8,289.4L585.1,289.7L585.4,289.3L585.7,289.5L586.0,291.4L586.3,288.2L586.6,293.0L586.9,286.9L587.2,283.9L587.5,293.8L587.8,292.4L588.1,293.5L588.4,291.3L588.7,290.5L589.0,284.1L589.3,288.0L589.6,279.1L589.9,287.6L590.2,286.8L590.5,285.4L590.8,282.8L591.1,291.3L591.4,280.8L591.7,289.3L592.0,287.7L592.3,291.8L592.6,286.0L592.9,289.2L593.2,282.0L593.5,292.0L593.8,294.0L594.1,283.7L594.4,293.4L594.7,290.9L595.0,291.6L595.3,295.7L595.6,289.1L595.9,292.9L596.2,278.6L596.5,286.7L596.8,282.3L597.1,284.0L597.4,284.4L597.7,278.6L598.0,289.6L598.3,287.6L598.6,288.5L598.9,287.5L599.2,284.5L599.5,287.7L599.8,281.5L600.1,287.7L600.4,284.7L600.7,285.1L601.0,283.5L601.3,284.9L601.6,282.3L601.9,280.9L602.2,283.6L602.5,279.3L602.8,283.4L603.1,279.2L603.4,280.4L603.7,278.7L604.0,280.3L604.3,276.0L604.6,274.5L604.9,272.7L605.2,273.7L605.5,276.5L605.8,274.0L606.1,273.2L606.4,273.3L606.7,277.4L607.0,278.3L607.3,284.6L607.6,281.2L607.9,285.6L608.2,289.6L608.5,293.2L608.8,288.4L609.1,287.9L609.4,286.7L609.7,283.3L610.0,287.5L610.3,292.3L610.6,292.9L610.9,286.2L611.2,291.6L611.5,286.2L611.8,286.2L612.1,285.6L612.4,296.2L612.7,291.0L613.0,289.4L613.3,292.7L613.6,282.8L613.9,292.9L614.2,295.1L614.5,289.3L614.8,282.7L615.1,288.4L615.4,291.1L615.7,287.4L616.0,285.3L616.3,289.8L616.6,294.7L616.9,295.5L617.2,285.6L617.5,292.8L617.8,289.0L618.1,288.7L618.4,284.1L618.7,285.2L619.0,293.7L619.3,295.1L619.6,288.3L619.9,286.8L620.2,295.5L620.5,281.9L620.8,291.8L621.1,286.2L621.4,282.6L621.7,290.6L622.0,281.4L622.3,282.6L622.6,289.7L622.9,285.3L623.2,284.7L623.5,285.0L623.8,292.9L624.1,296.6L624.4,285.1L624.7,295.4L625.0,289.5L625.3,287.5L625.6,289.9L625.9,292.9L626.2,291.3L626.5,287.5L626.8,286.2L627.1,285.5L627.4,292.2L627.7,287.5L628.0,293.2L628.3,290.4L628.6,288.4L628.9,292.8L629.2,287.7L629.5,289.8L629.8,293.2L630.1,290.8L630.4,285.3L630.7,289.2L631.0,279.9L631.3,293.0L631.6,287.5L631.9,288.6L632.2,294.3L632.5,291.2L632.8,290.2L633.1,281.3L633.4,270.6L633.5,267.0L633.7,274.1L634.0,284.5L634.3,282.9L634.6,290.4L634.9,294.1L635.2,287.9L635.5,287.4L635.8,286.1L636.1,294.4L636.4,293.7L636.7,290.7L637.0,292.3L637.3,291.5L637.6,289.6L637.9,283.4L638.2,288.9L638.5,282.4L638.8,295.3L639.1,288.9L639.4,296.0L639.7,287.0L640.0,293.9L640.3,287.3L640.6,287.4L640.9,289.3L641.2,279.2L641.5,285.0L641.8,281.3L642.1,288.3L642.4,284.1L642.7,286.4L643.0,283.0L643.3,280.7L643.6,287.9L643.9,287.2L644.2,283.8L644.5,283.8L644.8,292.7L645.1,289.9L645.4,295.5L645.7,286.5L646.0,296.3L646.3,281.4L646.6,290.2L646.9,293.0L647.2,294.1L647.5,296.2L647.8,285.7L648.1,287.6L648.4,282.3L648.7,289.1L649.0,293.6L649.3,282.8L649.6,290.0L649.9,290.6L650.2,285.5L650.5,280.9L650.8,292.7L651.1,286.4L651.4,278.0L651.7,289.7L652.0,295.7L652.3,282.2L652.6,287.9L652.9,284.8L653.2,294.3L653.5,292.4L653.8,288.4L654.1,286.6L654.4,294.5L654.7,291.1L655.0,288.9L655.3,292.1L655.6,290.7L655.9,292.5L656.2,292.7L656.5,290.0L656.8,290.3L657.1,286.0L657.4,292.4L657.7,294.5L658.0,288.6L658.3,285.0L658.6,289.1L658.9,289.7L659.2,281.1L659.5,289.2L659.8,292.5L660.1,290.7L660.4,291.8L660.7,291.7L661.0,282.6L661.3,291.2L661.6,286.5L661.9,295.1L662.2,287.3L662.5,286.8L662.8,287.6L663.1,292.9L663.4,290.5L663.7,292.4L664.0,284.2L664.3,290.2L664.6,286.9L664.9,283.1L665.2,287.4L665.5,291.8L665.8,291.2L666.1,290.6L666.4,295.6L666.7,293.0L667.0,281.8L667.3,287.9L667.6,296.0L667.9,282.6L668.2,292.7L668.5,293.7L668.8,293.5L669.1,286.4L669.4,294.9L669.7,289.3L670.0,294.9L670.3,290.6L670.6,288.2L670.9,284.2L671.2,286.9L671.5,283.7L671.8,290.6L672.1,281.0L672.4,291.4L672.7,296.8L673.0,285.0L673.3,296.8L673.6,289.2L673.9,291.2L674.2,285.2L674.5,289.0L674.8,290.9L675.1,288.3" fill="none" stroke="#36ea3a" stroke-width="0.70" stroke-linejoin="round"/>
<line x1="57.8" y1="303.80" x2="675.4" y2="303.80" stroke="#90c0ac" stroke-width="1.1"/>
<path d="M58.3,402.3 L58.3,360.8L58.7,363.5L59.1,364.4L59.5,364.7L59.9,366.3L60.3,367.8L60.7,370.0L61.1,371.7L61.5,370.4L61.9,371.6L62.3,370.4L62.7,371.3L63.1,372.6L63.5,371.8L63.9,371.5L64.3,372.4L64.7,373.7L65.1,372.7L65.5,372.6L65.9,372.1L66.3,372.2L66.7,374.0L67.1,373.5L67.5,372.3L67.9,374.9L68.3,372.1L68.7,373.9L69.1,373.5L69.5,371.4L69.9,373.1L70.3,373.3L70.7,372.7L71.1,373.1L71.5,373.7L71.9,372.7L72.3,370.6L72.7,372.0L73.1,372.5L73.5,372.7L73.9,372.1L74.3,372.3L74.7,373.9L75.1,372.4L75.5,372.9L75.9,371.1L76.3,373.2L76.7,371.6L77.1,374.3L77.5,372.6L77.9,373.8L78.3,373.9L78.7,372.1L79.1,374.0L79.5,373.0L79.9,373.4L80.3,372.1L80.7,371.9L81.1,373.6L81.5,370.4L81.9,370.4L82.3,367.3L82.7,366.4L83.1,364.2L83.5,362.1L83.9,358.0L84.3,353.7L84.7,347.5L85.1,339.9L85.2,338.9L85.5,342.2L85.9,349.8L86.3,355.4L86.7,359.6L87.1,362.8L87.5,365.6L87.9,367.3L88.3,368.9L88.7,369.5L89.1,370.0L89.5,372.1L89.9,371.2L90.3,373.7L90.7,372.1L91.1,374.0L91.5,373.5L91.9,372.3L92.3,373.7L92.7,372.4L93.1,374.5L93.5,373.7L93.9,372.4L94.3,371.4L94.7,374.2L95.1,371.3L95.5,372.7L95.9,370.6L96.3,373.3L96.7,373.5L97.1,372.6L97.5,374.1L97.9,372.9L98.3,373.1L98.7,371.6L99.1,372.6L99.5,374.3L99.9,374.4L100.3,374.0L100.7,375.2L101.1,375.3L101.5,370.7L101.9,373.9L102.3,371.6L102.7,373.8L103.1,373.4L103.5,374.8L103.9,371.6L104.3,373.4L104.7,371.2L105.1,373.7L105.5,371.6L105.9,371.4L106.3,374.6L106.7,372.5L107.1,374.0L107.5,374.1L107.9,372.7L108.3,371.9L108.7,371.2L109.1,372.6L109.5,370.9L109.9,370.8L110.3,370.3L110.7,369.5L111.1,366.9L111.5,362.8L111.9,359.7L112.3,352.9L112.7,347.7L113.1,354.1L113.5,360.1L113.9,364.1L114.3,366.3L114.7,369.2L115.1,369.2L115.5,372.0L115.9,370.5L116.3,370.9L116.7,373.2L117.1,371.8L117.5,374.0L117.9,374.4L118.3,374.5L118.7,374.2L119.1,374.2L119.5,373.1L119.9,371.1L120.3,373.3L120.7,373.9L121.1,372.3L121.5,373.3L121.9,372.9L122.3,372.6L122.7,372.5L123.1,373.8L123.5,373.3L123.9,372.0L124.3,373.4L124.7,373.3L125.1,372.7L125.5,372.6L125.9,373.4L126.3,372.4L126.7,373.0L127.1,374.5L127.5,372.3L127.9,374.0L128.3,369.7L128.7,372.7L129.1,373.3L129.5,372.1L129.9,371.4L130.3,371.4L130.7,372.7L131.1,371.8L131.5,372.2L131.9,372.9L132.3,374.7L132.7,373.0L133.1,375.8L133.5,374.0L133.9,371.5L134.3,372.8L134.7,373.0L135.1,373.8L135.5,373.7L135.9,373.3L136.3,373.8L136.7,374.1L137.1,370.6L137.5,369.3L137.9,369.9L138.3,367.4L138.7,365.7L139.1,361.7L139.5,356.5L139.9,348.9L140.1,346.9L140.3,349.0L140.7,356.3L141.1,361.4L141.5,365.3L141.9,367.8L142.3,369.5L142.7,370.6L143.1,370.4L143.5,370.8L143.9,374.5L144.3,371.4L144.7,373.0L145.1,371.1L145.5,372.4L145.9,371.9L146.3,373.6L146.7,374.5L147.1,372.7L147.5,372.0L147.9,372.2L148.3,372.2L148.7,372.8L149.1,372.2L149.5,373.9L149.9,373.2L150.3,374.7L150.7,373.1L151.1,373.4L151.5,372.9L151.9,371.9L152.3,372.9L152.7,376.2L153.1,371.5L153.5,372.8L153.9,372.1L154.3,373.9L154.7,372.1L155.1,371.3L155.5,374.8L155.9,371.6L156.3,374.0L156.7,373.8L157.1,373.0L157.5,370.7L157.9,375.0L158.3,373.7L158.7,372.9L159.1,372.2L159.5,373.1L159.9,372.5L160.3,374.1L160.7,372.1L161.1,371.7L161.5,374.1L161.9,373.7L162.3,372.3L162.7,372.2L163.1,371.8L163.5,373.1L163.9,371.7L164.3,371.0L164.7,368.6L165.1,368.0L165.5,366.1L165.9,363.5L166.3,359.9L166.7,355.1L167.1,348.6L167.5,341.8L167.9,347.2L168.3,354.1L168.7,359.1L169.1,362.4L169.5,365.5L169.9,368.3L170.3,370.1L170.7,371.0L171.1,371.1L171.5,372.1L171.9,372.7L172.3,370.5L172.7,375.1L173.1,373.8L173.5,370.1L173.9,372.4L174.3,373.5L174.7,374.1L175.1,371.9L175.5,372.0L175.9,371.9L176.3,374.3L176.7,372.7L177.1,373.1L177.5,372.3L177.9,374.6L178.3,372.1L178.7,371.1L179.1,374.3L179.5,371.8L179.9,370.9L180.3,371.8L180.7,372.8L181.1,372.6L181.5,373.4L181.9,372.5L182.3,373.9L182.7,372.7L183.1,373.7L183.5,374.4L183.9,371.1L184.3,374.8L184.7,370.8L185.1,375.2L185.5,371.7L185.9,372.5L186.3,374.5L186.7,373.3L187.1,373.9L187.5,373.8L187.9,371.7L188.3,374.0L188.7,374.8L189.1,371.4L189.5,372.2L189.9,372.6L190.3,372.9L190.7,371.7L191.1,371.9L191.5,372.2L191.9,372.3L192.3,370.3L192.7,369.3L193.1,368.9L193.5,365.7L193.9,364.4L194.3,359.9L194.7,352.8L195.0,349.7L195.1,350.7L195.5,357.9L195.9,363.1L196.3,367.3L196.7,369.1L197.1,370.9L197.5,372.8L197.9,370.5L198.3,372.3L198.7,373.1L199.1,372.0L199.5,373.8L199.9,371.5L200.3,371.0L200.7,374.2L201.1,371.3L201.5,372.4L201.9,371.3L202.3,372.4L202.7,373.5L203.1,374.4L203.5,373.8L203.9,373.1L204.3,371.4L204.7,371.9L205.1,372.2L205.5,370.9L205.9,374.6L206.3,373.9L206.7,373.8L207.1,372.5L207.5,374.4L207.9,373.2L208.3,371.0L208.7,371.4L209.1,370.8L209.5,373.2L209.9,373.7L210.3,372.2L210.7,373.6L211.1,372.6L211.5,372.7L211.9,371.9L212.3,370.9L212.7,371.0L213.1,371.5L213.5,372.7L213.9,371.8L214.3,372.9L214.7,373.5L215.1,374.2L215.5,373.1L215.9,371.9L216.3,371.7L216.7,372.5L217.1,371.9L217.5,373.1L217.9,370.6L218.3,372.3L218.7,372.8L219.1,371.7L219.5,372.4L219.9,371.7L220.3,370.2L220.7,371.8L221.1,370.2L221.5,367.7L221.9,354.2L222.4,312.5L222.4,312.5L222.7,339.4L223.1,365.1L223.5,368.7L223.9,370.4L224.3,371.0L224.7,371.9L225.1,372.9L225.5,371.6L225.9,372.7L226.3,372.5L226.7,373.2L227.1,372.8L227.5,372.0L227.9,371.7L228.3,372.6L228.7,372.5L229.1,372.8L229.5,371.6L229.9,373.1L230.3,372.9L230.7,372.5L231.1,373.1L231.5,372.3L231.9,370.8L232.3,372.6L232.7,371.0L233.1,371.6L233.5,372.4L233.9,371.9L234.3,371.0L234.7,373.6L235.1,371.9L235.5,371.3L235.9,373.5L236.3,371.2L236.7,371.9L237.1,373.6L237.5,372.2L237.9,374.3L238.3,374.0L238.7,374.4L239.1,372.4L239.5,373.1L239.9,373.6L240.3,373.3L240.7,372.8L241.1,373.1L241.5,373.3L241.9,372.6L242.3,373.8L242.7,373.4L243.1,371.5L243.5,372.4L243.9,374.8L244.3,371.0L244.7,373.7L245.1,370.9L245.5,372.5L245.9,371.4L246.3,374.0L246.7,372.6L247.1,371.9L247.5,370.9L247.9,369.7L248.3,367.7L248.7,364.6L249.1,360.2L249.5,353.4L249.8,348.8L250.3,356.0L250.7,361.9L251.1,366.0L251.5,368.2L251.9,369.3L252.3,372.0L252.7,371.9L253.1,371.2L253.5,371.3L253.9,373.2L254.3,371.8L254.7,372.5L255.1,372.8L255.5,373.5L255.9,372.7L256.3,372.2L256.7,373.7L257.1,372.5L257.5,374.3L257.9,374.3L258.3,372.4L258.7,373.3L259.1,373.9L259.5,372.6L259.9,372.2L260.3,373.0L260.7,371.4L261.1,373.8L261.5,373.8L261.9,372.0L262.3,374.2L262.7,372.3L263.1,374.8L263.5,374.2L263.9,373.3L264.3,373.5L264.7,371.4L265.1,374.1L265.5,373.1L265.9,372.9L266.3,373.2L266.7,371.9L267.1,373.7L267.5,373.7L267.9,374.2L268.3,372.2L268.7,372.8L269.1,372.8L269.5,372.9L269.9,374.3L270.3,372.6L270.7,372.8L271.1,371.6L271.5,372.6L271.9,373.9L272.3,373.3L272.7,370.9L273.1,373.7L273.5,373.4L273.9,371.4L274.3,369.7L274.7,369.6L275.1,368.6L275.5,364.9L275.9,363.0L276.3,358.7L276.7,352.9L277.1,345.4L277.3,343.9L277.5,346.6L277.9,354.2L278.3,359.5L278.7,363.1L279.1,365.7L279.5,368.6L279.9,369.6L280.3,371.4L280.7,372.3L281.1,373.2L281.5,372.0L281.9,372.7L282.3,371.9L282.7,375.7L283.1,374.2L283.5,372.9L283.9,371.4L284.3,374.1L284.7,375.2L285.1,373.9L285.5,373.4L285.9,372.4L286.3,372.1L286.7,372.5L287.1,373.4L287.5,371.0L287.9,374.1L288.3,373.3L288.7,372.7L289.1,373.9L289.5,373.6L289.9,372.6L290.3,374.3L290.7,373.5L291.1,373.5L291.5,370.9L291.9,372.5L292.3,374.1L292.7,372.5L293.1,374.5L293.5,372.9L293.9,375.1L294.3,372.6L294.7,373.5L295.1,374.8L295.5,372.9L295.9,372.4L296.3,372.9L296.7,373.2L297.1,374.8L297.5,372.5L297.9,375.7L298.3,374.0L298.7,371.2L299.1,374.8L299.5,375.1L299.9,374.0L300.3,372.5L300.7,372.7L301.1,371.2L301.5,371.4L301.9,371.1L302.3,368.4L302.7,367.2L303.1,364.2L303.5,360.7L303.9,356.2L304.3,349.4L304.7,343.4L305.1,349.5L305.5,356.2L305.9,361.2L306.3,364.1L306.7,366.6L307.1,368.8L307.5,370.1L307.9,371.7L308.3,373.3L308.7,373.4L309.1,373.5L309.5,373.2L309.9,373.8L310.3,373.4L310.7,375.2L311.1,374.6L311.5,373.7L311.9,372.9L312.3,375.7L312.7,373.6L313.1,373.2L313.5,374.0L313.9,373.9L314.3,374.4L314.7,374.1L315.1,374.4L315.5,375.7L315.9,372.6L316.3,373.7L316.7,374.7L317.1,372.7L317.5,374.4L317.9,373.5L318.3,376.0L318.7,374.8L319.1,373.0L319.5,372.6L319.9,372.2L320.3,372.7L320.7,372.3L321.1,375.0L321.5,375.8L321.9,376.9L322.3,374.2L322.7,374.6L323.1,372.7L323.5,374.6L323.9,372.6L324.3,376.1L324.7,372.5L325.1,374.5L325.5,373.0L325.9,373.4L326.3,375.4L326.7,373.5L327.1,375.1L327.5,373.5L327.9,373.7L328.3,373.8L328.7,374.2L329.1,374.0L329.5,373.3L329.9,374.5L330.3,370.9L330.7,369.8L331.1,366.9L331.5,362.5L331.9,355.3L332.1,352.8L332.3,354.1L332.7,361.6L333.1,366.0L333.5,369.9L333.9,371.2L334.3,372.8L334.7,374.3L335.1,375.9L335.5,373.6L335.9,376.3L336.3,375.2L336.7,373.4L337.1,373.4L337.5,374.6L337.9,376.7L338.3,375.1L338.7,374.9L339.1,375.9L339.5,373.6L339.9,374.8L340.3,374.8L340.7,375.2L341.1,376.6L341.5,376.2L341.9,376.3L342.3,373.9L342.7,375.2L343.1,374.7L343.5,374.8L343.9,374.8L344.3,373.4L344.7,374.4L345.1,375.0L345.5,375.2L345.9,373.7L346.3,377.3L346.7,373.9L347.1,376.0L347.5,374.9L347.9,375.7L348.3,375.4L348.7,375.7L349.1,379.5L349.5,376.8L349.9,376.4L350.3,377.0L350.7,377.7L351.1,375.0L351.5,376.8L351.9,375.5L352.3,374.3L352.7,376.8L353.1,375.8L353.5,374.3L353.9,375.7L354.3,375.6L354.7,376.8L355.1,373.1L355.5,373.6L355.9,373.1L356.3,370.3L356.7,369.0L357.1,366.5L357.5,363.9L357.9,360.5L358.3,356.6L358.7,351.8L359.1,345.1L359.6,337.7L359.9,342.4L360.3,349.8L360.7,355.1L361.1,359.4L361.5,362.8L361.9,366.0L362.3,368.5L362.7,370.5L363.1,371.7L363.5,372.6L363.9,374.7L364.3,374.3L364.7,375.6L365.1,375.1L365.5,376.9L365.9,375.9L366.3,376.4L366.7,376.2L367.1,373.6L367.5,376.1L367.9,374.8L368.3,375.2L368.7,378.1L369.1,376.0L369.5,375.3L369.9,378.2L370.3,377.4L370.7,372.7L371.1,376.4L371.5,377.0L371.9,376.5L372.3,377.5L372.7,376.4L373.1,376.3L373.5,376.9L373.9,375.0L374.3,374.7L374.7,375.5L375.1,377.5L375.5,377.2L375.9,378.2L376.3,376.3L376.7,377.2L377.1,377.3L377.5,377.5L377.9,376.5L378.3,376.6L378.7,378.1L379.1,375.1L379.5,376.6L379.9,378.3L380.3,375.9L380.7,377.8L381.1,374.9L381.5,375.4L381.9,376.3L382.3,374.3L382.7,377.9L383.1,376.5L383.5,377.1L383.9,377.6L384.3,377.6L384.7,374.8L385.1,375.3L385.5,374.3L385.9,371.5L386.3,366.2L386.7,358.0L387.0,338.8L387.0,338.8L387.5,363.5L387.9,369.6L388.3,372.8L388.7,374.6L389.1,376.1L389.5,376.6L389.9,375.3L390.3,377.2L390.7,377.2L391.1,380.3L391.5,376.5L391.9,375.9L392.3,378.1L392.7,376.8L393.1,378.5L393.5,377.0L393.9,377.0L394.3,379.9L394.7,376.2L395.1,376.0L395.5,377.6L395.9,378.7L396.3,377.5L396.7,377.7L397.1,376.5L397.5,377.6L397.9,377.7L398.3,376.4L398.7,376.8L399.1,377.5L399.5,378.3L399.9,378.4L400.3,378.4L400.7,378.5L401.1,378.0L401.5,376.3L401.9,378.0L402.3,377.9L402.7,379.9L403.1,376.6L403.5,378.1L403.9,377.0L404.3,377.2L404.7,378.5L405.1,377.2L405.5,379.4L405.9,378.6L406.3,376.2L406.7,378.9L407.1,377.4L407.5,377.8L407.9,378.7L408.3,376.2L408.7,377.9L409.1,376.8L409.5,375.3L409.9,378.6L410.3,376.8L410.7,375.2L411.1,375.1L411.5,372.9L411.9,371.6L412.3,369.6L412.7,366.7L413.1,363.4L413.5,358.9L413.9,352.6L414.3,345.0L414.4,344.0L414.7,347.3L415.1,354.9L415.5,360.6L415.9,364.9L416.3,367.5L416.7,370.5L417.1,372.3L417.5,375.0L417.9,374.4L418.3,377.7L418.7,377.2L419.1,378.1L419.5,376.8L419.9,379.3L420.3,378.7L420.7,378.7L421.1,378.5L421.5,378.4L421.9,377.6L422.3,377.4L422.7,378.8L423.1,378.6L423.5,378.3L423.9,378.1L424.3,378.6L424.7,377.9L425.1,378.2L425.5,377.7L425.9,379.3L426.3,378.4L426.7,379.2L427.1,380.6L427.5,379.4L427.9,378.5L428.3,379.2L428.7,379.8L429.1,377.9L429.5,377.4L429.9,378.0L430.3,378.0L430.7,380.2L431.1,378.2L431.5,377.0L431.9,377.3L432.3,378.7L432.7,377.5L433.1,379.1L433.5,379.2L433.9,378.3L434.3,378.4L434.7,379.6L435.1,379.1L435.5,377.7L435.9,379.5L436.3,378.7L436.7,378.6L437.1,377.8L437.5,378.9L437.9,378.5L438.3,377.4L438.7,378.9L439.1,378.7L439.5,378.7L439.9,376.1L440.3,375.6L440.7,373.3L441.1,369.7L441.5,363.2L441.9,358.1L442.3,364.4L442.7,370.2L443.1,373.5L443.5,374.6L443.9,377.8L444.3,377.9L444.7,378.9L445.1,379.0L445.5,378.8L445.9,378.1L446.3,379.1L446.7,379.0L447.1,378.6L447.5,379.2L447.9,379.8L448.3,379.4L448.7,379.2L449.1,381.1L449.5,378.6L449.9,379.2L450.3,378.6L450.7,379.2L451.1,380.7L451.5,380.1L451.9,379.4L452.3,380.7L452.7,378.1L453.1,380.7L453.5,377.6L453.9,379.1L454.3,378.8L454.7,380.7L455.1,379.7L455.5,379.8L455.9,377.9L456.3,377.2L456.7,377.4L457.1,382.0L457.5,379.3L457.9,380.7L458.3,379.4L458.7,379.8L459.1,381.1L459.5,380.6L459.9,378.6L460.3,379.5L460.7,380.0L461.1,379.2L461.5,380.5L461.9,378.7L462.3,379.7L462.7,378.2L463.1,381.4L463.5,378.9L463.9,379.7L464.3,380.6L464.7,380.1L465.1,378.8L465.5,378.0L465.9,378.6L466.3,377.8L466.7,377.0L467.1,375.7L467.5,372.6L467.9,370.8L468.3,367.0L468.7,361.9L469.1,354.3L469.3,352.3L469.5,354.3L469.9,361.8L470.3,367.0L470.7,370.9L471.1,373.7L471.5,376.0L471.9,377.1L472.3,377.0L472.7,378.7L473.1,378.6L473.5,378.1L473.9,377.8L474.3,380.3L474.7,379.6L475.1,380.6L475.5,379.2L475.9,379.4L476.3,379.2L476.7,380.7L477.1,379.9L477.5,381.2L477.9,378.8L478.3,380.0L478.7,380.1L479.1,379.1L479.5,378.7L479.9,380.0L480.3,379.4L480.7,379.2L481.1,379.8L481.5,380.5L481.9,380.2L482.3,378.7L482.7,379.3L483.1,380.7L483.5,380.0L483.9,378.8L484.3,379.5L484.7,380.3L485.1,380.7L485.5,379.3L485.9,377.8L486.3,379.7L486.7,380.4L487.1,380.4L487.5,378.5L487.9,381.6L488.3,380.1L488.7,379.6L489.1,380.2L489.5,377.4L489.9,379.3L490.3,379.4L490.7,378.4L491.1,379.5L491.5,381.2L491.9,379.1L492.3,379.7L492.7,379.5L493.1,377.4L493.5,378.7L493.9,377.2L494.3,376.1L494.7,374.3L495.1,371.4L495.5,369.3L495.9,364.7L496.3,358.2L496.7,351.6L497.1,356.9L497.5,363.8L497.9,368.2L498.3,372.2L498.7,373.3L499.1,374.7L499.5,377.0L499.9,377.6L500.3,378.0L500.7,379.2L501.1,378.8L501.5,381.4L501.9,381.1L502.3,380.4L502.7,380.2L503.1,379.0L503.5,379.3L503.9,378.7L504.3,379.5L504.7,379.5L505.1,379.1L505.5,380.4L505.9,380.5L506.3,380.2L506.7,381.0L507.1,380.1L507.5,379.8L507.9,380.6L508.3,380.5L508.7,380.2L509.1,378.4L509.5,378.2L509.9,380.4L510.3,378.4L510.7,379.6L511.1,380.6L511.5,379.8L511.9,380.3L512.3,380.4L512.7,381.0L513.1,379.4L513.5,381.2L513.9,380.3L514.3,379.1L514.7,377.8L515.1,379.8L515.5,379.5L515.9,378.9L516.3,379.8L516.7,378.3L517.1,382.0L517.5,379.3L517.9,380.5L518.3,379.5L518.7,378.3L519.1,379.6L519.5,380.0L519.9,379.4L520.3,379.9L520.7,379.2L521.1,379.5L521.5,379.4L521.9,379.3L522.3,376.9L522.7,376.1L523.1,374.1L523.5,369.7L523.9,362.8L524.2,359.7L524.3,360.6L524.7,367.4L525.1,371.2L525.5,375.1L525.9,375.9L526.3,379.2L526.7,379.2L527.1,378.9L527.5,378.9L527.9,381.0L528.3,378.5L528.7,379.0L529.1,379.3L529.5,379.2L529.9,380.2L530.3,378.7L530.7,379.5L531.1,380.1L531.5,379.1L531.9,380.8L532.3,380.1L532.7,380.1L533.1,379.5L533.5,380.1L533.9,379.5L534.3,381.1L534.7,380.9L535.1,379.2L535.5,379.7L535.9,380.5L536.3,379.4L536.7,379.3L537.1,378.6L537.5,379.2L537.9,380.4L538.3,379.6L538.7,378.6L539.1,379.0L539.5,380.3L539.9,378.4L540.3,380.4L540.7,379.8L541.1,381.5L541.5,379.6L541.9,379.3L542.3,379.9L542.7,379.7L543.1,380.4L543.5,379.1L543.9,380.2L544.3,379.1L544.7,379.2L545.1,379.5L545.5,379.3L545.9,379.3L546.3,379.7L546.7,381.1L547.1,377.9L547.5,377.2L547.9,379.1L548.3,379.9L548.7,378.6L549.1,379.5L549.5,377.0L549.9,375.0L550.3,373.6L550.7,370.1L551.1,363.1L551.6,330.1L551.6,330.1L551.9,354.1L552.3,367.5L552.7,372.3L553.1,374.8L553.5,376.1L553.9,377.4L554.3,379.2L554.7,378.6L555.1,378.6L555.5,379.6L555.9,378.6L556.3,380.1L556.7,378.8L557.1,378.2L557.5,379.0L557.9,380.3L558.3,378.9L558.7,378.5L559.1,378.6L559.5,380.3L559.9,379.4L560.3,379.3L560.7,376.2L561.1,378.6L561.5,379.6L561.9,378.1L562.3,379.6L562.7,379.3L563.1,377.6L563.5,378.0L563.9,379.0L564.3,380.1L564.7,382.4L565.1,379.2L565.5,380.3L565.9,378.2L566.3,378.1L566.7,380.7L567.1,380.7L567.5,379.8L567.9,379.2L568.3,378.4L568.7,380.7L569.1,381.6L569.5,379.7L569.9,380.0L570.3,379.6L570.7,378.0L571.1,380.0L571.5,378.4L571.9,379.7L572.3,379.0L572.7,378.5L573.1,379.6L573.5,381.1L573.9,380.4L574.3,379.5L574.7,380.8L575.1,380.4L575.5,379.3L575.9,379.3L576.3,377.1L576.7,376.3L577.1,376.7L577.5,373.1L577.9,370.5L578.3,365.8L578.7,358.9L579.0,354.3L579.5,361.5L579.9,367.7L580.3,371.4L580.7,373.8L581.1,375.4L581.5,377.5L581.9,376.2L582.3,378.6L582.7,377.1L583.1,379.0L583.5,377.5L583.9,377.6L584.3,380.2L584.7,379.5L585.1,379.6L585.5,378.6L585.9,380.3L586.3,380.6L586.7,376.2L587.1,378.6L587.5,378.1L587.9,379.2L588.3,379.0L588.7,378.5L589.1,379.0L589.5,379.6L589.9,379.7L590.3,377.8L590.7,380.1L591.1,378.6L591.5,379.3L591.9,379.6L592.3,378.5L592.7,379.8L593.1,381.7L593.5,378.4L593.9,379.2L594.3,379.0L594.7,378.2L595.1,379.5L595.5,378.0L595.9,379.7L596.3,377.0L596.7,380.8L597.1,379.5L597.5,379.8L597.9,380.9L598.3,380.6L598.7,379.5L599.1,381.4L599.5,379.6L599.9,378.7L600.3,380.8L600.7,380.4L601.1,381.1L601.5,380.0L601.9,379.6L602.3,380.1L602.7,379.7L603.1,378.4L603.5,377.6L603.9,377.9L604.3,376.1L604.7,374.2L605.1,371.7L605.5,367.5L605.9,361.8L606.3,354.4L606.5,352.9L606.7,355.5L607.1,362.9L607.5,368.3L607.9,371.9L608.3,373.8L608.7,376.3L609.1,376.4L609.5,376.8L609.9,378.8L610.3,379.0L610.7,379.3L611.1,378.1L611.5,378.7L611.9,380.8L612.3,381.2L612.7,380.4L613.1,380.2L613.5,380.9L613.9,378.9L614.3,379.7L614.7,378.8L615.1,378.8L615.5,380.8L615.9,377.6L616.3,378.1L616.7,380.1L617.1,380.8L617.5,380.8L617.9,379.3L618.3,380.5L618.7,379.6L619.1,378.0L619.5,380.0L619.9,380.3L620.3,379.5L620.7,379.6L621.1,381.0L621.5,381.9L621.9,380.2L622.3,380.4L622.7,380.5L623.1,380.0L623.5,379.5L623.9,380.9L624.3,379.2L624.7,380.9L625.1,380.2L625.5,379.8L625.9,379.2L626.3,378.7L626.7,379.5L627.1,380.1L627.5,379.6L627.9,379.6L628.3,380.7L628.7,379.9L629.1,380.1L629.5,379.4L629.9,381.1L630.3,380.4L630.7,380.3L631.1,377.1L631.5,376.8L631.9,374.8L632.3,373.1L632.7,369.2L633.1,364.7L633.5,358.0L633.9,352.1L634.3,358.1L634.7,364.7L635.1,369.2L635.5,372.6L635.9,375.0L636.3,376.5L636.7,377.6L637.1,379.2L637.5,379.5L637.9,377.7L638.3,380.3L638.7,380.4L639.1,379.6L639.5,381.1L639.9,380.6L640.3,381.8L640.7,380.3L641.1,381.3L641.5,382.5L641.9,379.9L642.3,379.5L642.7,380.5L643.1,378.3L643.5,382.2L643.9,382.0L644.3,380.2L644.7,379.3L645.1,380.5L645.5,380.8L645.9,381.5L646.3,378.3L646.7,381.0L647.1,379.7L647.5,380.1L647.9,381.9L648.3,379.5L648.7,381.1L649.1,379.9L649.5,379.8L649.9,380.6L650.3,378.5L650.7,378.9L651.1,380.5L651.5,379.5L651.9,379.0L652.3,378.4L652.7,380.8L653.1,378.2L653.5,381.4L653.9,381.8L654.3,379.7L654.7,381.5L655.1,378.6L655.5,382.5L655.9,380.4L656.3,379.7L656.7,382.2L657.1,379.1L657.5,381.7L657.9,379.6L658.3,379.4L658.7,378.9L659.1,377.6L659.5,376.5L659.9,375.5L660.3,372.4L660.7,367.4L661.1,360.3L661.3,357.5L661.5,359.1L661.9,366.0L662.3,371.4L662.7,375.2L663.1,377.7L663.5,377.6L663.9,382.1L664.3,380.7L664.7,378.6L665.1,381.2L665.5,380.6L665.9,381.6L666.3,381.1L666.7,382.7L667.1,381.8L667.5,380.7L667.9,382.1L668.3,382.1L668.7,380.9L669.1,381.2L669.5,382.2L669.9,383.4L670.3,383.8L670.7,382.4L671.1,382.7L671.5,380.9L671.9,379.4L672.3,381.2L672.7,383.6L673.1,383.5L673.5,385.0L673.9,383.0L674.3,383.1L674.7,382.4L675.1,384.6 L675.1,402.3 Z" fill="#c4cbfb" stroke="none"/>
<path d="M58.3,360.8L58.7,363.5L59.1,364.4L59.5,364.7L59.9,366.3L60.3,367.8L60.7,370.0L61.1,371.7L61.5,370.4L61.9,371.6L62.3,370.4L62.7,371.3L63.1,372.6L63.5,371.8L63.9,371.5L64.3,372.4L64.7,373.7L65.1,372.7L65.5,372.6L65.9,372.1L66.3,372.2L66.7,374.0L67.1,373.5L67.5,372.3L67.9,374.9L68.3,372.1L68.7,373.9L69.1,373.5L69.5,371.4L69.9,373.1L70.3,373.3L70.7,372.7L71.1,373.1L71.5,373.7L71.9,372.7L72.3,370.6L72.7,372.0L73.1,372.5L73.5,372.7L73.9,372.1L74.3,372.3L74.7,373.9L75.1,372.4L75.5,372.9L75.9,371.1L76.3,373.2L76.7,371.6L77.1,374.3L77.5,372.6L77.9,373.8L78.3,373.9L78.7,372.1L79.1,374.0L79.5,373.0L79.9,373.4L80.3,372.1L80.7,371.9L81.1,373.6L81.5,370.4L81.9,370.4L82.3,367.3L82.7,366.4L83.1,364.2L83.5,362.1L83.9,358.0L84.3,353.7L84.7,347.5L85.1,339.9L85.2,338.9L85.5,342.2L85.9,349.8L86.3,355.4L86.7,359.6L87.1,362.8L87.5,365.6L87.9,367.3L88.3,368.9L88.7,369.5L89.1,370.0L89.5,372.1L89.9,371.2L90.3,373.7L90.7,372.1L91.1,374.0L91.5,373.5L91.9,372.3L92.3,373.7L92.7,372.4L93.1,374.5L93.5,373.7L93.9,372.4L94.3,371.4L94.7,374.2L95.1,371.3L95.5,372.7L95.9,370.6L96.3,373.3L96.7,373.5L97.1,372.6L97.5,374.1L97.9,372.9L98.3,373.1L98.7,371.6L99.1,372.6L99.5,374.3L99.9,374.4L100.3,374.0L100.7,375.2L101.1,375.3L101.5,370.7L101.9,373.9L102.3,371.6L102.7,373.8L103.1,373.4L103.5,374.8L103.9,371.6L104.3,373.4L104.7,371.2L105.1,373.7L105.5,371.6L105.9,371.4L106.3,374.6L106.7,372.5L107.1,374.0L107.5,374.1L107.9,372.7L108.3,371.9L108.7,371.2L109.1,372.6L109.5,370.9L109.9,370.8L110.3,370.3L110.7,369.5L111.1,366.9L111.5,362.8L111.9,359.7L112.3,352.9L112.7,347.7L113.1,354.1L113.5,360.1L113.9,364.1L114.3,366.3L114.7,369.2L115.1,369.2L115.5,372.0L115.9,370.5L116.3,370.9L116.7,373.2L117.1,371.8L117.5,374.0L117.9,374.4L118.3,374.5L118.7,374.2L119.1,374.2L119.5,373.1L119.9,371.1L120.3,373.3L120.7,373.9L121.1,372.3L121.5,373.3L121.9,372.9L122.3,372.6L122.7,372.5L123.1,373.8L123.5,373.3L123.9,372.0L124.3,373.4L124.7,373.3L125.1,372.7L125.5,372.6L125.9,373.4L126.3,372.4L126.7,373.0L127.1,374.5L127.5,372.3L127.9,374.0L128.3,369.7L128.7,372.7L129.1,373.3L129.5,372.1L129.9,371.4L130.3,371.4L130.7,372.7L131.1,371.8L131.5,372.2L131.9,372.9L132.3,374.7L132.7,373.0L133.1,375.8L133.5,374.0L133.9,371.5L134.3,372.8L134.7,373.0L135.1,373.8L135.5,373.7L135.9,373.3L136.3,373.8L136.7,374.1L137.1,370.6L137.5,369.3L137.9,369.9L138.3,367.4L138.7,365.7L139.1,361.7L139.5,356.5L139.9,348.9L140.1,346.9L140.3,349.0L140.7,356.3L141.1,361.4L141.5,365.3L141.9,367.8L142.3,369.5L142.7,370.6L143.1,370.4L143.5,370.8L143.9,374.5L144.3,371.4L144.7,373.0L145.1,371.1L145.5,372.4L145.9,371.9L146.3,373.6L146.7,374.5L147.1,372.7L147.5,372.0L147.9,372.2L148.3,372.2L148.7,372.8L149.1,372.2L149.5,373.9L149.9,373.2L150.3,374.7L150.7,373.1L151.1,373.4L151.5,372.9L151.9,371.9L152.3,372.9L152.7,376.2L153.1,371.5L153.5,372.8L153.9,372.1L154.3,373.9L154.7,372.1L155.1,371.3L155.5,374.8L155.9,371.6L156.3,374.0L156.7,373.8L157.1,373.0L157.5,370.7L157.9,375.0L158.3,373.7L158.7,372.9L159.1,372.2L159.5,373.1L159.9,372.5L160.3,374.1L160.7,372.1L161.1,371.7L161.5,374.1L161.9,373.7L162.3,372.3L162.7,372.2L163.1,371.8L163.5,373.1L163.9,371.7L164.3,371.0L164.7,368.6L165.1,368.0L165.5,366.1L165.9,363.5L166.3,359.9L166.7,355.1L167.1,348.6L167.5,341.8L167.9,347.2L168.3,354.1L168.7,359.1L169.1,362.4L169.5,365.5L169.9,368.3L170.3,370.1L170.7,371.0L171.1,371.1L171.5,372.1L171.9,372.7L172.3,370.5L172.7,375.1L173.1,373.8L173.5,370.1L173.9,372.4L174.3,373.5L174.7,374.1L175.1,371.9L175.5,372.0L175.9,371.9L176.3,374.3L176.7,372.7L177.1,373.1L177.5,372.3L177.9,374.6L178.3,372.1L178.7,371.1L179.1,374.3L179.5,371.8L179.9,370.9L180.3,371.8L180.7,372.8L181.1,372.6L181.5,373.4L181.9,372.5L182.3,373.9L182.7,372.7L183.1,373.7L183.5,374.4L183.9,371.1L184.3,374.8L184.7,370.8L185.1,375.2L185.5,371.7L185.9,372.5L186.3,374.5L186.7,373.3L187.1,373.9L187.5,373.8L187.9,371.7L188.3,374.0L188.7,374.8L189.1,371.4L189.5,372.2L189.9,372.6L190.3,372.9L190.7,371.7L191.1,371.9L191.5,372.2L191.9,372.3L192.3,370.3L192.7,369.3L193.1,368.9L193.5,365.7L193.9,364.4L194.3,359.9L194.7,352.8L195.0,349.7L195.1,350.7L195.5,357.9L195.9,363.1L196.3,367.3L196.7,369.1L197.1,370.9L197.5,372.8L197.9,370.5L198.3,372.3L198.7,373.1L199.1,372.0L199.5,373.8L199.9,371.5L200.3,371.0L200.7,374.2L201.1,371.3L201.5,372.4L201.9,371.3L202.3,372.4L202.7,373.5L203.1,374.4L203.5,373.8L203.9,373.1L204.3,371.4L204.7,371.9L205.1,372.2L205.5,370.9L205.9,374.6L206.3,373.9L206.7,373.8L207.1,372.5L207.5,374.4L207.9,373.2L208.3,371.0L208.7,371.4L209.1,370.8L209.5,373.2L209.9,373.7L210.3,372.2L210.7,373.6L211.1,372.6L211.5,372.7L211.9,371.9L212.3,370.9L212.7,371.0L213.1,371.5L213.5,372.7L213.9,371.8L214.3,372.9L214.7,373.5L215.1,374.2L215.5,373.1L215.9,371.9L216.3,371.7L216.7,372.5L217.1,371.9L217.5,373.1L217.9,370.6L218.3,372.3L218.7,372.8L219.1,371.7L219.5,372.4L219.9,371.7L220.3,370.2L220.7,371.8L221.1,370.2L221.5,367.7L221.9,354.2L222.4,312.5L222.4,312.5L222.7,339.4L223.1,365.1L223.5,368.7L223.9,370.4L224.3,371.0L224.7,371.9L225.1,372.9L225.5,371.6L225.9,372.7L226.3,372.5L226.7,373.2L227.1,372.8L227.5,372.0L227.9,371.7L228.3,372.6L228.7,372.5L229.1,372.8L229.5,371.6L229.9,373.1L230.3,372.9L230.7,372.5L231.1,373.1L231.5,372.3L231.9,370.8L232.3,372.6L232.7,371.0L233.1,371.6L233.5,372.4L233.9,371.9L234.3,371.0L234.7,373.6L235.1,371.9L235.5,371.3L235.9,373.5L236.3,371.2L236.7,371.9L237.1,373.6L237.5,372.2L237.9,374.3L238.3,374.0L238.7,374.4L239.1,372.4L239.5,373.1L239.9,373.6L240.3,373.3L240.7,372.8L241.1,373.1L241.5,373.3L241.9,372.6L242.3,373.8L242.7,373.4L243.1,371.5L243.5,372.4L243.9,374.8L244.3,371.0L244.7,373.7L245.1,370.9L245.5,372.5L245.9,371.4L246.3,374.0L246.7,372.6L247.1,371.9L247.5,370.9L247.9,369.7L248.3,367.7L248.7,364.6L249.1,360.2L249.5,353.4L249.8,348.8L250.3,356.0L250.7,361.9L251.1,366.0L251.5,368.2L251.9,369.3L252.3,372.0L252.7,371.9L253.1,371.2L253.5,371.3L253.9,373.2L254.3,371.8L254.7,372.5L255.1,372.8L255.5,373.5L255.9,372.7L256.3,372.2L256.7,373.7L257.1,372.5L257.5,374.3L257.9,374.3L258.3,372.4L258.7,373.3L259.1,373.9L259.5,372.6L259.9,372.2L260.3,373.0L260.7,371.4L261.1,373.8L261.5,373.8L261.9,372.0L262.3,374.2L262.7,372.3L263.1,374.8L263.5,374.2L263.9,373.3L264.3,373.5L264.7,371.4L265.1,374.1L265.5,373.1L265.9,372.9L266.3,373.2L266.7,371.9L267.1,373.7L267.5,373.7L267.9,374.2L268.3,372.2L268.7,372.8L269.1,372.8L269.5,372.9L269.9,374.3L270.3,372.6L270.7,372.8L271.1,371.6L271.5,372.6L271.9,373.9L272.3,373.3L272.7,370.9L273.1,373.7L273.5,373.4L273.9,371.4L274.3,369.7L274.7,369.6L275.1,368.6L275.5,364.9L275.9,363.0L276.3,358.7L276.7,352.9L277.1,345.4L277.3,343.9L277.5,346.6L277.9,354.2L278.3,359.5L278.7,363.1L279.1,365.7L279.5,368.6L279.9,369.6L280.3,371.4L280.7,372.3L281.1,373.2L281.5,372.0L281.9,372.7L282.3,371.9L282.7,375.7L283.1,374.2L283.5,372.9L283.9,371.4L284.3,374.1L284.7,375.2L285.1,373.9L285.5,373.4L285.9,372.4L286.3,372.1L286.7,372.5L287.1,373.4L287.5,371.0L287.9,374.1L288.3,373.3L288.7,372.7L289.1,373.9L289.5,373.6L289.9,372.6L290.3,374.3L290.7,373.5L291.1,373.5L291.5,370.9L291.9,372.5L292.3,374.1L292.7,372.5L293.1,374.5L293.5,372.9L293.9,375.1L294.3,372.6L294.7,373.5L295.1,374.8L295.5,372.9L295.9,372.4L296.3,372.9L296.7,373.2L297.1,374.8L297.5,372.5L297.9,375.7L298.3,374.0L298.7,371.2L299.1,374.8L299.5,375.1L299.9,374.0L300.3,372.5L300.7,372.7L301.1,371.2L301.5,371.4L301.9,371.1L302.3,368.4L302.7,367.2L303.1,364.2L303.5,360.7L303.9,356.2L304.3,349.4L304.7,343.4L305.1,349.5L305.5,356.2L305.9,361.2L306.3,364.1L306.7,366.6L307.1,368.8L307.5,370.1L307.9,371.7L308.3,373.3L308.7,373.4L309.1,373.5L309.5,373.2L309.9,373.8L310.3,373.4L310.7,375.2L311.1,374.6L311.5,373.7L311.9,372.9L312.3,375.7L312.7,373.6L313.1,373.2L313.5,374.0L313.9,373.9L314.3,374.4L314.7,374.1L315.1,374.4L315.5,375.7L315.9,372.6L316.3,373.7L316.7,374.7L317.1,372.7L317.5,374.4L317.9,373.5L318.3,376.0L318.7,374.8L319.1,373.0L319.5,372.6L319.9,372.2L320.3,372.7L320.7,372.3L321.1,375.0L321.5,375.8L321.9,376.9L322.3,374.2L322.7,374.6L323.1,372.7L323.5,374.6L323.9,372.6L324.3,376.1L324.7,372.5L325.1,374.5L325.5,373.0L325.9,373.4L326.3,375.4L326.7,373.5L327.1,375.1L327.5,373.5L327.9,373.7L328.3,373.8L328.7,374.2L329.1,374.0L329.5,373.3L329.9,374.5L330.3,370.9L330.7,369.8L331.1,366.9L331.5,362.5L331.9,355.3L332.1,352.8L332.3,354.1L332.7,361.6L333.1,366.0L333.5,369.9L333.9,371.2L334.3,372.8L334.7,374.3L335.1,375.9L335.5,373.6L335.9,376.3L336.3,375.2L336.7,373.4L337.1,373.4L337.5,374.6L337.9,376.7L338.3,375.1L338.7,374.9L339.1,375.9L339.5,373.6L339.9,374.8L340.3,374.8L340.7,375.2L341.1,376.6L341.5,376.2L341.9,376.3L342.3,373.9L342.7,375.2L343.1,374.7L343.5,374.8L343.9,374.8L344.3,373.4L344.7,374.4L345.1,375.0L345.5,375.2L345.9,373.7L346.3,377.3L346.7,373.9L347.1,376.0L347.5,374.9L347.9,375.7L348.3,375.4L348.7,375.7L349.1,379.5L349.5,376.8L349.9,376.4L350.3,377.0L350.7,377.7L351.1,375.0L351.5,376.8L351.9,375.5L352.3,374.3L352.7,376.8L353.1,375.8L353.5,374.3L353.9,375.7L354.3,375.6L354.7,376.8L355.1,373.1L355.5,373.6L355.9,373.1L356.3,370.3L356.7,369.0L357.1,366.5L357.5,363.9L357.9,360.5L358.3,356.6L358.7,351.8L359.1,345.1L359.6,337.7L359.9,342.4L360.3,349.8L360.7,355.1L361.1,359.4L361.5,362.8L361.9,366.0L362.3,368.5L362.7,370.5L363.1,371.7L363.5,372.6L363.9,374.7L364.3,374.3L364.7,375.6L365.1,375.1L365.5,376.9L365.9,375.9L366.3,376.4L366.7,376.2L367.1,373.6L367.5,376.1L367.9,374.8L368.3,375.2L368.7,378.1L369.1,376.0L369.5,375.3L369.9,378.2L370.3,377.4L370.7,372.7L371.1,376.4L371.5,377.0L371.9,376.5L372.3,377.5L372.7,376.4L373.1,376.3L373.5,376.9L373.9,375.0L374.3,374.7L374.7,375.5L375.1,377.5L375.5,377.2L375.9,378.2L376.3,376.3L376.7,377.2L377.1,377.3L377.5,377.5L377.9,376.5L378.3,376.6L378.7,378.1L379.1,375.1L379.5,376.6L379.9,378.3L380.3,375.9L380.7,377.8L381.1,374.9L381.5,375.4L381.9,376.3L382.3,374.3L382.7,377.9L383.1,376.5L383.5,377.1L383.9,377.6L384.3,377.6L384.7,374.8L385.1,375.3L385.5,374.3L385.9,371.5L386.3,366.2L386.7,358.0L387.0,338.8L387.0,338.8L387.5,363.5L387.9,369.6L388.3,372.8L388.7,374.6L389.1,376.1L389.5,376.6L389.9,375.3L390.3,377.2L390.7,377.2L391.1,380.3L391.5,376.5L391.9,375.9L392.3,378.1L392.7,376.8L393.1,378.5L393.5,377.0L393.9,377.0L394.3,379.9L394.7,376.2L395.1,376.0L395.5,377.6L395.9,378.7L396.3,377.5L396.7,377.7L397.1,376.5L397.5,377.6L397.9,377.7L398.3,376.4L398.7,376.8L399.1,377.5L399.5,378.3L399.9,378.4L400.3,378.4L400.7,378.5L401.1,378.0L401.5,376.3L401.9,378.0L402.3,377.9L402.7,379.9L403.1,376.6L403.5,378.1L403.9,377.0L404.3,377.2L404.7,378.5L405.1,377.2L405.5,379.4L405.9,378.6L406.3,376.2L406.7,378.9L407.1,377.4L407.5,377.8L407.9,378.7L408.3,376.2L408.7,377.9L409.1,376.8L409.5,375.3L409.9,378.6L410.3,376.8L410.7,375.2L411.1,375.1L411.5,372.9L411.9,371.6L412.3,369.6L412.7,366.7L413.1,363.4L413.5,358.9L413.9,352.6L414.3,345.0L414.4,344.0L414.7,347.3L415.1,354.9L415.5,360.6L415.9,364.9L416.3,367.5L416.7,370.5L417.1,372.3L417.5,375.0L417.9,374.4L418.3,377.7L418.7,377.2L419.1,378.1L419.5,376.8L419.9,379.3L420.3,378.7L420.7,378.7L421.1,378.5L421.5,378.4L421.9,377.6L422.3,377.4L422.7,378.8L423.1,378.6L423.5,378.3L423.9,378.1L424.3,378.6L424.7,377.9L425.1,378.2L425.5,377.7L425.9,379.3L426.3,378.4L426.7,379.2L427.1,380.6L427.5,379.4L427.9,378.5L428.3,379.2L428.7,379.8L429.1,377.9L429.5,377.4L429.9,378.0L430.3,378.0L430.7,380.2L431.1,378.2L431.5,377.0L431.9,377.3L432.3,378.7L432.7,377.5L433.1,379.1L433.5,379.2L433.9,378.3L434.3,378.4L434.7,379.6L435.1,379.1L435.5,377.7L435.9,379.5L436.3,378.7L436.7,378.6L437.1,377.8L437.5,378.9L437.9,378.5L438.3,377.4L438.7,378.9L439.1,378.7L439.5,378.7L439.9,376.1L440.3,375.6L440.7,373.3L441.1,369.7L441.5,363.2L441.9,358.1L442.3,364.4L442.7,370.2L443.1,373.5L443.5,374.6L443.9,377.8L444.3,377.9L444.7,378.9L445.1,379.0L445.5,378.8L445.9,378.1L446.3,379.1L446.7,379.0L447.1,378.6L447.5,379.2L447.9,379.8L448.3,379.4L448.7,379.2L449.1,381.1L449.5,378.6L449.9,379.2L450.3,378.6L450.7,379.2L451.1,380.7L451.5,380.1L451.9,379.4L452.3,380.7L452.7,378.1L453.1,380.7L453.5,377.6L453.9,379.1L454.3,378.8L454.7,380.7L455.1,379.7L455.5,379.8L455.9,377.9L456.3,377.2L456.7,377.4L457.1,382.0L457.5,379.3L457.9,380.7L458.3,379.4L458.7,379.8L459.1,381.1L459.5,380.6L459.9,378.6L460.3,379.5L460.7,380.0L461.1,379.2L461.5,380.5L461.9,378.7L462.3,379.7L462.7,378.2L463.1,381.4L463.5,378.9L463.9,379.7L464.3,380.6L464.7,380.1L465.1,378.8L465.5,378.0L465.9,378.6L466.3,377.8L466.7,377.0L467.1,375.7L467.5,372.6L467.9,370.8L468.3,367.0L468.7,361.9L469.1,354.3L469.3,352.3L469.5,354.3L469.9,361.8L470.3,367.0L470.7,370.9L471.1,373.7L471.5,376.0L471.9,377.1L472.3,377.0L472.7,378.7L473.1,378.6L473.5,378.1L473.9,377.8L474.3,380.3L474.7,379.6L475.1,380.6L475.5,379.2L475.9,379.4L476.3,379.2L476.7,380.7L477.1,379.9L477.5,381.2L477.9,378.8L478.3,380.0L478.7,380.1L479.1,379.1L479.5,378.7L479.9,380.0L480.3,379.4L480.7,379.2L481.1,379.8L481.5,380.5L481.9,380.2L482.3,378.7L482.7,379.3L483.1,380.7L483.5,380.0L483.9,378.8L484.3,379.5L484.7,380.3L485.1,380.7L485.5,379.3L485.9,377.8L486.3,379.7L486.7,380.4L487.1,380.4L487.5,378.5L487.9,381.6L488.3,380.1L488.7,379.6L489.1,380.2L489.5,377.4L489.9,379.3L490.3,379.4L490.7,378.4L491.1,379.5L491.5,381.2L491.9,379.1L492.3,379.7L492.7,379.5L493.1,377.4L493.5,378.7L493.9,377.2L494.3,376.1L494.7,374.3L495.1,371.4L495.5,369.3L495.9,364.7L496.3,358.2L496.7,351.6L497.1,356.9L497.5,363.8L497.9,368.2L498.3,372.2L498.7,373.3L499.1,374.7L499.5,377.0L499.9,377.6L500.3,378.0L500.7,379.2L501.1,378.8L501.5,381.4L501.9,381.1L502.3,380.4L502.7,380.2L503.1,379.0L503.5,379.3L503.9,378.7L504.3,379.5L504.7,379.5L505.1,379.1L505.5,380.4L505.9,380.5L506.3,380.2L506.7,381.0L507.1,380.1L507.5,379.8L507.9,380.6L508.3,380.5L508.7,380.2L509.1,378.4L509.5,378.2L509.9,380.4L510.3,378.4L510.7,379.6L511.1,380.6L511.5,379.8L511.9,380.3L512.3,380.4L512.7,381.0L513.1,379.4L513.5,381.2L513.9,380.3L514.3,379.1L514.7,377.8L515.1,379.8L515.5,379.5L515.9,378.9L516.3,379.8L516.7,378.3L517.1,382.0L517.5,379.3L517.9,380.5L518.3,379.5L518.7,378.3L519.1,379.6L519.5,380.0L519.9,379.4L520.3,379.9L520.7,379.2L521.1,379.5L521.5,379.4L521.9,379.3L522.3,376.9L522.7,376.1L523.1,374.1L523.5,369.7L523.9,362.8L524.2,359.7L524.3,360.6L524.7,367.4L525.1,371.2L525.5,375.1L525.9,375.9L526.3,379.2L526.7,379.2L527.1,378.9L527.5,378.9L527.9,381.0L528.3,378.5L528.7,379.0L529.1,379.3L529.5,379.2L529.9,380.2L530.3,378.7L530.7,379.5L531.1,380.1L531.5,379.1L531.9,380.8L532.3,380.1L532.7,380.1L533.1,379.5L533.5,380.1L533.9,379.5L534.3,381.1L534.7,380.9L535.1,379.2L535.5,379.7L535.9,380.5L536.3,379.4L536.7,379.3L537.1,378.6L537.5,379.2L537.9,380.4L538.3,379.6L538.7,378.6L539.1,379.0L539.5,380.3L539.9,378.4L540.3,380.4L540.7,379.8L541.1,381.5L541.5,379.6L541.9,379.3L542.3,379.9L542.7,379.7L543.1,380.4L543.5,379.1L543.9,380.2L544.3,379.1L544.7,379.2L545.1,379.5L545.5,379.3L545.9,379.3L546.3,379.7L546.7,381.1L547.1,377.9L547.5,377.2L547.9,379.1L548.3,379.9L548.7,378.6L549.1,379.5L549.5,377.0L549.9,375.0L550.3,373.6L550.7,370.1L551.1,363.1L551.6,330.1L551.6,330.1L551.9,354.1L552.3,367.5L552.7,372.3L553.1,374.8L553.5,376.1L553.9,377.4L554.3,379.2L554.7,378.6L555.1,378.6L555.5,379.6L555.9,378.6L556.3,380.1L556.7,378.8L557.1,378.2L557.5,379.0L557.9,380.3L558.3,378.9L558.7,378.5L559.1,378.6L559.5,380.3L559.9,379.4L560.3,379.3L560.7,376.2L561.1,378.6L561.5,379.6L561.9,378.1L562.3,379.6L562.7,379.3L563.1,377.6L563.5,378.0L563.9,379.0L564.3,380.1L564.7,382.4L565.1,379.2L565.5,380.3L565.9,378.2L566.3,378.1L566.7,380.7L567.1,380.7L567.5,379.8L567.9,379.2L568.3,378.4L568.7,380.7L569.1,381.6L569.5,379.7L569.9,380.0L570.3,379.6L570.7,378.0L571.1,380.0L571.5,378.4L571.9,379.7L572.3,379.0L572.7,378.5L573.1,379.6L573.5,381.1L573.9,380.4L574.3,379.5L574.7,380.8L575.1,380.4L575.5,379.3L575.9,379.3L576.3,377.1L576.7,376.3L577.1,376.7L577.5,373.1L577.9,370.5L578.3,365.8L578.7,358.9L579.0,354.3L579.5,361.5L579.9,367.7L580.3,371.4L580.7,373.8L581.1,375.4L581.5,377.5L581.9,376.2L582.3,378.6L582.7,377.1L583.1,379.0L583.5,377.5L583.9,377.6L584.3,380.2L584.7,379.5L585.1,379.6L585.5,378.6L585.9,380.3L586.3,380.6L586.7,376.2L587.1,378.6L587.5,378.1L587.9,379.2L588.3,379.0L588.7,378.5L589.1,379.0L589.5,379.6L589.9,379.7L590.3,377.8L590.7,380.1L591.1,378.6L591.5,379.3L591.9,379.6L592.3,378.5L592.7,379.8L593.1,381.7L593.5,378.4L593.9,379.2L594.3,379.0L594.7,378.2L595.1,379.5L595.5,378.0L595.9,379.7L596.3,377.0L596.7,380.8L597.1,379.5L597.5,379.8L597.9,380.9L598.3,380.6L598.7,379.5L599.1,381.4L599.5,379.6L599.9,378.7L600.3,380.8L600.7,380.4L601.1,381.1L601.5,380.0L601.9,379.6L602.3,380.1L602.7,379.7L603.1,378.4L603.5,377.6L603.9,377.9L604.3,376.1L604.7,374.2L605.1,371.7L605.5,367.5L605.9,361.8L606.3,354.4L606.5,352.9L606.7,355.5L607.1,362.9L607.5,368.3L607.9,371.9L608.3,373.8L608.7,376.3L609.1,376.4L609.5,376.8L609.9,378.8L610.3,379.0L610.7,379.3L611.1,378.1L611.5,378.7L611.9,380.8L612.3,381.2L612.7,380.4L613.1,380.2L613.5,380.9L613.9,378.9L614.3,379.7L614.7,378.8L615.1,378.8L615.5,380.8L615.9,377.6L616.3,378.1L616.7,380.1L617.1,380.8L617.5,380.8L617.9,379.3L618.3,380.5L618.7,379.6L619.1,378.0L619.5,380.0L619.9,380.3L620.3,379.5L620.7,379.6L621.1,381.0L621.5,381.9L621.9,380.2L622.3,380.4L622.7,380.5L623.1,380.0L623.5,379.5L623.9,380.9L624.3,379.2L624.7,380.9L625.1,380.2L625.5,379.8L625.9,379.2L626.3,378.7L626.7,379.5L627.1,380.1L627.5,379.6L627.9,379.6L628.3,380.7L628.7,379.9L629.1,380.1L629.5,379.4L629.9,381.1L630.3,380.4L630.7,380.3L631.1,377.1L631.5,376.8L631.9,374.8L632.3,373.1L632.7,369.2L633.1,364.7L633.5,358.0L633.9,352.1L634.3,358.1L634.7,364.7L635.1,369.2L635.5,372.6L635.9,375.0L636.3,376.5L636.7,377.6L637.1,379.2L637.5,379.5L637.9,377.7L638.3,380.3L638.7,380.4L639.1,379.6L639.5,381.1L639.9,380.6L640.3,381.8L640.7,380.3L641.1,381.3L641.5,382.5L641.9,379.9L642.3,379.5L642.7,380.5L643.1,378.3L643.5,382.2L643.9,382.0L644.3,380.2L644.7,379.3L645.1,380.5L645.5,380.8L645.9,381.5L646.3,378.3L646.7,381.0L647.1,379.7L647.5,380.1L647.9,381.9L648.3,379.5L648.7,381.1L649.1,379.9L649.5,379.8L649.9,380.6L650.3,378.5L650.7,378.9L651.1,380.5L651.5,379.5L651.9,379.0L652.3,378.4L652.7,380.8L653.1,378.2L653.5,381.4L653.9,381.8L654.3,379.7L654.7,381.5L655.1,378.6L655.5,382.5L655.9,380.4L656.3,379.7L656.7,382.2L657.1,379.1L657.5,381.7L657.9,379.6L658.3,379.4L658.7,378.9L659.1,377.6L659.5,376.5L659.9,375.5L660.3,372.4L660.7,367.4L661.1,360.3L661.3,357.5L661.5,359.1L661.9,366.0L662.3,371.4L662.7,375.2L663.1,377.7L663.5,377.6L663.9,382.1L664.3,380.7L664.7,378.6L665.1,381.2L665.5,380.6L665.9,381.6L666.3,381.1L666.7,382.7L667.1,381.8L667.5,380.7L667.9,382.1L668.3,382.1L668.7,380.9L669.1,381.2L669.5,382.2L669.9,383.4L670.3,383.8L670.7,382.4L671.1,382.7L671.5,380.9L671.9,379.4L672.3,381.2L672.7,383.6L673.1,383.5L673.5,385.0L673.9,383.0L674.3,383.1L674.7,382.4L675.1,384.6" fill="none" stroke="#3b8ff0" stroke-width="0.90" stroke-linejoin="round"/>
<line x1="57.8" y1="402.50" x2="675.4" y2="402.50" stroke="#7a82aa" stroke-width="1.1"/>
<line x1="57.8" y1="7" x2="57.8" y2="402.3" stroke="#000" stroke-width="1.5"/>
<path d="M54,18.80H57.8M55.8,14.18H57.8M55.8,11.48H57.8M55.8,9.56H57.8M55.8,8.07H57.8M54,34.15H57.8M55.8,29.53H57.8M55.8,26.83H57.8M55.8,24.91H57.8M55.8,23.42H57.8M55.8,22.21H57.8M55.8,21.18H57.8M55.8,20.29H57.8M55.8,19.50H57.8M54,49.50H57.8M55.8,44.88H57.8M55.8,42.18H57.8M55.8,40.26H57.8M55.8,38.77H57.8M55.8,37.56H57.8M55.8,36.53H57.8M55.8,35.64H57.8M55.8,34.85H57.8M54,64.85H57.8M55.8,60.23H57.8M55.8,57.53H57.8M55.8,55.61H57.8M55.8,54.12H57.8M55.8,52.91H57.8M55.8,51.88H57.8M55.8,50.99H57.8M55.8,50.20H57.8M54,80.20H57.8M55.8,75.58H57.8M55.8,72.88H57.8M55.8,70.96H57.8M55.8,69.47H57.8M55.8,68.26H57.8M55.8,67.23H57.8M55.8,66.34H57.8M55.8,65.55H57.8M54,95.55H57.8M55.8,90.93H57.8M55.8,88.23H57.8M55.8,86.31H57.8M55.8,84.82H57.8M55.8,83.61H57.8M55.8,82.58H57.8M55.8,81.69H57.8M55.8,80.90H57.8M55.8,14.18H57.8M55.8,11.48H57.8M55.8,9.56H57.8M55.8,8.07H57.8M54,117.50H57.8M55.8,112.88H57.8M55.8,110.18H57.8M55.8,108.26H57.8M55.8,106.77H57.8M54,132.85H57.8M55.8,128.23H57.8M55.8,125.53H57.8M55.8,123.61H57.8M55.8,122.12H57.8M55.8,120.91H57.8M55.8,119.88H57.8M55.8,118.99H57.8M55.8,118.20H57.8M54,148.20H57.8M55.8,143.58H57.8M55.8,140.88H57.8M55.8,138.96H57.8M55.8,137.47H57.8M55.8,136.26H57.8M55.8,135.23H57.8M55.8,134.34H57.8M55.8,133.55H57.8M54,163.55H57.8M55.8,158.93H57.8M55.8,156.23H57.8M55.8,154.31H57.8M55.8,152.82H57.8M55.8,151.61H57.8M55.8,150.58H57.8M55.8,149.69H57.8M55.8,148.90H57.8M54,178.90H57.8M55.8,174.28H57.8M55.8,171.58H57.8M55.8,169.66H57.8M55.8,168.17H57.8M55.8,166.96H57.8M55.8,165.93H57.8M55.8,165.04H57.8M55.8,164.25H57.8M54,194.25H57.8M55.8,189.63H57.8M55.8,186.93H57.8M55.8,185.01H57.8M55.8,183.52H57.8M55.8,182.31H57.8M55.8,181.28H57.8M55.8,180.39H57.8M55.8,179.60H57.8M55.8,112.88H57.8M55.8,110.18H57.8M55.8,108.26H57.8M55.8,106.77H57.8M54,216.20H57.8M55.8,211.58H57.8M55.8,208.88H57.8M55.8,206.96H57.8M55.8,205.47H57.8M54,231.55H57.8M55.8,226.93H57.8M55.8,224.23H57.8M55.8,222.31H57.8M55.8,220.82H57.8M55.8,219.61H57.8M55.8,218.58H57.8M55.8,217.69H57.8M55.8,216.90H57.8M54,246.90H57.8M55.8,242.28H57.8M55.8,239.58H57.8M55.8,237.66H57.8M55.8,236.17H57.8M55.8,234.96H57.8M55.8,233.93H57.8M55.8,233.04H57.8M55.8,232.25H57.8M54,262.25H57.8M55.8,257.63H57.8M55.8,254.93H57.8M55.8,253.01H57.8M55.8,251.52H57.8M55.8,250.31H57.8M55.8,249.28H57.8M55.8,248.39H57.8M55.8,247.60H57.8M54,277.60H57.8M55.8,272.98H57.8M55.8,270.28H57.8M55.8,268.36H57.8M55.8,266.87H57.8M55.8,265.66H57.8M55.8,264.63H57.8M55.8,263.74H57.8M55.8,262.95H57.8M54,292.95H57.8M55.8,288.33H57.8M55.8,285.63H57.8M55.8,283.71H57.8M55.8,282.22H57.8M55.8,281.01H57.8M55.8,279.98H57.8M55.8,279.09H57.8M55.8,278.30H57.8M55.8,211.58H57.8M55.8,208.88H57.8M55.8,206.96H57.8M55.8,205.47H57.8M54,314.90H57.8M55.8,310.28H57.8M55.8,307.58H57.8M55.8,305.66H57.8M55.8,304.17H57.8M54,330.25H57.8M55.8,325.63H57.8M55.8,322.93H57.8M55.8,321.01H57.8M55.8,319.52H57.8M55.8,318.31H57.8M55.8,317.28H57.8M55.8,316.39H57.8M55.8,315.60H57.8M54,345.60H57.8M55.8,340.98H57.8M55.8,338.28H57.8M55.8,336.36H57.8M55.8,334.87H57.8M55.8,333.66H57.8M55.8,332.63H57.8M55.8,331.74H57.8M55.8,330.95H57.8M54,360.95H57.8M55.8,356.33H57.8M55.8,353.63H57.8M55.8,351.71H57.8M55.8,350.22H57.8M55.8,349.01H57.8M55.8,347.98H57.8M55.8,347.09H57.8M55.8,346.30H57.8M54,376.30H57.8M55.8,371.68H57.8M55.8,368.98H57.8M55.8,367.06H57.8M55.8,365.57H57.8M55.8,364.36H57.8M55.8,363.33H57.8M55.8,362.44H57.8M55.8,361.65H57.8M54,391.65H57.8M55.8,387.03H57.8M55.8,384.33H57.8M55.8,382.41H57.8M55.8,380.92H57.8M55.8,379.71H57.8M55.8,378.68H57.8M55.8,377.79H57.8M55.8,377.00H57.8M55.8,310.28H57.8M55.8,307.58H57.8M55.8,305.66H57.8M55.8,304.17H57.8" stroke="#000" stroke-width="0.9" fill="none"/>
<path d="M57.80,402.3V405.3M134.90,402.3V403.9M212.00,402.3V405.3M289.10,402.3V403.9M366.20,402.3V405.3M443.30,402.3V403.9M520.40,402.3V405.3M597.50,402.3V403.9M674.60,402.3V405.3" stroke="#222" stroke-width="0.9" fill="none"/>
<text x="22.9" y="23.3" font-family="Liberation Sans, sans-serif" font-size="13.2">10<tspan font-size="8.6" dx="0.6" dy="-5.8">−1</tspan></text>
<text x="22.9" y="54.0" font-family="Liberation Sans, sans-serif" font-size="13.2">10<tspan font-size="8.6" dx="0.6" dy="-5.8">−3</tspan></text>
<text x="22.9" y="84.7" font-family="Liberation Sans, sans-serif" font-size="13.2">10<tspan font-size="8.6" dx="0.6" dy="-5.8">−5</tspan></text>
<text x="22.9" y="122.0" font-family="Liberation Sans, sans-serif" font-size="13.2">10<tspan font-size="8.6" dx="0.6" dy="-5.8">−1</tspan></text>
<text x="22.9" y="152.7" font-family="Liberation Sans, sans-serif" font-size="13.2">10<tspan font-size="8.6" dx="0.6" dy="-5.8">−3</tspan></text>
<text x="22.9" y="183.4" font-family="Liberation Sans, sans-serif" font-size="13.2">10<tspan font-size="8.6" dx="0.6" dy="-5.8">−5</tspan></text>
<text x="22.9" y="220.7" font-family="Liberation Sans, sans-serif" font-size="13.2">10<tspan font-size="8.6" dx="0.6" dy="-5.8">−1</tspan></text>
<text x="22.9" y="251.4" font-family="Liberation Sans, sans-serif" font-size="13.2">10<tspan font-size="8.6" dx="0.6" dy="-5.8">−3</tspan></text>
<text x="22.9" y="282.1" font-family="Liberation Sans, sans-serif" font-size="13.2">10<tspan font-size="8.6" dx="0.6" dy="-5.8">−5</tspan></text>
<text x="22.9" y="319.4" font-family="Liberation Sans, sans-serif" font-size="13.2">10<tspan font-size="8.6" dx="0.6" dy="-5.8">−1</tspan></text>
<text x="22.9" y="350.1" font-family="Liberation Sans, sans-serif" font-size="13.2">10<tspan font-size="8.6" dx="0.6" dy="-5.8">−3</tspan></text>
<text x="22.9" y="380.8" font-family="Liberation Sans, sans-serif" font-size="13.2">10<tspan font-size="8.6" dx="0.6" dy="-5.8">−5</tspan></text>
<text x="57.8" y="422.2" font-family="Liberation Sans, sans-serif" font-size="13.3" text-anchor="middle" font-weight="normal" font-style="normal" fill="#000" >0</text>
<text x="212.0" y="422.2" font-family="Liberation Sans, sans-serif" font-size="13.3" text-anchor="middle" font-weight="normal" font-style="normal" fill="#000" >200</text>
<text x="366.2" y="422.2" font-family="Liberation Sans, sans-serif" font-size="13.3" text-anchor="middle" font-weight="normal" font-style="normal" fill="#000" >400</text>
<text x="520.4" y="422.2" font-family="Liberation Sans, sans-serif" font-size="13.3" text-anchor="middle" font-weight="normal" font-style="normal" fill="#000" >600</text>
<text x="674.6" y="422.2" font-family="Liberation Sans, sans-serif" font-size="13.3" text-anchor="middle" font-weight="normal" font-style="normal" fill="#000" >800</text>
<text x="366.4" y="443.3" font-family="Liberation Sans, sans-serif" font-size="13.3" text-anchor="middle" font-weight="normal" font-style="normal" fill="#000" >Frequency (kHz)</text>
<text transform="translate(10.4,204.5) rotate(-90)" x="0" y="0" text-anchor="middle" font-family="Liberation Sans, sans-serif" font-size="13.3">Amplitude (a.u.)</text>
<text x="-0.8" y="10.2" font-family="Liberation Sans, sans-serif" font-size="18.5" text-anchor="start" font-weight="bold" font-style="normal" fill="#000" >a</text>
<text x="63.0" y="25.5" font-family="Liberation Sans, sans-serif" font-size="14.2" text-anchor="start" font-weight="bold" font-style="normal" fill="#000" >a1</text>
<text x="63.0" y="123.5" font-family="Liberation Sans, sans-serif" font-size="14.2" text-anchor="start" font-weight="bold" font-style="normal" fill="#000" >a2</text>
<text x="63.0" y="221.0" font-family="Liberation Sans, sans-serif" font-size="14.2" text-anchor="start" font-weight="bold" font-style="normal" fill="#000" >a3</text>
<text x="63.0" y="320.0" font-family="Liberation Sans, sans-serif" font-size="14.2" text-anchor="start" font-weight="bold" font-style="normal" fill="#000" >a4</text>
<text x="668.6" y="24.4" font-family="Liberation Sans, sans-serif" font-size="13.2" text-anchor="end" font-weight="normal" font-style="normal" fill="#000" >Harmonic</text>
<text x="668.6" y="123.1" font-family="Liberation Sans, sans-serif" font-size="13.2" text-anchor="end" font-weight="normal" font-style="normal" fill="#000" >Subharmonic (Arnold tongue)</text>
<text x="668.6" y="221.8" font-family="Liberation Sans, sans-serif" font-size="13.2" text-anchor="end" font-weight="normal" font-style="normal" fill="#000" >Chaos</text>
<text x="668.6" y="320.5" font-family="Liberation Sans, sans-serif" font-size="13.2" text-anchor="end" font-weight="normal" font-style="normal" fill="#000" >AFC</text>
<text x="227.6" y="57.7" font-family="Liberation Sans, sans-serif" font-size="12.8"><tspan font-style="italic">f</tspan><tspan font-size="9" dy="3.2">r</tspan></text>
<text x="390.0" y="57.7" font-family="Liberation Sans, sans-serif" font-size="12.8">2<tspan font-style="italic">f</tspan><tspan font-size="9" dy="3.2">r</tspan></text>
<text x="553.4" y="57.7" font-family="Liberation Sans, sans-serif" font-size="12.8">3<tspan font-style="italic">f</tspan><tspan font-size="9" dy="3.2">r</tspan></text>
<text x="227.6" y="165.2" font-family="Liberation Sans, sans-serif" font-size="12.8"><tspan font-style="italic">f</tspan><tspan font-size="9" dy="3.2">r</tspan></text>
<text x="390.0" y="165.2" font-family="Liberation Sans, sans-serif" font-size="12.8">2<tspan font-style="italic">f</tspan><tspan font-size="9" dy="3.2">r</tspan></text>
<text x="553.4" y="165.2" font-family="Liberation Sans, sans-serif" font-size="12.8">3<tspan font-style="italic">f</tspan><tspan font-size="9" dy="3.2">r</tspan></text>
<text x="227.6" y="255.2" font-family="Liberation Sans, sans-serif" font-size="12.8"><tspan font-style="italic">f</tspan><tspan font-size="9" dy="3.2">r</tspan></text>
<text x="390.0" y="255.2" font-family="Liberation Sans, sans-serif" font-size="12.8">2<tspan font-style="italic">f</tspan><tspan font-size="9" dy="3.2">r</tspan></text>
<text x="553.4" y="255.2" font-family="Liberation Sans, sans-serif" font-size="12.8">3<tspan font-style="italic">f</tspan><tspan font-size="9" dy="3.2">r</tspan></text>
<text x="227.6" y="341.0" font-family="Liberation Sans, sans-serif" font-size="12.8"><tspan font-style="italic">f</tspan><tspan font-size="9" dy="3.2">r</tspan></text>
<text x="390.0" y="341.0" font-family="Liberation Sans, sans-serif" font-size="12.8">2<tspan font-style="italic">f</tspan><tspan font-size="9" dy="3.2">r</tspan></text>
<text x="553.4" y="341.0" font-family="Liberation Sans, sans-serif" font-size="12.8">3<tspan font-style="italic">f</tspan><tspan font-size="9" dy="3.2">r</tspan></text>
<text x="66.6" y="177.0" font-family="Liberation Sans, sans-serif" font-size="12.8"><tspan font-family="Liberation Serif, serif" font-size="13.5">Δ</tspan><tspan font-style="italic" dx="0.6">f</tspan></text>
<line x1="61.64" y1="185.60" x2="82.16" y2="185.60" stroke="#4372c8" stroke-width="1.20"/>
<path d="M58.60,185.60L62.40,183.20L61.45,185.60L62.40,188.00Z" fill="#4372c8"/>
<path d="M85.20,185.60L81.40,183.20L82.35,185.60L81.40,188.00Z" fill="#4372c8"/>
<g stroke="#333" stroke-width="1.3" fill="none"><path d="M26.3,603.0V480.5"/><path d="M25.7,602.4H149.3"/></g>
<path d="M26.3,477.5L23.6,482.7L29.0,482.7Z" fill="#222"/>
<path d="M152.3,602.4L147.1,599.7L147.1,605.1Z" fill="#222"/>
<circle cx="84.6" cy="544.6" r="48.7" fill="none" stroke="#444" stroke-width="1.05"/>
<path d="M131.75,532.41A48.7,48.7 0 0 0 48.52,511.89" fill="none" stroke="#17aeee" stroke-width="1.4"/>
<path d="M46.31,514.33L48.52,507.43L48.86,511.52L52.96,511.46Z" fill="#17aeee"/>
<line x1="84.60" y1="544.80" x2="124.27" y2="534.27" stroke="#46546f" stroke-width="1.3" stroke-dasharray="3.4,2.3"/>
<path d="M126.80,533.60L122.49,537.64L123.78,534.40L121.06,532.23Z" fill="#46546f"/>
<circle cx="131.3" cy="532.4" r="2.9" fill="#17aeee"/>
<g stroke="#333" stroke-width="1.3" fill="none"><path d="M196.3,603.0V480.5"/><path d="M195.7,602.4H319.3"/></g>
<path d="M196.3,477.5L193.6,482.7L199.0,482.7Z" fill="#222"/>
<path d="M322.3,602.4L317.1,599.7L317.1,605.1Z" fill="#222"/>
<circle cx="254.6" cy="544.6" r="48.7" fill="none" stroke="#444" stroke-width="1.05"/>
<path d="M294.35,516.46A48.7,48.7 0 0 0 218.52,511.89" fill="none" stroke="#17aeee" stroke-width="1.4"/>
<path d="M216.31,514.33L218.52,507.43L218.86,511.52L222.96,511.46Z" fill="#17aeee"/>
<line x1="253.50" y1="544.60" x2="288.75" y2="520.07" stroke="#46546f" stroke-width="1.3" stroke-dasharray="3.4,2.3"/>
<path d="M291.00,518.50L288.33,523.77L288.44,520.28L285.13,519.17Z" fill="#46546f"/>
<line x1="253.50" y1="544.60" x2="296.27" y2="535.86" stroke="#46546f" stroke-width="1.3" stroke-dasharray="3.4,2.3"/>
<path d="M299.00,535.30L294.47,539.08L295.94,535.92L293.34,533.60Z" fill="#46546f"/>
<path d="M270.6,532.4 Q274.5,535.5 274.3,540.2" fill="none" stroke="#46546f" stroke-width="1.1"/>
<g stroke="#17aeee" stroke-width="1.2" fill="none"><path d="M316.9,500.9L300.5,512.1"/><path d="M316.9,500.9L302.8,533.6"/></g>
<path d="M297.60,514.10L300.74,508.78L300.90,511.83L303.69,513.07Z" fill="#17aeee"/>
<circle cx="316.9" cy="500.9" r="2.9" fill="#17aeee"/>
<circle cx="294.5" cy="516.3" r="2.9" fill="#17aeee"/>
<circle cx="302.8" cy="533.6" r="2.9" fill="#17aeee"/>
<text x="-0.5" y="481.3" font-family="Liberation Sans, sans-serif" font-size="18.8" text-anchor="start" font-weight="bold" font-style="normal" fill="#000" >b</text>
<text x="33.4" y="487.0" font-family="Liberation Sans, sans-serif" font-size="14.4" text-anchor="start" font-weight="bold" font-style="normal" fill="#000" >b1</text>
<text x="202.0" y="487.0" font-family="Liberation Sans, sans-serif" font-size="14.4" text-anchor="start" font-weight="bold" font-style="normal" fill="#000" >b2</text>
<text x="12.0" y="541.8" font-family="Liberation Sans, sans-serif" font-size="14.0" text-anchor="start" font-weight="normal" font-style="italic" fill="#000" >y</text>
<text x="182.0" y="541.8" font-family="Liberation Sans, sans-serif" font-size="14.0" text-anchor="start" font-weight="normal" font-style="italic" fill="#000" >y</text>
<text x="84.6" y="616.8" font-family="Liberation Sans, sans-serif" font-size="14.0" text-anchor="middle" font-weight="normal" font-style="italic" fill="#000" >x</text>
<text x="254.6" y="616.8" font-family="Liberation Sans, sans-serif" font-size="14.0" text-anchor="middle" font-weight="normal" font-style="italic" fill="#000" >x</text>
<text x="248.8" y="492.8" font-family="Liberation Sans, sans-serif" font-size="13.4" text-anchor="start" font-weight="normal" font-style="normal" fill="#000" >Perturbation</text>
<text x="250.6" y="525.5" font-family="Liberation Serif, serif" font-size="13.0" text-anchor="start" font-weight="normal" font-style="normal" fill="#000" >δφ</text>
<text x="217.8" y="562.5" font-family="Liberation Sans, sans-serif" font-size="13.3" text-anchor="start" font-weight="normal" font-style="normal" fill="#000" >Phase reset</text>
<defs><linearGradient id="gb" x1="0" y1="480.8" x2="0" y2="598.2" gradientUnits="userSpaceOnUse"><stop offset="0" stop-color="#c8dcf2"/><stop offset="0.5" stop-color="#8fd3f2"/><stop offset="1" stop-color="#2cc6f8"/></linearGradient><linearGradient id="gr" x1="0" y1="480.8" x2="0" y2="598.2" gradientUnits="userSpaceOnUse"><stop offset="0" stop-color="#fdeef3"/><stop offset="0.45" stop-color="#fcc4c8"/><stop offset="0.8" stop-color="#fb9e8e"/><stop offset="1" stop-color="#f98268"/></linearGradient><linearGradient id="go" x1="0" y1="480.8" x2="0" y2="543.4" gradientUnits="userSpaceOnUse"><stop offset="0" stop-color="#cbd9f1"/><stop offset="0.45" stop-color="#c6c0da"/><stop offset="1" stop-color="#c8a6ba"/></linearGradient></defs>
<path d="M390.99,480.80L393.36,482.79L395.71,484.78L398.04,486.77L400.33,488.76L402.60,490.75L404.84,492.74L407.06,494.73L409.25,496.72L411.41,498.71L413.54,500.70L415.65,502.69L417.73,504.68L419.78,506.67L421.81,508.66L423.81,510.65L425.78,512.64L427.73,514.63L429.64,516.62L431.53,518.61L433.40,520.60L435.24,522.59L437.05,524.58L438.83,526.57L440.58,528.56L442.31,530.55L444.01,532.54L445.69,534.53L447.34,536.52L448.96,538.51L450.55,540.49L452.12,542.48L453.66,544.47L455.17,546.46L456.65,548.45L458.11,550.44L459.54,552.43L460.95,554.42L462.32,556.41L463.67,558.40L465.00,560.39L466.29,562.38L467.56,564.37L468.80,566.36L470.02,568.35L471.21,570.34L472.37,572.33L473.50,574.32L474.61,576.31L475.69,578.30L476.74,580.29L477.77,582.28L478.77,584.27L479.74,586.26L480.68,588.25L481.60,590.24L482.49,592.23L483.35,594.22L484.19,596.21L485.00,598.20L485.00,598.20L485.81,596.21L486.65,594.22L487.52,592.23L488.41,590.24L489.34,588.25L490.29,586.26L491.27,584.27L492.28,582.28L493.32,580.29L494.39,578.30L495.48,576.31L496.61,574.32L497.76,572.33L498.94,570.34L500.15,568.35L501.39,566.36L502.65,564.37L503.95,562.38L505.27,560.39L506.63,558.40L508.01,556.41L509.42,554.42L510.86,552.43L512.32,550.44L513.82,548.45L515.34,546.46L516.89,544.47L518.47,542.48L520.08,540.49L521.72,538.51L523.39,536.52L525.08,534.53L526.81,532.54L528.56,530.55L530.34,528.56L532.15,526.57L533.98,524.58L535.85,522.59L537.75,520.60L539.67,518.61L541.62,516.62L543.60,514.63L545.61,512.64L547.65,510.65L549.71,508.66L551.81,506.67L553.93,504.68L556.08,502.69L558.26,500.70L560.47,498.71L562.71,496.72L564.97,494.73L567.27,492.74L569.59,490.75L571.94,488.76L574.32,486.77L576.73,484.78L579.17,482.79L581.63,480.80Z" fill="url(#gb)" stroke="none"/>
<path d="M446.95,480.80L449.71,482.79L452.44,484.78L455.13,486.77L457.79,488.76L460.42,490.75L463.01,492.74L465.57,494.73L468.10,496.72L470.59,498.71L473.05,500.70L475.48,502.69L477.87,504.68L480.23,506.67L482.56,508.66L484.85,510.65L487.10,512.64L489.33,514.63L491.52,516.62L493.68,518.61L495.80,520.60L497.89,522.59L499.95,524.58L501.97,526.57L503.96,528.56L505.91,530.55L507.83,532.54L509.72,534.53L511.58,536.52L513.40,538.51L515.19,540.49L516.94,542.48L518.66,544.47L520.35,546.46L522.00,548.45L523.62,550.44L525.20,552.43L526.76,554.42L528.27,556.41L529.76,558.40L531.21,560.39L532.63,562.38L534.01,564.37L535.36,566.36L536.68,568.35L537.96,570.34L539.21,572.33L540.43,574.32L541.61,576.31L542.76,578.30L543.88,580.29L544.96,582.28L546.01,584.27L547.02,586.26L548.00,588.25L548.95,590.24L549.86,592.23L550.74,594.22L551.59,596.21L552.40,598.20L552.40,598.20L553.13,596.21L553.90,594.22L554.71,592.23L555.55,590.24L556.43,588.25L557.34,586.26L558.29,584.27L559.28,582.28L560.30,580.29L561.36,578.30L562.45,576.31L563.58,574.32L564.74,572.33L565.94,570.34L567.18,568.35L568.45,566.36L569.76,564.37L571.10,562.38L572.48,560.39L573.90,558.40L575.35,556.41L576.84,554.42L578.36,552.43L579.92,550.44L581.51,548.45L583.14,546.46L584.81,544.47L586.51,542.48L588.25,540.49L590.03,538.51L591.84,536.52L593.68,534.53L595.56,532.54L597.48,530.55L599.43,528.56L601.42,526.57L603.45,524.58L605.51,522.59L607.61,520.60L609.74,518.61L611.91,516.62L614.11,514.63L616.35,512.64L618.63,510.65L620.94,508.66L623.29,506.67L625.67,504.68L628.09,502.69L630.55,500.70L633.04,498.71L635.56,496.72L638.13,494.73L640.73,492.74L643.36,490.75L646.03,488.76L648.74,486.77L651.48,484.78L654.26,482.79L657.07,480.80Z" fill="url(#gr)" stroke="none"/>
<path d="M446.95,480.80L449.18,482.41L451.39,484.01L453.57,485.62L455.74,487.22L457.88,488.83L460.00,490.43L462.10,492.04L464.18,493.64L466.24,495.25L468.27,496.85L470.28,498.46L472.27,500.06L474.24,501.67L476.19,503.27L478.11,504.88L480.01,506.48L481.90,508.09L483.75,509.70L485.59,511.30L487.41,512.91L489.20,514.51L490.97,516.12L492.72,517.72L494.45,519.33L496.16,520.93L497.84,522.54L499.50,524.14L501.14,525.75L502.76,527.35L504.36,528.96L505.93,530.56L507.48,532.17L509.01,533.77L510.52,535.38L512.01,536.99L513.48,538.59L514.92,540.20L516.34,541.80L517.74,543.41L517.74,543.41L519.02,541.80L520.33,540.20L521.65,538.59L522.99,536.99L524.35,535.38L525.73,533.77L527.13,532.17L528.54,530.56L529.98,528.96L531.43,527.35L532.90,525.75L534.39,524.14L535.90,522.54L537.42,520.93L538.97,519.33L540.53,517.72L542.12,516.12L543.72,514.51L545.34,512.91L546.98,511.30L548.63,509.70L550.31,508.09L552.00,506.48L553.71,504.88L555.45,503.27L557.20,501.67L558.96,500.06L560.75,498.46L562.56,496.85L564.38,495.25L566.22,493.64L568.08,492.04L569.96,490.43L571.86,488.83L573.78,487.22L575.71,485.62L577.67,484.01L579.64,482.41L581.63,480.80Z" fill="url(#go)"/>
<path d="M390.99,480.80L393.36,482.79L395.71,484.78L398.04,486.77L400.33,488.76L402.60,490.75L404.84,492.74L407.06,494.73L409.25,496.72L411.41,498.71L413.54,500.70L415.65,502.69L417.73,504.68L419.78,506.67L421.81,508.66L423.81,510.65L425.78,512.64L427.73,514.63L429.64,516.62L431.53,518.61L433.40,520.60L435.24,522.59L437.05,524.58L438.83,526.57L440.58,528.56L442.31,530.55L444.01,532.54L445.69,534.53L447.34,536.52L448.96,538.51L450.55,540.49L452.12,542.48L453.66,544.47L455.17,546.46L456.65,548.45L458.11,550.44L459.54,552.43L460.95,554.42L462.32,556.41L463.67,558.40L465.00,560.39L466.29,562.38L467.56,564.37L468.80,566.36L470.02,568.35L471.21,570.34L472.37,572.33L473.50,574.32L474.61,576.31L475.69,578.30L476.74,580.29L477.77,582.28L478.77,584.27L479.74,586.26L480.68,588.25L481.60,590.24L482.49,592.23L483.35,594.22L484.19,596.21L485.00,598.20" fill="none" stroke="#8a8a8a" stroke-width="0.6"/>
<path d="M581.63,480.80L579.17,482.79L576.73,484.78L574.32,486.77L571.94,488.76L569.59,490.75L567.27,492.74L564.97,494.73L562.71,496.72L560.47,498.71L558.26,500.70L556.08,502.69L553.93,504.68L551.81,506.67L549.71,508.66L547.65,510.65L545.61,512.64L543.60,514.63L541.62,516.62L539.67,518.61L537.75,520.60L535.85,522.59L533.98,524.58L532.15,526.57L530.34,528.56L528.56,530.55L526.81,532.54L525.08,534.53L523.39,536.52L521.72,538.51L520.08,540.49L518.47,542.48L516.89,544.47L515.34,546.46L513.82,548.45L512.32,550.44L510.86,552.43L509.42,554.42L508.01,556.41L506.63,558.40L505.27,560.39L503.95,562.38L502.65,564.37L501.39,566.36L500.15,568.35L498.94,570.34L497.76,572.33L496.61,574.32L495.48,576.31L494.39,578.30L493.32,580.29L492.28,582.28L491.27,584.27L490.29,586.26L489.34,588.25L488.41,590.24L487.52,592.23L486.65,594.22L485.81,596.21L485.00,598.20" fill="none" stroke="#8a8a8a" stroke-width="0.6"/>
<path d="M446.95,480.80L449.71,482.79L452.44,484.78L455.13,486.77L457.79,488.76L460.42,490.75L463.01,492.74L465.57,494.73L468.10,496.72L470.59,498.71L473.05,500.70L475.48,502.69L477.87,504.68L480.23,506.67L482.56,508.66L484.85,510.65L487.10,512.64L489.33,514.63L491.52,516.62L493.68,518.61L495.80,520.60L497.89,522.59L499.95,524.58L501.97,526.57L503.96,528.56L505.91,530.55L507.83,532.54L509.72,534.53L511.58,536.52L513.40,538.51L515.19,540.49L516.94,542.48L518.66,544.47L520.35,546.46L522.00,548.45L523.62,550.44L525.20,552.43L526.76,554.42L528.27,556.41L529.76,558.40L531.21,560.39L532.63,562.38L534.01,564.37L535.36,566.36L536.68,568.35L537.96,570.34L539.21,572.33L540.43,574.32L541.61,576.31L542.76,578.30L543.88,580.29L544.96,582.28L546.01,584.27L547.02,586.26L548.00,588.25L548.95,590.24L549.86,592.23L550.74,594.22L551.59,596.21L552.40,598.20" fill="none" stroke="#8a8a8a" stroke-width="0.6"/>
<path d="M657.07,480.80L654.26,482.79L651.48,484.78L648.74,486.77L646.03,488.76L643.36,490.75L640.73,492.74L638.13,494.73L635.56,496.72L633.04,498.71L630.55,500.70L628.09,502.69L625.67,504.68L623.29,506.67L620.94,508.66L618.63,510.65L616.35,512.64L614.11,514.63L611.91,516.62L609.74,518.61L607.61,520.60L605.51,522.59L603.45,524.58L601.42,526.57L599.43,528.56L597.48,530.55L595.56,532.54L593.68,534.53L591.84,536.52L590.03,538.51L588.25,540.49L586.51,542.48L584.81,544.47L583.14,546.46L581.51,548.45L579.92,550.44L578.36,552.43L576.84,554.42L575.35,556.41L573.90,558.40L572.48,560.39L571.10,562.38L569.76,564.37L568.45,566.36L567.18,568.35L565.94,570.34L564.74,572.33L563.58,574.32L562.45,576.31L561.36,578.30L560.30,580.29L559.28,582.28L558.29,584.27L557.34,586.26L556.43,588.25L555.55,590.24L554.71,592.23L553.90,594.22L553.13,596.21L552.40,598.20" fill="none" stroke="#8a8a8a" stroke-width="0.6"/>
<line x1="485.0" y1="480.8" x2="485.0" y2="597.2" stroke="#4f7fd2" stroke-width="1.3" stroke-dasharray="8.3,3.1"/>
<line x1="552.4" y1="480.8" x2="552.4" y2="597.2" stroke="#4f7fd2" stroke-width="1.3" stroke-dasharray="8.3,3.1"/>
<line x1="488.24" y1="578.40" x2="548.76" y2="578.40" stroke="#4372c8" stroke-width="1.20"/>
<path d="M485.20,578.40L489.00,576.00L488.05,578.40L489.00,580.80Z" fill="#4372c8"/>
<path d="M551.80,578.40L548.00,576.00L548.95,578.40L548.00,580.80Z" fill="#4372c8"/>
<g stroke="#333" stroke-width="1.3" fill="none"><path d="M380.8,602.2V479.5"/><path d="M380.2,601.6H673.3"/></g>
<path d="M380.8,476.5L378.1,481.7L383.5,481.7Z" fill="#222"/>
<path d="M676.3,601.6L671.1,598.9L671.1,604.3Z" fill="#222"/>
<text x="362.6" y="481.2" font-family="Liberation Sans, sans-serif" font-size="18.6" text-anchor="start" font-weight="bold" font-style="normal" fill="#000" >c</text>
<text transform="translate(372.2,540.8) rotate(-90)" x="0" y="0" text-anchor="middle" font-family="Liberation Sans, sans-serif" font-size="13.2">Coupling strength</text>
<text x="498.2" y="505.4" font-family="Liberation Sans, sans-serif" font-size="13.3" text-anchor="start" font-weight="normal" font-style="normal" fill="#000" >Chaos</text>
<text x="386.6" y="524.6" font-family="Liberation Sans, sans-serif" font-size="13.3" text-anchor="start" font-weight="normal" font-style="normal" fill="#000" >Synchronization</text>
<text x="560.6" y="525.2" font-family="Liberation Sans, sans-serif" font-size="13.3" text-anchor="start" font-weight="normal" font-style="normal" fill="#000" >Synchronization</text>
<text x="449.6" y="553.9" font-family="Liberation Sans, sans-serif" font-size="13">m<tspan font-style="italic">f</tspan><tspan font-size="9" dy="3.2">r</tspan><tspan dy="-3.2">/n</tspan></text>
<text x="558.6" y="554.5" font-family="Liberation Sans, sans-serif" font-size="13"><tspan font-style="italic">f</tspan><tspan font-size="9" dy="3.2">r</tspan></text>
<text x="516.6" y="574.4" font-family="Liberation Sans, sans-serif" font-size="13"><tspan font-family="Liberation Serif, serif" font-size="13.5">Δ</tspan><tspan font-style="italic" dx="0.6">f</tspan></text>
<text x="616.8" y="595.8" font-family="Liberation Sans, sans-serif" font-size="13.7" text-anchor="start" font-weight="normal" font-style="normal" fill="#000" >Detuning</text>
<text x="482.8" y="617.6" font-family="Liberation Sans, sans-serif" font-size="13.3" text-anchor="start" font-weight="normal" font-style="normal" fill="#000" >Arnold tongues</text>
</svg>
</body></html>
